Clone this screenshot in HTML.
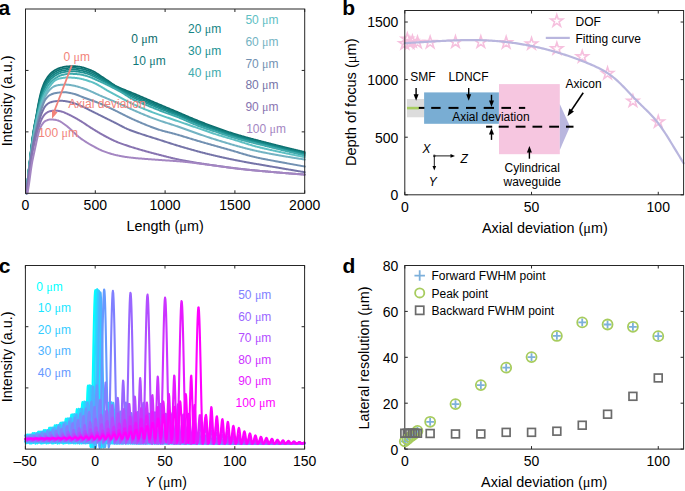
<!DOCTYPE html>
<html><head><meta charset="utf-8"><style>
html,body{margin:0;padding:0;background:#fff;}
svg{display:block;}
text{font-family:"Liberation Sans",sans-serif;}
</style></head><body>
<svg width="685" height="491" viewBox="0 0 685 491">
<rect width="685" height="491" fill="#fff"/>
<path d="M26.50,193.30 L27.20,184.81 L27.89,177.09 L28.59,170.30 L29.29,164.13 L29.99,158.12 L30.68,151.97 L31.38,145.94 L32.08,140.42 L32.78,135.39 L33.47,130.74 L34.17,126.52 L34.87,122.81 L35.56,119.31 L36.26,115.60 L36.96,111.53 L37.66,107.44 L38.35,103.73 L39.05,100.24 L39.75,96.92 L40.44,93.91 L41.14,91.36 L41.84,89.13 L42.54,87.07 L43.23,85.18 L43.93,83.46 L44.63,81.95 L45.33,80.63 L46.02,79.46 L46.72,78.37 L47.42,77.33 L48.11,76.37 L48.81,75.47 L49.51,74.63 L50.21,73.86 L50.90,73.16 L51.60,72.52 L52.30,71.95 L53.00,71.44 L53.69,70.95 L54.39,70.49 L55.09,70.06 L55.78,69.66 L56.48,69.29 L57.18,68.94 L57.88,68.63 L58.57,68.35 L59.27,68.11 L59.97,67.89 L60.66,67.68 L61.36,67.48 L62.06,67.29 L62.76,67.11 L63.45,66.95 L64.15,66.80 L64.85,66.67 L65.55,66.56 L66.24,66.47 L66.94,66.40 L67.64,66.35 L68.33,66.30 L69.03,66.25 L69.73,66.21 L70.43,66.18 L71.12,66.14 L71.82,66.12 L72.52,66.11 L73.22,66.10 L73.91,66.11 L74.61,66.14 L75.31,66.19 L76.00,66.25 L76.70,66.33 L77.40,66.42 L78.10,66.52 L78.79,66.61 L79.49,66.71 L80.19,66.82 L80.88,66.95 L81.58,67.10 L82.28,67.26 L82.98,67.44 L83.67,67.63 L84.37,67.83 L85.07,68.05 L85.77,68.28 L86.46,68.51 L87.16,68.76 L87.86,69.02 L88.55,69.28 L89.25,69.55 L89.95,69.83 L90.65,70.11 L91.34,70.39 L92.04,70.69 L92.74,71.01 L93.44,71.35 L94.13,71.72 L94.83,72.11 L95.53,72.52 L96.22,72.94 L96.92,73.38 L97.62,73.83 L98.32,74.28 L99.01,74.75 L99.71,75.22 L100.41,75.69 L101.11,76.16 L101.80,76.63 L102.50,77.09 L103.20,77.55 L103.89,78.00 L104.59,78.44 L105.29,78.90 L105.99,79.37 L106.68,79.85 L107.38,80.33 L108.08,80.82 L108.77,81.31 L109.47,81.80 L110.17,82.28 L110.87,82.76 L111.56,83.24 L112.26,83.70 L112.96,84.16 L113.66,84.60 L114.35,85.02 L115.05,85.43 L115.75,85.81 L116.44,86.18 L117.14,86.53 L117.84,86.87 L118.54,87.20 L119.23,87.52 L119.93,87.84 L120.63,88.14 L121.33,88.44 L122.02,88.74 L122.72,89.03 L123.42,89.31 L124.11,89.60 L124.81,89.88 L125.51,90.16 L126.21,90.44 L126.90,90.73 L127.60,91.01 L128.30,91.30 L128.99,91.59 L129.69,91.87 L130.39,92.15 L131.09,92.43 L131.78,92.70 L132.48,92.98 L133.18,93.26 L133.88,93.54 L134.57,93.82 L135.27,94.11 L135.97,94.40 L136.66,94.70 L137.36,95.00 L138.06,95.29 L138.76,95.60 L139.45,95.90 L140.15,96.20 L140.85,96.50 L141.55,96.81 L142.24,97.11 L142.94,97.41 L143.64,97.71 L144.33,98.01 L145.03,98.31 L145.73,98.61 L146.43,98.91 L147.12,99.21 L147.82,99.51 L148.52,99.80 L149.21,100.10 L149.91,100.40 L150.61,100.70 L151.31,100.99 L152.00,101.29 L152.70,101.59 L153.40,101.88 L154.10,102.18 L154.79,102.48 L155.49,102.77 L156.19,103.07 L156.88,103.36 L157.58,103.66 L158.28,103.96 L158.98,104.25 L159.67,104.55 L160.37,104.84 L161.07,105.14 L161.77,105.43 L162.46,105.73 L163.16,106.02 L163.86,106.32 L164.55,106.61 L165.25,106.91 L165.95,107.20 L166.65,107.49 L167.34,107.79 L168.04,108.08 L168.74,108.37 L169.43,108.67 L170.13,108.96 L170.83,109.25 L171.53,109.54 L172.22,109.84 L172.92,110.13 L173.62,110.42 L174.32,110.71 L175.01,111.01 L175.71,111.30 L176.41,111.59 L177.10,111.89 L177.80,112.18 L178.50,112.48 L179.20,112.78 L179.89,113.07 L180.59,113.37 L181.29,113.67 L181.99,113.97 L182.68,114.26 L183.38,114.56 L184.08,114.86 L184.77,115.16 L185.47,115.46 L186.17,115.75 L186.87,116.05 L187.56,116.35 L188.26,116.64 L188.96,116.94 L189.65,117.24 L190.35,117.53 L191.05,117.82 L191.75,118.12 L192.44,118.41 L193.14,118.70 L193.84,118.99 L194.54,119.28 L195.23,119.57 L195.93,119.86 L196.63,120.14 L197.32,120.42 L198.02,120.71 L198.72,120.99 L199.42,121.27 L200.11,121.55 L200.81,121.82 L201.51,122.10 L202.21,122.37 L202.90,122.64 L203.60,122.92 L204.30,123.19 L204.99,123.46 L205.69,123.73 L206.39,124.00 L207.09,124.26 L207.78,124.53 L208.48,124.79 L209.18,125.06 L209.87,125.32 L210.57,125.58 L211.27,125.84 L211.97,126.09 L212.66,126.35 L213.36,126.61 L214.06,126.86 L214.76,127.11 L215.45,127.36 L216.15,127.61 L216.85,127.86 L217.54,128.11 L218.24,128.36 L218.94,128.61 L219.64,128.86 L220.33,129.11 L221.03,129.35 L221.73,129.60 L222.43,129.84 L223.12,130.09 L223.82,130.33 L224.52,130.57 L225.21,130.81 L225.91,131.05 L226.61,131.29 L227.31,131.52 L228.00,131.76 L228.70,131.99 L229.40,132.22 L230.09,132.45 L230.79,132.68 L231.49,132.90 L232.19,133.12 L232.88,133.34 L233.58,133.56 L234.28,133.78 L234.98,133.99 L235.67,134.20 L236.37,134.42 L237.07,134.62 L237.76,134.83 L238.46,135.04 L239.16,135.24 L239.86,135.45 L240.55,135.65 L241.25,135.85 L241.95,136.05 L242.65,136.25 L243.34,136.45 L244.04,136.64 L244.74,136.84 L245.43,137.04 L246.13,137.23 L246.83,137.42 L247.53,137.61 L248.22,137.80 L248.92,137.99 L249.62,138.18 L250.32,138.37 L251.01,138.56 L251.71,138.75 L252.41,138.93 L253.10,139.12 L253.80,139.30 L254.50,139.49 L255.20,139.67 L255.89,139.85 L256.59,140.04 L257.29,140.22 L257.98,140.40 L258.68,140.58 L259.38,140.76 L260.08,140.95 L260.77,141.13 L261.47,141.31 L262.17,141.49 L262.87,141.67 L263.56,141.84 L264.26,142.02 L264.96,142.20 L265.65,142.38 L266.35,142.56 L267.05,142.74 L267.75,142.92 L268.44,143.10 L269.14,143.28 L269.84,143.46 L270.54,143.64 L271.23,143.82 L271.93,144.00 L272.63,144.17 L273.32,144.35 L274.02,144.53 L274.72,144.71 L275.42,144.88 L276.11,145.06 L276.81,145.24 L277.51,145.41 L278.20,145.59 L278.90,145.76 L279.60,145.94 L280.30,146.11 L280.99,146.29 L281.69,146.46 L282.39,146.64 L283.09,146.81 L283.78,146.98 L284.48,147.16 L285.18,147.33 L285.87,147.50 L286.57,147.67 L287.27,147.84 L287.97,148.01 L288.66,148.18 L289.36,148.35 L290.06,148.52 L290.76,148.69 L291.45,148.86 L292.15,149.03 L292.85,149.20 L293.54,149.37 L294.24,149.53 L294.94,149.70 L295.64,149.87 L296.33,150.03 L297.03,150.20 L297.73,150.36 L298.42,150.53 L299.12,150.69 L299.82,150.86 L300.52,151.02 L301.21,151.19 L301.91,151.35 L302.61,151.51 L303.31,151.68 L304.00,151.84 L304.70,152.00" fill="none" stroke="#0b6c6c" stroke-width="1.75" stroke-linejoin="round" stroke-linecap="round" />
<path d="M26.50,193.30 L27.20,184.91 L27.89,177.29 L28.59,170.59 L29.29,164.51 L29.99,158.56 L30.68,152.45 L31.38,146.46 L32.08,140.97 L32.78,135.98 L33.47,131.36 L34.17,127.19 L34.87,123.51 L35.56,120.06 L36.26,116.48 L36.96,112.61 L37.66,108.75 L38.35,105.22 L39.05,101.90 L39.75,98.75 L40.44,95.87 L41.14,93.38 L41.84,91.18 L42.54,89.16 L43.23,87.30 L43.93,85.61 L44.63,84.09 L45.33,82.75 L46.02,81.55 L46.72,80.43 L47.42,79.37 L48.11,78.38 L48.81,77.45 L49.51,76.60 L50.21,75.82 L50.90,75.11 L51.60,74.45 L52.30,73.86 L53.00,73.32 L53.69,72.82 L54.39,72.35 L55.09,71.90 L55.78,71.49 L56.48,71.10 L57.18,70.74 L57.88,70.41 L58.57,70.11 L59.27,69.84 L59.97,69.60 L60.66,69.38 L61.36,69.17 L62.06,68.98 L62.76,68.81 L63.45,68.65 L64.15,68.50 L64.85,68.37 L65.55,68.25 L66.24,68.16 L66.94,68.08 L67.64,68.02 L68.33,67.97 L69.03,67.92 L69.73,67.88 L70.43,67.85 L71.12,67.83 L71.82,67.82 L72.52,67.81 L73.22,67.81 L73.91,67.83 L74.61,67.86 L75.31,67.91 L76.00,67.97 L76.70,68.04 L77.40,68.12 L78.10,68.21 L78.79,68.30 L79.49,68.40 L80.19,68.51 L80.88,68.63 L81.58,68.77 L82.28,68.93 L82.98,69.10 L83.67,69.29 L84.37,69.48 L85.07,69.69 L85.77,69.91 L86.46,70.14 L87.16,70.38 L87.86,70.63 L88.55,70.89 L89.25,71.15 L89.95,71.42 L90.65,71.70 L91.34,71.99 L92.04,72.28 L92.74,72.60 L93.44,72.93 L94.13,73.29 L94.83,73.66 L95.53,74.05 L96.22,74.45 L96.92,74.86 L97.62,75.28 L98.32,75.71 L99.01,76.14 L99.71,76.57 L100.41,77.01 L101.11,77.44 L101.80,77.88 L102.50,78.31 L103.20,78.74 L103.89,79.16 L104.59,79.58 L105.29,80.01 L105.99,80.45 L106.68,80.90 L107.38,81.35 L108.08,81.80 L108.77,82.26 L109.47,82.72 L110.17,83.17 L110.87,83.62 L111.56,84.07 L112.26,84.51 L112.96,84.95 L113.66,85.37 L114.35,85.78 L115.05,86.18 L115.75,86.56 L116.44,86.93 L117.14,87.28 L117.84,87.63 L118.54,87.97 L119.23,88.31 L119.93,88.64 L120.63,88.96 L121.33,89.28 L122.02,89.60 L122.72,89.92 L123.42,90.24 L124.11,90.56 L124.81,90.87 L125.51,91.19 L126.21,91.51 L126.90,91.83 L127.60,92.15 L128.30,92.48 L128.99,92.80 L129.69,93.12 L130.39,93.43 L131.09,93.74 L131.78,94.04 L132.48,94.35 L133.18,94.65 L133.88,94.95 L134.57,95.25 L135.27,95.55 L135.97,95.84 L136.66,96.14 L137.36,96.44 L138.06,96.73 L138.76,97.03 L139.45,97.32 L140.15,97.62 L140.85,97.91 L141.55,98.21 L142.24,98.50 L142.94,98.80 L143.64,99.09 L144.33,99.38 L145.03,99.68 L145.73,99.97 L146.43,100.27 L147.12,100.56 L147.82,100.85 L148.52,101.15 L149.21,101.44 L149.91,101.74 L150.61,102.03 L151.31,102.33 L152.00,102.62 L152.70,102.92 L153.40,103.21 L154.10,103.50 L154.79,103.80 L155.49,104.09 L156.19,104.39 L156.88,104.68 L157.58,104.97 L158.28,105.26 L158.98,105.56 L159.67,105.85 L160.37,106.14 L161.07,106.43 L161.77,106.72 L162.46,107.01 L163.16,107.30 L163.86,107.58 L164.55,107.87 L165.25,108.16 L165.95,108.44 L166.65,108.73 L167.34,109.01 L168.04,109.29 L168.74,109.57 L169.43,109.85 L170.13,110.13 L170.83,110.41 L171.53,110.69 L172.22,110.97 L172.92,111.25 L173.62,111.54 L174.32,111.82 L175.01,112.11 L175.71,112.39 L176.41,112.68 L177.10,112.97 L177.80,113.26 L178.50,113.56 L179.20,113.85 L179.89,114.15 L180.59,114.44 L181.29,114.74 L181.99,115.04 L182.68,115.34 L183.38,115.64 L184.08,115.94 L184.77,116.24 L185.47,116.54 L186.17,116.84 L186.87,117.14 L187.56,117.44 L188.26,117.74 L188.96,118.04 L189.65,118.33 L190.35,118.63 L191.05,118.93 L191.75,119.22 L192.44,119.52 L193.14,119.81 L193.84,120.10 L194.54,120.39 L195.23,120.68 L195.93,120.97 L196.63,121.25 L197.32,121.54 L198.02,121.82 L198.72,122.09 L199.42,122.37 L200.11,122.64 L200.81,122.92 L201.51,123.19 L202.21,123.45 L202.90,123.72 L203.60,123.99 L204.30,124.25 L204.99,124.51 L205.69,124.77 L206.39,125.03 L207.09,125.29 L207.78,125.55 L208.48,125.80 L209.18,126.06 L209.87,126.31 L210.57,126.56 L211.27,126.82 L211.97,127.07 L212.66,127.32 L213.36,127.57 L214.06,127.81 L214.76,128.06 L215.45,128.31 L216.15,128.55 L216.85,128.80 L217.54,129.04 L218.24,129.29 L218.94,129.54 L219.64,129.78 L220.33,130.03 L221.03,130.27 L221.73,130.51 L222.43,130.75 L223.12,131.00 L223.82,131.24 L224.52,131.48 L225.21,131.71 L225.91,131.95 L226.61,132.19 L227.31,132.42 L228.00,132.65 L228.70,132.88 L229.40,133.11 L230.09,133.34 L230.79,133.57 L231.49,133.79 L232.19,134.01 L232.88,134.23 L233.58,134.45 L234.28,134.66 L234.98,134.87 L235.67,135.08 L236.37,135.29 L237.07,135.50 L237.76,135.70 L238.46,135.91 L239.16,136.11 L239.86,136.31 L240.55,136.51 L241.25,136.71 L241.95,136.91 L242.65,137.10 L243.34,137.30 L244.04,137.49 L244.74,137.69 L245.43,137.88 L246.13,138.07 L246.83,138.26 L247.53,138.45 L248.22,138.64 L248.92,138.82 L249.62,139.01 L250.32,139.20 L251.01,139.38 L251.71,139.57 L252.41,139.75 L253.10,139.93 L253.80,140.12 L254.50,140.30 L255.20,140.48 L255.89,140.66 L256.59,140.84 L257.29,141.02 L257.98,141.20 L258.68,141.38 L259.38,141.56 L260.08,141.74 L260.77,141.92 L261.47,142.09 L262.17,142.27 L262.87,142.45 L263.56,142.63 L264.26,142.81 L264.96,142.98 L265.65,143.16 L266.35,143.34 L267.05,143.52 L267.75,143.69 L268.44,143.87 L269.14,144.05 L269.84,144.23 L270.54,144.41 L271.23,144.59 L271.93,144.76 L272.63,144.94 L273.32,145.12 L274.02,145.29 L274.72,145.47 L275.42,145.65 L276.11,145.82 L276.81,146.00 L277.51,146.17 L278.20,146.35 L278.90,146.52 L279.60,146.70 L280.30,146.87 L280.99,147.05 L281.69,147.22 L282.39,147.39 L283.09,147.57 L283.78,147.74 L284.48,147.91 L285.18,148.08 L285.87,148.26 L286.57,148.43 L287.27,148.60 L287.97,148.77 L288.66,148.94 L289.36,149.11 L290.06,149.28 L290.76,149.45 L291.45,149.62 L292.15,149.79 L292.85,149.96 L293.54,150.12 L294.24,150.29 L294.94,150.46 L295.64,150.63 L296.33,150.79 L297.03,150.96 L297.73,151.13 L298.42,151.29 L299.12,151.46 L299.82,151.62 L300.52,151.79 L301.21,151.95 L301.91,152.12 L302.61,152.28 L303.31,152.44 L304.00,152.61 L304.70,152.77" fill="none" stroke="#0f7878" stroke-width="1.75" stroke-linejoin="round" stroke-linecap="round" />
<path d="M26.50,193.30 L27.20,185.03 L27.89,177.51 L28.59,170.90 L29.29,164.90 L29.99,159.02 L30.68,152.96 L31.38,147.01 L32.08,141.55 L32.78,136.59 L33.47,132.02 L34.17,127.89 L34.87,124.24 L35.56,120.84 L36.26,117.39 L36.96,113.75 L37.66,110.13 L38.35,106.78 L39.05,103.65 L39.75,100.67 L40.44,97.91 L41.14,95.48 L41.84,93.32 L42.54,91.35 L43.23,89.52 L43.93,87.85 L44.63,86.32 L45.33,84.96 L46.02,83.74 L46.72,82.58 L47.42,81.49 L48.11,80.48 L48.81,79.53 L49.51,78.66 L50.21,77.87 L50.90,77.14 L51.60,76.47 L52.30,75.86 L53.00,75.30 L53.69,74.77 L54.39,74.28 L55.09,73.83 L55.78,73.41 L56.48,73.01 L57.18,72.63 L57.88,72.27 L58.57,71.95 L59.27,71.66 L59.97,71.39 L60.66,71.15 L61.36,70.94 L62.06,70.75 L62.76,70.58 L63.45,70.42 L64.15,70.27 L64.85,70.14 L65.55,70.02 L66.24,69.92 L66.94,69.83 L67.64,69.77 L68.33,69.71 L69.03,69.66 L69.73,69.63 L70.43,69.61 L71.12,69.59 L71.82,69.59 L72.52,69.59 L73.22,69.60 L73.91,69.62 L74.61,69.66 L75.31,69.70 L76.00,69.76 L76.70,69.83 L77.40,69.90 L78.10,69.98 L78.79,70.06 L79.49,70.16 L80.19,70.26 L80.88,70.39 L81.58,70.53 L82.28,70.68 L82.98,70.85 L83.67,71.03 L84.37,71.21 L85.07,71.41 L85.77,71.61 L86.46,71.83 L87.16,72.07 L87.86,72.31 L88.55,72.56 L89.25,72.82 L89.95,73.09 L90.65,73.37 L91.34,73.66 L92.04,73.95 L92.74,74.26 L93.44,74.58 L94.13,74.92 L94.83,75.28 L95.53,75.65 L96.22,76.02 L96.92,76.41 L97.62,76.80 L98.32,77.19 L99.01,77.59 L99.71,77.99 L100.41,78.39 L101.11,78.79 L101.80,79.19 L102.50,79.58 L103.20,79.98 L103.89,80.37 L104.59,80.76 L105.29,81.16 L105.99,81.57 L106.68,81.99 L107.38,82.41 L108.08,82.83 L108.77,83.25 L109.47,83.68 L110.17,84.10 L110.87,84.52 L111.56,84.94 L112.26,85.36 L112.96,85.77 L113.66,86.18 L114.35,86.57 L115.05,86.96 L115.75,87.34 L116.44,87.71 L117.14,88.07 L117.84,88.43 L118.54,88.78 L119.23,89.12 L119.93,89.47 L120.63,89.81 L121.33,90.16 L122.02,90.50 L122.72,90.85 L123.42,91.21 L124.11,91.56 L124.81,91.91 L125.51,92.27 L126.21,92.63 L126.90,92.99 L127.60,93.35 L128.30,93.71 L128.99,94.07 L129.69,94.42 L130.39,94.77 L131.09,95.11 L131.78,95.44 L132.48,95.78 L133.18,96.10 L133.88,96.42 L134.57,96.74 L135.27,97.04 L135.97,97.35 L136.66,97.65 L137.36,97.94 L138.06,98.24 L138.76,98.53 L139.45,98.82 L140.15,99.10 L140.85,99.39 L141.55,99.67 L142.24,99.96 L142.94,100.24 L143.64,100.53 L144.33,100.81 L145.03,101.10 L145.73,101.39 L146.43,101.68 L147.12,101.97 L147.82,102.27 L148.52,102.56 L149.21,102.85 L149.91,103.14 L150.61,103.43 L151.31,103.72 L152.00,104.02 L152.70,104.31 L153.40,104.60 L154.10,104.89 L154.79,105.18 L155.49,105.47 L156.19,105.76 L156.88,106.05 L157.58,106.34 L158.28,106.63 L158.98,106.92 L159.67,107.21 L160.37,107.49 L161.07,107.78 L161.77,108.06 L162.46,108.34 L163.16,108.63 L163.86,108.91 L164.55,109.19 L165.25,109.47 L165.95,109.74 L166.65,110.01 L167.34,110.28 L168.04,110.55 L168.74,110.82 L169.43,111.09 L170.13,111.36 L170.83,111.62 L171.53,111.89 L172.22,112.16 L172.92,112.43 L173.62,112.70 L174.32,112.98 L175.01,113.26 L175.71,113.54 L176.41,113.82 L177.10,114.11 L177.80,114.39 L178.50,114.68 L179.20,114.98 L179.89,115.27 L180.59,115.57 L181.29,115.87 L181.99,116.16 L182.68,116.46 L183.38,116.76 L184.08,117.07 L184.77,117.37 L185.47,117.67 L186.17,117.97 L186.87,118.28 L187.56,118.58 L188.26,118.88 L188.96,119.18 L189.65,119.48 L190.35,119.78 L191.05,120.08 L191.75,120.38 L192.44,120.68 L193.14,120.97 L193.84,121.27 L194.54,121.56 L195.23,121.85 L195.93,122.13 L196.63,122.42 L197.32,122.70 L198.02,122.98 L198.72,123.25 L199.42,123.52 L200.11,123.79 L200.81,124.06 L201.51,124.32 L202.21,124.59 L202.90,124.85 L203.60,125.10 L204.30,125.36 L204.99,125.61 L205.69,125.87 L206.39,126.12 L207.09,126.37 L207.78,126.61 L208.48,126.86 L209.18,127.11 L209.87,127.35 L210.57,127.60 L211.27,127.84 L211.97,128.08 L212.66,128.33 L213.36,128.57 L214.06,128.81 L214.76,129.05 L215.45,129.29 L216.15,129.53 L216.85,129.78 L217.54,130.02 L218.24,130.26 L218.94,130.50 L219.64,130.74 L220.33,130.99 L221.03,131.23 L221.73,131.47 L222.43,131.71 L223.12,131.95 L223.82,132.19 L224.52,132.42 L225.21,132.66 L225.91,132.89 L226.61,133.13 L227.31,133.36 L228.00,133.59 L228.70,133.82 L229.40,134.05 L230.09,134.27 L230.79,134.50 L231.49,134.72 L232.19,134.94 L232.88,135.16 L233.58,135.37 L234.28,135.58 L234.98,135.79 L235.67,136.00 L236.37,136.21 L237.07,136.41 L237.76,136.61 L238.46,136.81 L239.16,137.01 L239.86,137.21 L240.55,137.41 L241.25,137.61 L241.95,137.80 L242.65,138.00 L243.34,138.19 L244.04,138.38 L244.74,138.57 L245.43,138.76 L246.13,138.95 L246.83,139.14 L247.53,139.32 L248.22,139.51 L248.92,139.69 L249.62,139.88 L250.32,140.06 L251.01,140.24 L251.71,140.42 L252.41,140.60 L253.10,140.79 L253.80,140.97 L254.50,141.14 L255.20,141.32 L255.89,141.50 L256.59,141.68 L257.29,141.86 L257.98,142.04 L258.68,142.21 L259.38,142.39 L260.08,142.57 L260.77,142.74 L261.47,142.92 L262.17,143.09 L262.87,143.27 L263.56,143.45 L264.26,143.62 L264.96,143.80 L265.65,143.97 L266.35,144.15 L267.05,144.33 L267.75,144.50 L268.44,144.68 L269.14,144.86 L269.84,145.03 L270.54,145.21 L271.23,145.39 L271.93,145.57 L272.63,145.74 L273.32,145.92 L274.02,146.09 L274.72,146.27 L275.42,146.45 L276.11,146.62 L276.81,146.80 L277.51,146.97 L278.20,147.15 L278.90,147.32 L279.60,147.49 L280.30,147.67 L280.99,147.84 L281.69,148.01 L282.39,148.19 L283.09,148.36 L283.78,148.53 L284.48,148.70 L285.18,148.88 L285.87,149.05 L286.57,149.22 L287.27,149.39 L287.97,149.56 L288.66,149.73 L289.36,149.90 L290.06,150.07 L290.76,150.24 L291.45,150.41 L292.15,150.58 L292.85,150.75 L293.54,150.92 L294.24,151.09 L294.94,151.25 L295.64,151.42 L296.33,151.59 L297.03,151.76 L297.73,151.92 L298.42,152.09 L299.12,152.26 L299.82,152.42 L300.52,152.59 L301.21,152.75 L301.91,152.92 L302.61,153.08 L303.31,153.25 L304.00,153.41 L304.70,153.57" fill="none" stroke="#158484" stroke-width="1.75" stroke-linejoin="round" stroke-linecap="round" />
<path d="M26.50,193.30 L27.20,185.14 L27.89,177.72 L28.59,171.21 L29.29,165.29 L29.99,159.48 L30.68,153.47 L31.38,147.55 L32.08,142.13 L32.78,137.21 L33.47,132.67 L34.17,128.59 L34.87,124.98 L35.56,121.62 L36.26,118.30 L36.96,114.88 L37.66,111.50 L38.35,108.34 L39.05,105.39 L39.75,102.59 L40.44,99.96 L41.14,97.59 L41.84,95.46 L42.54,93.54 L43.23,91.74 L43.93,90.08 L44.63,88.56 L45.33,87.18 L46.02,85.92 L46.72,84.74 L47.42,83.62 L48.11,82.57 L48.81,81.61 L49.51,80.72 L50.21,79.92 L50.90,79.18 L51.60,78.49 L52.30,77.86 L53.00,77.27 L53.69,76.72 L54.39,76.22 L55.09,75.76 L55.78,75.33 L56.48,74.91 L57.18,74.51 L57.88,74.13 L58.57,73.79 L59.27,73.47 L59.97,73.19 L60.66,72.93 L61.36,72.71 L62.06,72.52 L62.76,72.36 L63.45,72.20 L64.15,72.05 L64.85,71.91 L65.55,71.79 L66.24,71.68 L66.94,71.59 L67.64,71.51 L68.33,71.45 L69.03,71.40 L69.73,71.37 L70.43,71.36 L71.12,71.36 L71.82,71.36 L72.52,71.37 L73.22,71.39 L73.91,71.42 L74.61,71.45 L75.31,71.50 L76.00,71.55 L76.70,71.61 L77.40,71.68 L78.10,71.75 L78.79,71.82 L79.49,71.92 L80.19,72.02 L80.88,72.15 L81.58,72.28 L82.28,72.43 L82.98,72.59 L83.67,72.76 L84.37,72.94 L85.07,73.13 L85.77,73.32 L86.46,73.53 L87.16,73.75 L87.86,73.99 L88.55,74.24 L89.25,74.50 L89.95,74.76 L90.65,75.04 L91.34,75.32 L92.04,75.61 L92.74,75.92 L93.44,76.23 L94.13,76.56 L94.83,76.90 L95.53,77.25 L96.22,77.60 L96.92,77.95 L97.62,78.31 L98.32,78.68 L99.01,79.04 L99.71,79.40 L100.41,79.76 L101.11,80.13 L101.80,80.49 L102.50,80.86 L103.20,81.22 L103.89,81.58 L104.59,81.95 L105.29,82.32 L105.99,82.70 L106.68,83.08 L107.38,83.46 L108.08,83.85 L108.77,84.24 L109.47,84.64 L110.17,85.03 L110.87,85.42 L111.56,85.82 L112.26,86.21 L112.96,86.60 L113.66,86.98 L114.35,87.37 L115.05,87.75 L115.75,88.12 L116.44,88.49 L117.14,88.86 L117.84,89.22 L118.54,89.58 L119.23,89.94 L119.93,90.30 L120.63,90.66 L121.33,91.03 L122.02,91.41 L122.72,91.79 L123.42,92.17 L124.11,92.56 L124.81,92.96 L125.51,93.35 L126.21,93.75 L126.90,94.14 L127.60,94.54 L128.30,94.94 L128.99,95.33 L129.69,95.72 L130.39,96.10 L131.09,96.48 L131.78,96.84 L132.48,97.20 L133.18,97.55 L133.88,97.89 L134.57,98.22 L135.27,98.54 L135.97,98.85 L136.66,99.15 L137.36,99.45 L138.06,99.74 L138.76,100.03 L139.45,100.31 L140.15,100.59 L140.85,100.86 L141.55,101.14 L142.24,101.41 L142.94,101.69 L143.64,101.97 L144.33,102.25 L145.03,102.53 L145.73,102.81 L146.43,103.10 L147.12,103.39 L147.82,103.68 L148.52,103.96 L149.21,104.25 L149.91,104.54 L150.61,104.83 L151.31,105.12 L152.00,105.41 L152.70,105.70 L153.40,105.99 L154.10,106.28 L154.79,106.56 L155.49,106.85 L156.19,107.14 L156.88,107.43 L157.58,107.71 L158.28,108.00 L158.98,108.28 L159.67,108.56 L160.37,108.85 L161.07,109.13 L161.77,109.40 L162.46,109.68 L163.16,109.96 L163.86,110.23 L164.55,110.50 L165.25,110.77 L165.95,111.04 L166.65,111.30 L167.34,111.56 L168.04,111.82 L168.74,112.07 L169.43,112.33 L170.13,112.58 L170.83,112.84 L171.53,113.09 L172.22,113.35 L172.92,113.61 L173.62,113.87 L174.32,114.13 L175.01,114.40 L175.71,114.68 L176.41,114.96 L177.10,115.24 L177.80,115.52 L178.50,115.81 L179.20,116.10 L179.89,116.40 L180.59,116.69 L181.29,116.99 L181.99,117.29 L182.68,117.59 L183.38,117.89 L184.08,118.19 L184.77,118.50 L185.47,118.80 L186.17,119.11 L186.87,119.41 L187.56,119.72 L188.26,120.02 L188.96,120.33 L189.65,120.63 L190.35,120.94 L191.05,121.24 L191.75,121.54 L192.44,121.84 L193.14,122.13 L193.84,122.43 L194.54,122.72 L195.23,123.01 L195.93,123.30 L196.63,123.58 L197.32,123.86 L198.02,124.14 L198.72,124.41 L199.42,124.68 L200.11,124.94 L200.81,125.20 L201.51,125.46 L202.21,125.72 L202.90,125.97 L203.60,126.22 L204.30,126.47 L204.99,126.71 L205.69,126.96 L206.39,127.20 L207.09,127.44 L207.78,127.68 L208.48,127.92 L209.18,128.16 L209.87,128.39 L210.57,128.63 L211.27,128.86 L211.97,129.10 L212.66,129.33 L213.36,129.57 L214.06,129.81 L214.76,130.04 L215.45,130.28 L216.15,130.51 L216.85,130.75 L217.54,130.99 L218.24,131.23 L218.94,131.47 L219.64,131.71 L220.33,131.95 L221.03,132.18 L221.73,132.42 L222.43,132.66 L223.12,132.90 L223.82,133.13 L224.52,133.37 L225.21,133.60 L225.91,133.84 L226.61,134.07 L227.31,134.30 L228.00,134.53 L228.70,134.76 L229.40,134.98 L230.09,135.21 L230.79,135.43 L231.49,135.65 L232.19,135.87 L232.88,136.08 L233.58,136.30 L234.28,136.51 L234.98,136.71 L235.67,136.92 L236.37,137.12 L237.07,137.32 L237.76,137.52 L238.46,137.72 L239.16,137.92 L239.86,138.12 L240.55,138.31 L241.25,138.50 L241.95,138.70 L242.65,138.89 L243.34,139.08 L244.04,139.27 L244.74,139.45 L245.43,139.64 L246.13,139.83 L246.83,140.01 L247.53,140.19 L248.22,140.38 L248.92,140.56 L249.62,140.74 L250.32,140.92 L251.01,141.10 L251.71,141.28 L252.41,141.46 L253.10,141.64 L253.80,141.82 L254.50,141.99 L255.20,142.17 L255.89,142.34 L256.59,142.52 L257.29,142.70 L257.98,142.87 L258.68,143.05 L259.38,143.22 L260.08,143.39 L260.77,143.57 L261.47,143.74 L262.17,143.92 L262.87,144.09 L263.56,144.26 L264.26,144.44 L264.96,144.61 L265.65,144.79 L266.35,144.96 L267.05,145.14 L267.75,145.31 L268.44,145.49 L269.14,145.66 L269.84,145.84 L270.54,146.02 L271.23,146.19 L271.93,146.37 L272.63,146.54 L273.32,146.72 L274.02,146.89 L274.72,147.07 L275.42,147.24 L276.11,147.42 L276.81,147.59 L277.51,147.77 L278.20,147.94 L278.90,148.11 L279.60,148.29 L280.30,148.46 L280.99,148.63 L281.69,148.81 L282.39,148.98 L283.09,149.15 L283.78,149.32 L284.48,149.50 L285.18,149.67 L285.87,149.84 L286.57,150.01 L287.27,150.18 L287.97,150.35 L288.66,150.52 L289.36,150.69 L290.06,150.86 L290.76,151.03 L291.45,151.20 L292.15,151.37 L292.85,151.54 L293.54,151.71 L294.24,151.88 L294.94,152.05 L295.64,152.22 L296.33,152.38 L297.03,152.55 L297.73,152.72 L298.42,152.89 L299.12,153.05 L299.82,153.22 L300.52,153.39 L301.21,153.55 L301.91,153.72 L302.61,153.88 L303.31,154.05 L304.00,154.21 L304.70,154.38" fill="none" stroke="#219293" stroke-width="1.75" stroke-linejoin="round" stroke-linecap="round" />
<path d="M26.50,193.30 L27.20,185.30 L27.89,178.02 L28.59,171.63 L29.29,165.83 L29.99,160.12 L30.68,154.17 L31.38,148.30 L32.08,142.94 L32.78,138.06 L33.47,133.58 L34.17,129.57 L34.87,126.00 L35.56,122.71 L36.26,119.57 L36.96,116.46 L37.66,113.42 L38.35,110.51 L39.05,107.81 L39.75,105.25 L40.44,102.81 L41.14,100.52 L41.84,98.44 L42.54,96.58 L43.23,94.83 L43.93,93.20 L44.63,91.68 L45.33,90.26 L46.02,88.96 L46.72,87.74 L47.42,86.58 L48.11,85.50 L48.81,84.49 L49.51,83.58 L50.21,82.77 L50.90,82.01 L51.60,81.30 L52.30,80.63 L53.00,80.01 L53.69,79.44 L54.39,78.92 L55.09,78.44 L55.78,77.99 L56.48,77.55 L57.18,77.13 L57.88,76.72 L58.57,76.34 L59.27,75.99 L59.97,75.68 L60.66,75.40 L61.36,75.17 L62.06,74.99 L62.76,74.82 L63.45,74.67 L64.15,74.52 L64.85,74.38 L65.55,74.25 L66.24,74.13 L66.94,74.02 L67.64,73.94 L68.33,73.87 L69.03,73.82 L69.73,73.80 L70.43,73.80 L71.12,73.81 L71.82,73.83 L72.52,73.85 L73.22,73.88 L73.91,73.92 L74.61,73.96 L75.31,74.00 L76.00,74.05 L76.70,74.10 L77.40,74.15 L78.10,74.21 L78.79,74.28 L79.49,74.36 L80.19,74.47 L80.88,74.59 L81.58,74.72 L82.28,74.87 L82.98,75.02 L83.67,75.18 L84.37,75.35 L85.07,75.52 L85.77,75.70 L86.46,75.89 L87.16,76.10 L87.86,76.33 L88.55,76.57 L89.25,76.82 L89.95,77.08 L90.65,77.36 L91.34,77.64 L92.04,77.93 L92.74,78.23 L93.44,78.53 L94.13,78.84 L94.83,79.15 L95.53,79.47 L96.22,79.79 L96.92,80.11 L97.62,80.43 L98.32,80.74 L99.01,81.06 L99.71,81.37 L100.41,81.68 L101.11,81.99 L101.80,82.31 L102.50,82.63 L103.20,82.95 L103.89,83.27 L104.59,83.60 L105.29,83.93 L105.99,84.26 L106.68,84.60 L107.38,84.94 L108.08,85.28 L108.77,85.62 L109.47,85.97 L110.17,86.32 L110.87,86.67 L111.56,87.03 L112.26,87.39 L112.96,87.74 L113.66,88.11 L114.35,88.47 L115.05,88.84 L115.75,89.21 L116.44,89.58 L117.14,89.95 L117.84,90.33 L118.54,90.70 L119.23,91.08 L119.93,91.46 L120.63,91.85 L121.33,92.25 L122.02,92.66 L122.72,93.09 L123.42,93.52 L124.11,93.96 L124.81,94.40 L125.51,94.85 L126.21,95.30 L126.90,95.75 L127.60,96.20 L128.30,96.65 L128.99,97.09 L129.69,97.53 L130.39,97.96 L131.09,98.38 L131.78,98.79 L132.48,99.19 L133.18,99.57 L133.88,99.94 L134.57,100.29 L135.27,100.63 L135.97,100.95 L136.66,101.25 L137.36,101.55 L138.06,101.83 L138.76,102.11 L139.45,102.38 L140.15,102.65 L140.85,102.91 L141.55,103.18 L142.24,103.44 L142.94,103.70 L143.64,103.97 L144.33,104.24 L145.03,104.51 L145.73,104.79 L146.43,105.07 L147.12,105.36 L147.82,105.64 L148.52,105.92 L149.21,106.21 L149.91,106.49 L150.61,106.78 L151.31,107.06 L152.00,107.35 L152.70,107.63 L153.40,107.92 L154.10,108.20 L154.79,108.49 L155.49,108.77 L156.19,109.06 L156.88,109.34 L157.58,109.62 L158.28,109.90 L158.98,110.18 L159.67,110.45 L160.37,110.73 L161.07,111.00 L161.77,111.27 L162.46,111.54 L163.16,111.81 L163.86,112.07 L164.55,112.33 L165.25,112.59 L165.95,112.85 L166.65,113.09 L167.34,113.34 L168.04,113.58 L168.74,113.81 L169.43,114.05 L170.13,114.29 L170.83,114.52 L171.53,114.76 L172.22,115.00 L172.92,115.24 L173.62,115.49 L174.32,115.75 L175.01,116.00 L175.71,116.27 L176.41,116.54 L177.10,116.82 L177.80,117.10 L178.50,117.38 L179.20,117.67 L179.89,117.96 L180.59,118.25 L181.29,118.55 L181.99,118.85 L182.68,119.15 L183.38,119.46 L184.08,119.76 L184.77,120.07 L185.47,120.38 L186.17,120.69 L186.87,121.00 L187.56,121.31 L188.26,121.61 L188.96,121.92 L189.65,122.23 L190.35,122.54 L191.05,122.84 L191.75,123.15 L192.44,123.45 L193.14,123.75 L193.84,124.04 L194.54,124.34 L195.23,124.63 L195.93,124.91 L196.63,125.20 L197.32,125.48 L198.02,125.75 L198.72,126.02 L199.42,126.28 L200.11,126.54 L200.81,126.80 L201.51,127.05 L202.21,127.29 L202.90,127.54 L203.60,127.77 L204.30,128.01 L204.99,128.25 L205.69,128.48 L206.39,128.71 L207.09,128.94 L207.78,129.16 L208.48,129.39 L209.18,129.62 L209.87,129.84 L210.57,130.06 L211.27,130.29 L211.97,130.51 L212.66,130.74 L213.36,130.96 L214.06,131.19 L214.76,131.42 L215.45,131.65 L216.15,131.88 L216.85,132.11 L217.54,132.35 L218.24,132.58 L218.94,132.81 L219.64,133.05 L220.33,133.28 L221.03,133.52 L221.73,133.75 L222.43,133.99 L223.12,134.22 L223.82,134.45 L224.52,134.69 L225.21,134.92 L225.91,135.15 L226.61,135.38 L227.31,135.61 L228.00,135.84 L228.70,136.06 L229.40,136.29 L230.09,136.51 L230.79,136.73 L231.49,136.94 L232.19,137.16 L232.88,137.37 L233.58,137.58 L234.28,137.79 L234.98,137.99 L235.67,138.19 L236.37,138.39 L237.07,138.59 L237.76,138.79 L238.46,138.99 L239.16,139.18 L239.86,139.37 L240.55,139.56 L241.25,139.75 L241.95,139.94 L242.65,140.13 L243.34,140.31 L244.04,140.50 L244.74,140.68 L245.43,140.87 L246.13,141.05 L246.83,141.23 L247.53,141.41 L248.22,141.59 L248.92,141.77 L249.62,141.94 L250.32,142.12 L251.01,142.30 L251.71,142.47 L252.41,142.65 L253.10,142.82 L253.80,143.00 L254.50,143.17 L255.20,143.34 L255.89,143.52 L256.59,143.69 L257.29,143.86 L257.98,144.03 L258.68,144.20 L259.38,144.38 L260.08,144.55 L260.77,144.72 L261.47,144.89 L262.17,145.06 L262.87,145.23 L263.56,145.40 L264.26,145.58 L264.96,145.75 L265.65,145.92 L266.35,146.09 L267.05,146.26 L267.75,146.44 L268.44,146.61 L269.14,146.78 L269.84,146.96 L270.54,147.13 L271.23,147.31 L271.93,147.48 L272.63,147.66 L273.32,147.83 L274.02,148.01 L274.72,148.18 L275.42,148.35 L276.11,148.53 L276.81,148.70 L277.51,148.87 L278.20,149.05 L278.90,149.22 L279.60,149.39 L280.30,149.57 L280.99,149.74 L281.69,149.91 L282.39,150.08 L283.09,150.25 L283.78,150.43 L284.48,150.60 L285.18,150.77 L285.87,150.94 L286.57,151.11 L287.27,151.28 L287.97,151.45 L288.66,151.62 L289.36,151.79 L290.06,151.96 L290.76,152.13 L291.45,152.30 L292.15,152.47 L292.85,152.64 L293.54,152.81 L294.24,152.98 L294.94,153.15 L295.64,153.32 L296.33,153.49 L297.03,153.66 L297.73,153.83 L298.42,153.99 L299.12,154.16 L299.82,154.33 L300.52,154.50 L301.21,154.67 L301.91,154.83 L302.61,155.00 L303.31,155.17 L304.00,155.33 L304.70,155.50" fill="none" stroke="#3eaaac" stroke-width="2.0" stroke-linejoin="round" stroke-linecap="round" />
<path d="M26.50,193.30 L27.20,185.55 L27.89,178.49 L28.59,172.28 L29.29,166.62 L29.99,161.11 L30.68,155.50 L31.38,150.02 L32.08,144.96 L32.78,140.31 L33.47,136.00 L34.17,132.08 L34.87,128.51 L35.56,125.19 L36.26,122.05 L36.96,119.03 L37.66,116.15 L38.35,113.42 L39.05,110.82 L39.75,108.29 L40.44,105.84 L41.14,103.53 L41.84,101.44 L42.54,99.58 L43.23,97.83 L43.93,96.20 L44.63,94.68 L45.33,93.26 L46.02,91.96 L46.72,90.75 L47.42,89.62 L48.11,88.57 L48.81,87.58 L49.51,86.64 L50.21,85.74 L50.90,84.83 L51.60,83.93 L52.30,83.06 L53.00,82.24 L53.69,81.52 L54.39,80.91 L55.09,80.45 L55.78,80.06 L56.48,79.71 L57.18,79.38 L57.88,79.09 L58.57,78.83 L59.27,78.60 L59.97,78.41 L60.66,78.26 L61.36,78.14 L62.06,78.03 L62.76,77.93 L63.45,77.84 L64.15,77.75 L64.85,77.67 L65.55,77.61 L66.24,77.56 L66.94,77.52 L67.64,77.50 L68.33,77.50 L69.03,77.51 L69.73,77.53 L70.43,77.56 L71.12,77.60 L71.82,77.64 L72.52,77.69 L73.22,77.75 L73.91,77.81 L74.61,77.87 L75.31,77.93 L76.00,78.00 L76.70,78.07 L77.40,78.16 L78.10,78.26 L78.79,78.37 L79.49,78.50 L80.19,78.64 L80.88,78.79 L81.58,78.94 L82.28,79.11 L82.98,79.29 L83.67,79.48 L84.37,79.67 L85.07,79.87 L85.77,80.08 L86.46,80.29 L87.16,80.51 L87.86,80.74 L88.55,80.97 L89.25,81.20 L89.95,81.43 L90.65,81.67 L91.34,81.91 L92.04,82.16 L92.74,82.42 L93.44,82.70 L94.13,83.01 L94.83,83.32 L95.53,83.66 L96.22,84.01 L96.92,84.37 L97.62,84.75 L98.32,85.13 L99.01,85.52 L99.71,85.93 L100.41,86.34 L101.11,86.75 L101.80,87.17 L102.50,87.59 L103.20,88.02 L103.89,88.44 L104.59,88.87 L105.29,89.29 L105.99,89.71 L106.68,90.13 L107.38,90.53 L108.08,90.94 L108.77,91.33 L109.47,91.72 L110.17,92.09 L110.87,92.46 L111.56,92.84 L112.26,93.21 L112.96,93.59 L113.66,93.96 L114.35,94.34 L115.05,94.72 L115.75,95.09 L116.44,95.47 L117.14,95.85 L117.84,96.23 L118.54,96.61 L119.23,96.98 L119.93,97.36 L120.63,97.73 L121.33,98.11 L122.02,98.48 L122.72,98.85 L123.42,99.22 L124.11,99.59 L124.81,99.96 L125.51,100.32 L126.21,100.69 L126.90,101.05 L127.60,101.40 L128.30,101.76 L128.99,102.11 L129.69,102.46 L130.39,102.81 L131.09,103.15 L131.78,103.49 L132.48,103.82 L133.18,104.15 L133.88,104.48 L134.57,104.80 L135.27,105.12 L135.97,105.44 L136.66,105.75 L137.36,106.06 L138.06,106.37 L138.76,106.67 L139.45,106.98 L140.15,107.28 L140.85,107.57 L141.55,107.87 L142.24,108.16 L142.94,108.45 L143.64,108.74 L144.33,109.03 L145.03,109.31 L145.73,109.59 L146.43,109.87 L147.12,110.15 L147.82,110.43 L148.52,110.70 L149.21,110.98 L149.91,111.25 L150.61,111.52 L151.31,111.79 L152.00,112.06 L152.70,112.33 L153.40,112.59 L154.10,112.86 L154.79,113.12 L155.49,113.38 L156.19,113.64 L156.88,113.90 L157.58,114.16 L158.28,114.41 L158.98,114.66 L159.67,114.91 L160.37,115.16 L161.07,115.41 L161.77,115.65 L162.46,115.90 L163.16,116.14 L163.86,116.38 L164.55,116.62 L165.25,116.86 L165.95,117.10 L166.65,117.34 L167.34,117.58 L168.04,117.82 L168.74,118.05 L169.43,118.29 L170.13,118.53 L170.83,118.77 L171.53,119.00 L172.22,119.24 L172.92,119.48 L173.62,119.72 L174.32,119.96 L175.01,120.20 L175.71,120.45 L176.41,120.69 L177.10,120.93 L177.80,121.17 L178.50,121.41 L179.20,121.65 L179.89,121.89 L180.59,122.13 L181.29,122.37 L181.99,122.61 L182.68,122.85 L183.38,123.09 L184.08,123.33 L184.77,123.57 L185.47,123.81 L186.17,124.05 L186.87,124.29 L187.56,124.53 L188.26,124.77 L188.96,125.00 L189.65,125.24 L190.35,125.48 L191.05,125.72 L191.75,125.96 L192.44,126.20 L193.14,126.44 L193.84,126.68 L194.54,126.92 L195.23,127.16 L195.93,127.40 L196.63,127.64 L197.32,127.88 L198.02,128.12 L198.72,128.36 L199.42,128.60 L200.11,128.84 L200.81,129.08 L201.51,129.32 L202.21,129.57 L202.90,129.81 L203.60,130.06 L204.30,130.31 L204.99,130.56 L205.69,130.80 L206.39,131.05 L207.09,131.30 L207.78,131.54 L208.48,131.79 L209.18,132.03 L209.87,132.28 L210.57,132.52 L211.27,132.76 L211.97,132.99 L212.66,133.23 L213.36,133.46 L214.06,133.69 L214.76,133.92 L215.45,134.15 L216.15,134.37 L216.85,134.59 L217.54,134.81 L218.24,135.02 L218.94,135.24 L219.64,135.45 L220.33,135.66 L221.03,135.87 L221.73,136.08 L222.43,136.29 L223.12,136.49 L223.82,136.70 L224.52,136.90 L225.21,137.11 L225.91,137.31 L226.61,137.52 L227.31,137.72 L228.00,137.92 L228.70,138.13 L229.40,138.33 L230.09,138.54 L230.79,138.74 L231.49,138.95 L232.19,139.15 L232.88,139.36 L233.58,139.57 L234.28,139.78 L234.98,139.99 L235.67,140.21 L236.37,140.42 L237.07,140.64 L237.76,140.86 L238.46,141.08 L239.16,141.31 L239.86,141.53 L240.55,141.76 L241.25,141.98 L241.95,142.21 L242.65,142.43 L243.34,142.66 L244.04,142.89 L244.74,143.11 L245.43,143.33 L246.13,143.56 L246.83,143.78 L247.53,144.00 L248.22,144.22 L248.92,144.44 L249.62,144.65 L250.32,144.86 L251.01,145.07 L251.71,145.28 L252.41,145.48 L253.10,145.68 L253.80,145.87 L254.50,146.07 L255.20,146.25 L255.89,146.44 L256.59,146.62 L257.29,146.80 L257.98,146.98 L258.68,147.15 L259.38,147.33 L260.08,147.50 L260.77,147.67 L261.47,147.84 L262.17,148.01 L262.87,148.18 L263.56,148.34 L264.26,148.51 L264.96,148.67 L265.65,148.83 L266.35,148.99 L267.05,149.15 L267.75,149.31 L268.44,149.46 L269.14,149.62 L269.84,149.78 L270.54,149.93 L271.23,150.09 L271.93,150.24 L272.63,150.39 L273.32,150.55 L274.02,150.70 L274.72,150.85 L275.42,151.00 L276.11,151.15 L276.81,151.31 L277.51,151.46 L278.20,151.61 L278.90,151.76 L279.60,151.91 L280.30,152.06 L280.99,152.22 L281.69,152.37 L282.39,152.52 L283.09,152.67 L283.78,152.82 L284.48,152.97 L285.18,153.12 L285.87,153.27 L286.57,153.42 L287.27,153.56 L287.97,153.71 L288.66,153.86 L289.36,154.00 L290.06,154.15 L290.76,154.30 L291.45,154.44 L292.15,154.58 L292.85,154.73 L293.54,154.87 L294.24,155.02 L294.94,155.16 L295.64,155.30 L296.33,155.44 L297.03,155.58 L297.73,155.72 L298.42,155.86 L299.12,156.00 L299.82,156.14 L300.52,156.28 L301.21,156.42 L301.91,156.56 L302.61,156.69 L303.31,156.83 L304.00,156.96 L304.70,157.10" fill="none" stroke="#5ec0c4" stroke-width="2.0" stroke-linejoin="round" stroke-linecap="round" />
<path d="M26.50,193.30 L27.20,185.79 L27.89,178.96 L28.59,172.94 L29.29,167.45 L29.99,162.11 L30.68,156.67 L31.38,151.37 L32.08,146.48 L32.78,141.99 L33.47,137.84 L34.17,134.15 L34.87,130.88 L35.56,127.89 L36.26,124.99 L36.96,122.08 L37.66,119.21 L38.35,116.44 L39.05,113.82 L39.75,111.30 L40.44,108.86 L41.14,106.56 L41.84,104.45 L42.54,102.54 L43.23,100.73 L43.93,99.04 L44.63,97.50 L45.33,96.13 L46.02,94.91 L46.72,93.76 L47.42,92.68 L48.11,91.68 L48.81,90.78 L49.51,89.99 L50.21,89.31 L50.90,88.67 L51.60,88.07 L52.30,87.52 L53.00,87.02 L53.69,86.59 L54.39,86.24 L55.09,85.97 L55.78,85.75 L56.48,85.55 L57.18,85.37 L57.88,85.21 L58.57,85.08 L59.27,84.98 L59.97,84.90 L60.66,84.85 L61.36,84.79 L62.06,84.74 L62.76,84.70 L63.45,84.66 L64.15,84.64 L64.85,84.61 L65.55,84.60 L66.24,84.60 L66.94,84.63 L67.64,84.68 L68.33,84.75 L69.03,84.84 L69.73,84.95 L70.43,85.06 L71.12,85.18 L71.82,85.30 L72.52,85.42 L73.22,85.55 L73.91,85.68 L74.61,85.83 L75.31,86.00 L76.00,86.17 L76.70,86.35 L77.40,86.54 L78.10,86.74 L78.79,86.95 L79.49,87.17 L80.19,87.39 L80.88,87.61 L81.58,87.84 L82.28,88.07 L82.98,88.31 L83.67,88.55 L84.37,88.78 L85.07,89.02 L85.77,89.27 L86.46,89.53 L87.16,89.79 L87.86,90.07 L88.55,90.35 L89.25,90.65 L89.95,90.95 L90.65,91.25 L91.34,91.56 L92.04,91.88 L92.74,92.20 L93.44,92.52 L94.13,92.84 L94.83,93.16 L95.53,93.49 L96.22,93.81 L96.92,94.13 L97.62,94.45 L98.32,94.76 L99.01,95.07 L99.71,95.38 L100.41,95.67 L101.11,95.97 L101.80,96.27 L102.50,96.57 L103.20,96.86 L103.89,97.16 L104.59,97.45 L105.29,97.75 L105.99,98.04 L106.68,98.33 L107.38,98.62 L108.08,98.92 L108.77,99.21 L109.47,99.50 L110.17,99.80 L110.87,100.09 L111.56,100.38 L112.26,100.68 L112.96,100.97 L113.66,101.27 L114.35,101.56 L115.05,101.86 L115.75,102.16 L116.44,102.46 L117.14,102.76 L117.84,103.06 L118.54,103.36 L119.23,103.66 L119.93,103.97 L120.63,104.28 L121.33,104.59 L122.02,104.90 L122.72,105.22 L123.42,105.53 L124.11,105.85 L124.81,106.17 L125.51,106.49 L126.21,106.82 L126.90,107.14 L127.60,107.46 L128.30,107.78 L128.99,108.10 L129.69,108.42 L130.39,108.74 L131.09,109.06 L131.78,109.38 L132.48,109.69 L133.18,110.00 L133.88,110.31 L134.57,110.61 L135.27,110.92 L135.97,111.22 L136.66,111.52 L137.36,111.82 L138.06,112.12 L138.76,112.42 L139.45,112.72 L140.15,113.02 L140.85,113.31 L141.55,113.61 L142.24,113.91 L142.94,114.20 L143.64,114.50 L144.33,114.79 L145.03,115.08 L145.73,115.37 L146.43,115.65 L147.12,115.94 L147.82,116.22 L148.52,116.50 L149.21,116.78 L149.91,117.06 L150.61,117.33 L151.31,117.61 L152.00,117.88 L152.70,118.14 L153.40,118.41 L154.10,118.67 L154.79,118.92 L155.49,119.18 L156.19,119.43 L156.88,119.68 L157.58,119.92 L158.28,120.16 L158.98,120.40 L159.67,120.63 L160.37,120.87 L161.07,121.10 L161.77,121.33 L162.46,121.56 L163.16,121.78 L163.86,122.01 L164.55,122.23 L165.25,122.45 L165.95,122.68 L166.65,122.90 L167.34,123.12 L168.04,123.34 L168.74,123.56 L169.43,123.78 L170.13,124.01 L170.83,124.23 L171.53,124.46 L172.22,124.68 L172.92,124.91 L173.62,125.14 L174.32,125.37 L175.01,125.60 L175.71,125.84 L176.41,126.08 L177.10,126.31 L177.80,126.55 L178.50,126.79 L179.20,127.03 L179.89,127.28 L180.59,127.52 L181.29,127.76 L181.99,128.01 L182.68,128.25 L183.38,128.50 L184.08,128.74 L184.77,128.99 L185.47,129.24 L186.17,129.48 L186.87,129.73 L187.56,129.98 L188.26,130.23 L188.96,130.48 L189.65,130.73 L190.35,130.98 L191.05,131.23 L191.75,131.48 L192.44,131.72 L193.14,131.97 L193.84,132.22 L194.54,132.47 L195.23,132.72 L195.93,132.97 L196.63,133.22 L197.32,133.46 L198.02,133.71 L198.72,133.96 L199.42,134.20 L200.11,134.45 L200.81,134.69 L201.51,134.93 L202.21,135.17 L202.90,135.42 L203.60,135.66 L204.30,135.90 L204.99,136.13 L205.69,136.37 L206.39,136.61 L207.09,136.84 L207.78,137.08 L208.48,137.31 L209.18,137.54 L209.87,137.77 L210.57,137.99 L211.27,138.22 L211.97,138.44 L212.66,138.67 L213.36,138.89 L214.06,139.11 L214.76,139.32 L215.45,139.54 L216.15,139.76 L216.85,139.97 L217.54,140.19 L218.24,140.40 L218.94,140.61 L219.64,140.83 L220.33,141.04 L221.03,141.26 L221.73,141.47 L222.43,141.68 L223.12,141.89 L223.82,142.11 L224.52,142.32 L225.21,142.53 L225.91,142.74 L226.61,142.95 L227.31,143.16 L228.00,143.36 L228.70,143.57 L229.40,143.78 L230.09,143.98 L230.79,144.19 L231.49,144.39 L232.19,144.60 L232.88,144.80 L233.58,145.00 L234.28,145.20 L234.98,145.40 L235.67,145.60 L236.37,145.80 L237.07,145.99 L237.76,146.19 L238.46,146.38 L239.16,146.58 L239.86,146.77 L240.55,146.96 L241.25,147.15 L241.95,147.34 L242.65,147.53 L243.34,147.71 L244.04,147.90 L244.74,148.08 L245.43,148.26 L246.13,148.44 L246.83,148.62 L247.53,148.80 L248.22,148.98 L248.92,149.15 L249.62,149.32 L250.32,149.49 L251.01,149.66 L251.71,149.83 L252.41,150.00 L253.10,150.16 L253.80,150.32 L254.50,150.49 L255.20,150.64 L255.89,150.80 L256.59,150.96 L257.29,151.11 L257.98,151.26 L258.68,151.41 L259.38,151.56 L260.08,151.71 L260.77,151.86 L261.47,152.00 L262.17,152.15 L262.87,152.29 L263.56,152.43 L264.26,152.57 L264.96,152.71 L265.65,152.85 L266.35,152.98 L267.05,153.12 L267.75,153.25 L268.44,153.39 L269.14,153.52 L269.84,153.65 L270.54,153.78 L271.23,153.91 L271.93,154.04 L272.63,154.17 L273.32,154.30 L274.02,154.43 L274.72,154.55 L275.42,154.68 L276.11,154.81 L276.81,154.93 L277.51,155.06 L278.20,155.18 L278.90,155.30 L279.60,155.43 L280.30,155.55 L280.99,155.68 L281.69,155.80 L282.39,155.92 L283.09,156.04 L283.78,156.16 L284.48,156.28 L285.18,156.40 L285.87,156.52 L286.57,156.64 L287.27,156.76 L287.97,156.88 L288.66,156.99 L289.36,157.11 L290.06,157.22 L290.76,157.34 L291.45,157.45 L292.15,157.57 L292.85,157.68 L293.54,157.79 L294.24,157.90 L294.94,158.02 L295.64,158.13 L296.33,158.24 L297.03,158.34 L297.73,158.45 L298.42,158.56 L299.12,158.67 L299.82,158.77 L300.52,158.88 L301.21,158.99 L301.91,159.09 L302.61,159.19 L303.31,159.30 L304.00,159.40 L304.70,159.50" fill="none" stroke="#73b3c3" stroke-width="2.0" stroke-linejoin="round" stroke-linecap="round" />
<path d="M26.50,193.30 L27.20,186.34 L27.89,179.91 L28.59,174.12 L29.29,168.76 L29.99,163.60 L30.68,158.48 L31.38,153.54 L32.08,149.02 L32.78,144.94 L33.47,141.17 L34.17,137.68 L34.87,134.48 L35.56,131.47 L36.26,128.52 L36.96,125.50 L37.66,122.45 L38.35,119.50 L39.05,116.82 L39.75,114.37 L40.44,112.08 L41.14,109.94 L41.84,107.94 L42.54,106.04 L43.23,104.15 L43.93,102.38 L44.63,100.83 L45.33,99.61 L46.02,98.66 L46.72,97.80 L47.42,97.03 L48.11,96.35 L48.81,95.77 L49.51,95.28 L50.21,94.89 L50.90,94.55 L51.60,94.24 L52.30,93.96 L53.00,93.71 L53.69,93.50 L54.39,93.32 L55.09,93.18 L55.78,93.06 L56.48,92.94 L57.18,92.83 L57.88,92.72 L58.57,92.62 L59.27,92.52 L59.97,92.44 L60.66,92.37 L61.36,92.30 L62.06,92.26 L62.76,92.22 L63.45,92.20 L64.15,92.20 L64.85,92.23 L65.55,92.27 L66.24,92.34 L66.94,92.43 L67.64,92.54 L68.33,92.66 L69.03,92.79 L69.73,92.93 L70.43,93.08 L71.12,93.23 L71.82,93.38 L72.52,93.52 L73.22,93.69 L73.91,93.87 L74.61,94.06 L75.31,94.28 L76.00,94.51 L76.70,94.75 L77.40,95.01 L78.10,95.27 L78.79,95.55 L79.49,95.82 L80.19,96.10 L80.88,96.39 L81.58,96.67 L82.28,96.95 L82.98,97.23 L83.67,97.50 L84.37,97.77 L85.07,98.02 L85.77,98.28 L86.46,98.53 L87.16,98.77 L87.86,99.02 L88.55,99.27 L89.25,99.51 L89.95,99.76 L90.65,100.01 L91.34,100.25 L92.04,100.50 L92.74,100.75 L93.44,101.00 L94.13,101.25 L94.83,101.51 L95.53,101.77 L96.22,102.03 L96.92,102.29 L97.62,102.56 L98.32,102.83 L99.01,103.10 L99.71,103.38 L100.41,103.67 L101.11,103.96 L101.80,104.25 L102.50,104.56 L103.20,104.86 L103.89,105.18 L104.59,105.49 L105.29,105.81 L105.99,106.13 L106.68,106.45 L107.38,106.78 L108.08,107.10 L108.77,107.43 L109.47,107.75 L110.17,108.08 L110.87,108.41 L111.56,108.74 L112.26,109.07 L112.96,109.41 L113.66,109.75 L114.35,110.09 L115.05,110.44 L115.75,110.78 L116.44,111.13 L117.14,111.48 L117.84,111.83 L118.54,112.18 L119.23,112.54 L119.93,112.89 L120.63,113.25 L121.33,113.60 L122.02,113.95 L122.72,114.31 L123.42,114.66 L124.11,115.01 L124.81,115.36 L125.51,115.71 L126.21,116.06 L126.90,116.41 L127.60,116.75 L128.30,117.09 L128.99,117.43 L129.69,117.77 L130.39,118.10 L131.09,118.43 L131.78,118.75 L132.48,119.07 L133.18,119.39 L133.88,119.70 L134.57,120.01 L135.27,120.32 L135.97,120.62 L136.66,120.92 L137.36,121.22 L138.06,121.53 L138.76,121.83 L139.45,122.13 L140.15,122.42 L140.85,122.72 L141.55,123.02 L142.24,123.31 L142.94,123.61 L143.64,123.90 L144.33,124.19 L145.03,124.48 L145.73,124.76 L146.43,125.05 L147.12,125.33 L147.82,125.61 L148.52,125.89 L149.21,126.16 L149.91,126.43 L150.61,126.70 L151.31,126.97 L152.00,127.23 L152.70,127.49 L153.40,127.75 L154.10,128.01 L154.79,128.26 L155.49,128.50 L156.19,128.74 L156.88,128.98 L157.58,129.22 L158.28,129.45 L158.98,129.68 L159.67,129.90 L160.37,130.11 L161.07,130.33 L161.77,130.53 L162.46,130.73 L163.16,130.93 L163.86,131.12 L164.55,131.30 L165.25,131.48 L165.95,131.67 L166.65,131.84 L167.34,132.02 L168.04,132.19 L168.74,132.37 L169.43,132.54 L170.13,132.72 L170.83,132.90 L171.53,133.07 L172.22,133.25 L172.92,133.43 L173.62,133.62 L174.32,133.81 L175.01,134.00 L175.71,134.20 L176.41,134.40 L177.10,134.60 L177.80,134.80 L178.50,135.00 L179.20,135.21 L179.89,135.41 L180.59,135.62 L181.29,135.83 L181.99,136.04 L182.68,136.25 L183.38,136.46 L184.08,136.67 L184.77,136.88 L185.47,137.10 L186.17,137.31 L186.87,137.52 L187.56,137.74 L188.26,137.95 L188.96,138.16 L189.65,138.38 L190.35,138.59 L191.05,138.81 L191.75,139.02 L192.44,139.23 L193.14,139.45 L193.84,139.66 L194.54,139.87 L195.23,140.08 L195.93,140.29 L196.63,140.50 L197.32,140.71 L198.02,140.92 L198.72,141.12 L199.42,141.33 L200.11,141.53 L200.81,141.74 L201.51,141.94 L202.21,142.14 L202.90,142.34 L203.60,142.54 L204.30,142.74 L204.99,142.94 L205.69,143.14 L206.39,143.34 L207.09,143.54 L207.78,143.74 L208.48,143.94 L209.18,144.14 L209.87,144.33 L210.57,144.53 L211.27,144.73 L211.97,144.93 L212.66,145.12 L213.36,145.32 L214.06,145.52 L214.76,145.71 L215.45,145.91 L216.15,146.10 L216.85,146.30 L217.54,146.49 L218.24,146.69 L218.94,146.89 L219.64,147.08 L220.33,147.28 L221.03,147.47 L221.73,147.67 L222.43,147.86 L223.12,148.06 L223.82,148.26 L224.52,148.45 L225.21,148.65 L225.91,148.84 L226.61,149.04 L227.31,149.24 L228.00,149.43 L228.70,149.63 L229.40,149.83 L230.09,150.03 L230.79,150.23 L231.49,150.43 L232.19,150.63 L232.88,150.83 L233.58,151.04 L234.28,151.25 L234.98,151.45 L235.67,151.66 L236.37,151.87 L237.07,152.08 L237.76,152.29 L238.46,152.50 L239.16,152.71 L239.86,152.92 L240.55,153.13 L241.25,153.34 L241.95,153.55 L242.65,153.75 L243.34,153.96 L244.04,154.17 L244.74,154.37 L245.43,154.57 L246.13,154.77 L246.83,154.97 L247.53,155.17 L248.22,155.36 L248.92,155.55 L249.62,155.74 L250.32,155.93 L251.01,156.11 L251.71,156.29 L252.41,156.47 L253.10,156.65 L253.80,156.82 L254.50,156.98 L255.20,157.15 L255.89,157.31 L256.59,157.46 L257.29,157.62 L257.98,157.77 L258.68,157.92 L259.38,158.07 L260.08,158.22 L260.77,158.36 L261.47,158.50 L262.17,158.65 L262.87,158.79 L263.56,158.93 L264.26,159.06 L264.96,159.20 L265.65,159.33 L266.35,159.47 L267.05,159.60 L267.75,159.73 L268.44,159.86 L269.14,159.99 L269.84,160.12 L270.54,160.25 L271.23,160.38 L271.93,160.51 L272.63,160.64 L273.32,160.76 L274.02,160.89 L274.72,161.02 L275.42,161.15 L276.11,161.28 L276.81,161.40 L277.51,161.53 L278.20,161.66 L278.90,161.79 L279.60,161.92 L280.30,162.06 L280.99,162.19 L281.69,162.32 L282.39,162.45 L283.09,162.58 L283.78,162.71 L284.48,162.84 L285.18,162.97 L285.87,163.10 L286.57,163.23 L287.27,163.36 L287.97,163.49 L288.66,163.62 L289.36,163.74 L290.06,163.87 L290.76,164.00 L291.45,164.13 L292.15,164.26 L292.85,164.38 L293.54,164.51 L294.24,164.64 L294.94,164.76 L295.64,164.89 L296.33,165.01 L297.03,165.14 L297.73,165.26 L298.42,165.39 L299.12,165.51 L299.82,165.64 L300.52,165.76 L301.21,165.89 L301.91,166.01 L302.61,166.13 L303.31,166.25 L304.00,166.38 L304.70,166.50" fill="none" stroke="#7291b2" stroke-width="2.0" stroke-linejoin="round" stroke-linecap="round" />
<path d="M26.50,193.30 L27.20,186.88 L27.89,180.87 L28.59,175.30 L29.29,170.07 L29.99,165.10 L30.68,160.34 L31.38,155.80 L32.08,151.54 L32.78,147.45 L33.47,143.61 L34.17,140.22 L34.87,137.27 L35.56,134.56 L36.26,131.92 L36.96,129.20 L37.66,126.45 L38.35,123.79 L39.05,121.33 L39.75,119.01 L40.44,116.79 L41.14,114.72 L41.84,112.88 L42.54,111.25 L43.23,109.70 L43.93,108.27 L44.63,107.05 L45.33,106.08 L46.02,105.33 L46.72,104.65 L47.42,104.05 L48.11,103.52 L48.81,103.07 L49.51,102.70 L50.21,102.43 L50.90,102.19 L51.60,101.98 L52.30,101.80 L53.00,101.64 L53.69,101.50 L54.39,101.38 L55.09,101.29 L55.78,101.20 L56.48,101.12 L57.18,101.04 L57.88,100.97 L58.57,100.91 L59.27,100.86 L59.97,100.82 L60.66,100.80 L61.36,100.80 L62.06,100.83 L62.76,100.87 L63.45,100.94 L64.15,101.01 L64.85,101.11 L65.55,101.21 L66.24,101.31 L66.94,101.43 L67.64,101.54 L68.33,101.66 L69.03,101.79 L69.73,101.94 L70.43,102.11 L71.12,102.29 L71.82,102.49 L72.52,102.70 L73.22,102.93 L73.91,103.16 L74.61,103.40 L75.31,103.65 L76.00,103.91 L76.70,104.17 L77.40,104.43 L78.10,104.70 L78.79,104.97 L79.49,105.23 L80.19,105.51 L80.88,105.80 L81.58,106.10 L82.28,106.42 L82.98,106.74 L83.67,107.08 L84.37,107.42 L85.07,107.77 L85.77,108.12 L86.46,108.48 L87.16,108.84 L87.86,109.20 L88.55,109.56 L89.25,109.92 L89.95,110.27 L90.65,110.63 L91.34,110.97 L92.04,111.32 L92.74,111.66 L93.44,112.00 L94.13,112.35 L94.83,112.69 L95.53,113.03 L96.22,113.38 L96.92,113.73 L97.62,114.07 L98.32,114.42 L99.01,114.77 L99.71,115.11 L100.41,115.46 L101.11,115.81 L101.80,116.15 L102.50,116.50 L103.20,116.85 L103.89,117.20 L104.59,117.54 L105.29,117.89 L105.99,118.24 L106.68,118.59 L107.38,118.94 L108.08,119.29 L108.77,119.63 L109.47,119.98 L110.17,120.33 L110.87,120.68 L111.56,121.03 L112.26,121.38 L112.96,121.73 L113.66,122.08 L114.35,122.43 L115.05,122.77 L115.75,123.12 L116.44,123.47 L117.14,123.83 L117.84,124.19 L118.54,124.55 L119.23,124.91 L119.93,125.28 L120.63,125.65 L121.33,126.01 L122.02,126.38 L122.72,126.74 L123.42,127.10 L124.11,127.45 L124.81,127.80 L125.51,128.13 L126.21,128.47 L126.90,128.79 L127.60,129.10 L128.30,129.40 L128.99,129.69 L129.69,129.97 L130.39,130.24 L131.09,130.50 L131.78,130.76 L132.48,131.01 L133.18,131.26 L133.88,131.50 L134.57,131.75 L135.27,131.99 L135.97,132.24 L136.66,132.48 L137.36,132.72 L138.06,132.96 L138.76,133.19 L139.45,133.43 L140.15,133.66 L140.85,133.89 L141.55,134.13 L142.24,134.35 L142.94,134.58 L143.64,134.81 L144.33,135.04 L145.03,135.26 L145.73,135.48 L146.43,135.71 L147.12,135.93 L147.82,136.15 L148.52,136.37 L149.21,136.60 L149.91,136.82 L150.61,137.04 L151.31,137.26 L152.00,137.47 L152.70,137.69 L153.40,137.91 L154.10,138.13 L154.79,138.35 L155.49,138.57 L156.19,138.79 L156.88,139.01 L157.58,139.23 L158.28,139.45 L158.98,139.67 L159.67,139.90 L160.37,140.12 L161.07,140.34 L161.77,140.57 L162.46,140.79 L163.16,141.01 L163.86,141.24 L164.55,141.46 L165.25,141.69 L165.95,141.91 L166.65,142.14 L167.34,142.36 L168.04,142.59 L168.74,142.81 L169.43,143.03 L170.13,143.26 L170.83,143.48 L171.53,143.70 L172.22,143.92 L172.92,144.14 L173.62,144.36 L174.32,144.58 L175.01,144.79 L175.71,145.01 L176.41,145.22 L177.10,145.43 L177.80,145.64 L178.50,145.85 L179.20,146.06 L179.89,146.27 L180.59,146.47 L181.29,146.68 L181.99,146.88 L182.68,147.09 L183.38,147.29 L184.08,147.49 L184.77,147.70 L185.47,147.90 L186.17,148.10 L186.87,148.30 L187.56,148.50 L188.26,148.70 L188.96,148.90 L189.65,149.10 L190.35,149.30 L191.05,149.49 L191.75,149.69 L192.44,149.89 L193.14,150.08 L193.84,150.27 L194.54,150.47 L195.23,150.66 L195.93,150.85 L196.63,151.04 L197.32,151.23 L198.02,151.42 L198.72,151.61 L199.42,151.80 L200.11,151.98 L200.81,152.17 L201.51,152.35 L202.21,152.54 L202.90,152.72 L203.60,152.90 L204.30,153.08 L204.99,153.26 L205.69,153.43 L206.39,153.61 L207.09,153.78 L207.78,153.96 L208.48,154.13 L209.18,154.30 L209.87,154.47 L210.57,154.64 L211.27,154.81 L211.97,154.97 L212.66,155.14 L213.36,155.30 L214.06,155.47 L214.76,155.63 L215.45,155.79 L216.15,155.95 L216.85,156.11 L217.54,156.27 L218.24,156.43 L218.94,156.59 L219.64,156.75 L220.33,156.90 L221.03,157.06 L221.73,157.21 L222.43,157.37 L223.12,157.52 L223.82,157.67 L224.52,157.82 L225.21,157.97 L225.91,158.12 L226.61,158.27 L227.31,158.42 L228.00,158.57 L228.70,158.71 L229.40,158.86 L230.09,159.01 L230.79,159.15 L231.49,159.30 L232.19,159.44 L232.88,159.58 L233.58,159.72 L234.28,159.87 L234.98,160.01 L235.67,160.15 L236.37,160.29 L237.07,160.42 L237.76,160.56 L238.46,160.70 L239.16,160.84 L239.86,160.97 L240.55,161.11 L241.25,161.24 L241.95,161.38 L242.65,161.51 L243.34,161.64 L244.04,161.77 L244.74,161.90 L245.43,162.03 L246.13,162.16 L246.83,162.28 L247.53,162.41 L248.22,162.54 L248.92,162.66 L249.62,162.79 L250.32,162.91 L251.01,163.03 L251.71,163.16 L252.41,163.28 L253.10,163.40 L253.80,163.52 L254.50,163.64 L255.20,163.76 L255.89,163.88 L256.59,164.00 L257.29,164.12 L257.98,164.24 L258.68,164.36 L259.38,164.48 L260.08,164.60 L260.77,164.72 L261.47,164.84 L262.17,164.96 L262.87,165.08 L263.56,165.20 L264.26,165.31 L264.96,165.43 L265.65,165.55 L266.35,165.67 L267.05,165.79 L267.75,165.91 L268.44,166.03 L269.14,166.15 L269.84,166.27 L270.54,166.39 L271.23,166.51 L271.93,166.63 L272.63,166.75 L273.32,166.88 L274.02,167.00 L274.72,167.12 L275.42,167.24 L276.11,167.36 L276.81,167.48 L277.51,167.60 L278.20,167.72 L278.90,167.84 L279.60,167.96 L280.30,168.08 L280.99,168.19 L281.69,168.31 L282.39,168.43 L283.09,168.55 L283.78,168.67 L284.48,168.79 L285.18,168.91 L285.87,169.03 L286.57,169.15 L287.27,169.27 L287.97,169.38 L288.66,169.50 L289.36,169.62 L290.06,169.74 L290.76,169.86 L291.45,169.98 L292.15,170.09 L292.85,170.21 L293.54,170.33 L294.24,170.45 L294.94,170.56 L295.64,170.68 L296.33,170.80 L297.03,170.92 L297.73,171.03 L298.42,171.15 L299.12,171.27 L299.82,171.38 L300.52,171.50 L301.21,171.62 L301.91,171.73 L302.61,171.85 L303.31,171.97 L304.00,172.08 L304.70,172.20" fill="none" stroke="#7574a8" stroke-width="2.0" stroke-linejoin="round" stroke-linecap="round" />
<path d="M26.50,193.30 L27.20,187.71 L27.89,182.30 L28.59,177.03 L29.29,171.90 L29.99,167.09 L30.68,162.65 L31.38,158.48 L32.08,154.58 L32.78,150.89 L33.47,147.44 L34.17,144.25 L34.87,141.30 L35.56,138.52 L36.26,135.88 L36.96,133.33 L37.66,130.86 L38.35,128.52 L39.05,126.35 L39.75,124.25 L40.44,122.22 L41.14,120.36 L41.84,118.81 L42.54,117.55 L43.23,116.41 L43.93,115.40 L44.63,114.55 L45.33,113.86 L46.02,113.30 L46.72,112.78 L47.42,112.32 L48.11,111.91 L48.81,111.57 L49.51,111.32 L50.21,111.16 L50.90,111.03 L51.60,110.91 L52.30,110.80 L53.00,110.72 L53.69,110.65 L54.39,110.61 L55.09,110.60 L55.78,110.62 L56.48,110.67 L57.18,110.74 L57.88,110.83 L58.57,110.94 L59.27,111.07 L59.97,111.20 L60.66,111.33 L61.36,111.48 L62.06,111.66 L62.76,111.89 L63.45,112.15 L64.15,112.43 L64.85,112.74 L65.55,113.05 L66.24,113.37 L66.94,113.68 L67.64,113.99 L68.33,114.31 L69.03,114.64 L69.73,114.98 L70.43,115.33 L71.12,115.68 L71.82,116.04 L72.52,116.41 L73.22,116.78 L73.91,117.17 L74.61,117.55 L75.31,117.94 L76.00,118.34 L76.70,118.73 L77.40,119.14 L78.10,119.54 L78.79,119.95 L79.49,120.35 L80.19,120.77 L80.88,121.19 L81.58,121.63 L82.28,122.07 L82.98,122.52 L83.67,122.98 L84.37,123.44 L85.07,123.91 L85.77,124.38 L86.46,124.84 L87.16,125.31 L87.86,125.78 L88.55,126.24 L89.25,126.70 L89.95,127.15 L90.65,127.60 L91.34,128.04 L92.04,128.47 L92.74,128.90 L93.44,129.34 L94.13,129.77 L94.83,130.19 L95.53,130.62 L96.22,131.05 L96.92,131.47 L97.62,131.89 L98.32,132.31 L99.01,132.72 L99.71,133.13 L100.41,133.54 L101.11,133.94 L101.80,134.34 L102.50,134.73 L103.20,135.12 L103.89,135.50 L104.59,135.87 L105.29,136.25 L105.99,136.63 L106.68,137.00 L107.38,137.37 L108.08,137.74 L108.77,138.11 L109.47,138.47 L110.17,138.82 L110.87,139.18 L111.56,139.52 L112.26,139.86 L112.96,140.19 L113.66,140.52 L114.35,140.84 L115.05,141.15 L115.75,141.45 L116.44,141.74 L117.14,142.03 L117.84,142.31 L118.54,142.58 L119.23,142.85 L119.93,143.11 L120.63,143.37 L121.33,143.62 L122.02,143.87 L122.72,144.12 L123.42,144.36 L124.11,144.60 L124.81,144.83 L125.51,145.07 L126.21,145.30 L126.90,145.54 L127.60,145.77 L128.30,146.00 L128.99,146.23 L129.69,146.46 L130.39,146.68 L131.09,146.91 L131.78,147.13 L132.48,147.35 L133.18,147.56 L133.88,147.78 L134.57,147.99 L135.27,148.20 L135.97,148.41 L136.66,148.62 L137.36,148.83 L138.06,149.03 L138.76,149.24 L139.45,149.44 L140.15,149.64 L140.85,149.84 L141.55,150.04 L142.24,150.24 L142.94,150.44 L143.64,150.64 L144.33,150.83 L145.03,151.03 L145.73,151.22 L146.43,151.41 L147.12,151.61 L147.82,151.80 L148.52,151.99 L149.21,152.18 L149.91,152.36 L150.61,152.55 L151.31,152.74 L152.00,152.92 L152.70,153.11 L153.40,153.29 L154.10,153.48 L154.79,153.66 L155.49,153.84 L156.19,154.02 L156.88,154.20 L157.58,154.38 L158.28,154.56 L158.98,154.74 L159.67,154.92 L160.37,155.09 L161.07,155.27 L161.77,155.45 L162.46,155.63 L163.16,155.81 L163.86,155.99 L164.55,156.16 L165.25,156.34 L165.95,156.52 L166.65,156.70 L167.34,156.87 L168.04,157.05 L168.74,157.22 L169.43,157.40 L170.13,157.57 L170.83,157.74 L171.53,157.91 L172.22,158.08 L172.92,158.24 L173.62,158.41 L174.32,158.57 L175.01,158.73 L175.71,158.89 L176.41,159.04 L177.10,159.20 L177.80,159.35 L178.50,159.49 L179.20,159.64 L179.89,159.78 L180.59,159.92 L181.29,160.05 L181.99,160.19 L182.68,160.32 L183.38,160.46 L184.08,160.59 L184.77,160.72 L185.47,160.85 L186.17,160.97 L186.87,161.10 L187.56,161.22 L188.26,161.35 L188.96,161.47 L189.65,161.59 L190.35,161.71 L191.05,161.83 L191.75,161.95 L192.44,162.07 L193.14,162.18 L193.84,162.30 L194.54,162.42 L195.23,162.53 L195.93,162.64 L196.63,162.75 L197.32,162.87 L198.02,162.98 L198.72,163.09 L199.42,163.20 L200.11,163.31 L200.81,163.41 L201.51,163.52 L202.21,163.63 L202.90,163.74 L203.60,163.84 L204.30,163.95 L204.99,164.05 L205.69,164.16 L206.39,164.26 L207.09,164.37 L207.78,164.47 L208.48,164.57 L209.18,164.68 L209.87,164.78 L210.57,164.88 L211.27,164.99 L211.97,165.09 L212.66,165.19 L213.36,165.29 L214.06,165.40 L214.76,165.50 L215.45,165.60 L216.15,165.70 L216.85,165.80 L217.54,165.90 L218.24,165.99 L218.94,166.09 L219.64,166.19 L220.33,166.29 L221.03,166.38 L221.73,166.48 L222.43,166.58 L223.12,166.67 L223.82,166.77 L224.52,166.86 L225.21,166.96 L225.91,167.05 L226.61,167.14 L227.31,167.23 L228.00,167.33 L228.70,167.42 L229.40,167.51 L230.09,167.60 L230.79,167.69 L231.49,167.77 L232.19,167.86 L232.88,167.95 L233.58,168.04 L234.28,168.12 L234.98,168.21 L235.67,168.29 L236.37,168.38 L237.07,168.46 L237.76,168.54 L238.46,168.62 L239.16,168.70 L239.86,168.78 L240.55,168.86 L241.25,168.94 L241.95,169.02 L242.65,169.10 L243.34,169.18 L244.04,169.25 L244.74,169.33 L245.43,169.41 L246.13,169.48 L246.83,169.56 L247.53,169.63 L248.22,169.70 L248.92,169.78 L249.62,169.85 L250.32,169.92 L251.01,170.00 L251.71,170.07 L252.41,170.14 L253.10,170.21 L253.80,170.28 L254.50,170.35 L255.20,170.42 L255.89,170.49 L256.59,170.56 L257.29,170.62 L257.98,170.69 L258.68,170.76 L259.38,170.83 L260.08,170.89 L260.77,170.96 L261.47,171.03 L262.17,171.09 L262.87,171.16 L263.56,171.22 L264.26,171.28 L264.96,171.35 L265.65,171.41 L266.35,171.48 L267.05,171.54 L267.75,171.60 L268.44,171.66 L269.14,171.72 L269.84,171.79 L270.54,171.85 L271.23,171.91 L271.93,171.97 L272.63,172.03 L273.32,172.09 L274.02,172.15 L274.72,172.21 L275.42,172.27 L276.11,172.33 L276.81,172.39 L277.51,172.45 L278.20,172.50 L278.90,172.56 L279.60,172.62 L280.30,172.68 L280.99,172.73 L281.69,172.79 L282.39,172.85 L283.09,172.91 L283.78,172.96 L284.48,173.02 L285.18,173.07 L285.87,173.13 L286.57,173.18 L287.27,173.24 L287.97,173.29 L288.66,173.35 L289.36,173.40 L290.06,173.45 L290.76,173.51 L291.45,173.56 L292.15,173.61 L292.85,173.67 L293.54,173.72 L294.24,173.77 L294.94,173.82 L295.64,173.87 L296.33,173.92 L297.03,173.97 L297.73,174.02 L298.42,174.07 L299.12,174.12 L299.82,174.17 L300.52,174.22 L301.21,174.27 L301.91,174.31 L302.61,174.36 L303.31,174.41 L304.00,174.45 L304.70,174.50" fill="none" stroke="#8874b1" stroke-width="2.0" stroke-linejoin="round" stroke-linecap="round" />
<path d="M27.50,193.30 L28.19,189.20 L28.89,184.74 L29.58,179.79 L30.28,174.57 L30.97,169.70 L31.67,165.06 L32.36,161.10 L33.06,157.77 L33.75,154.65 L34.45,151.38 L35.14,148.08 L35.84,144.83 L36.53,141.56 L37.23,138.39 L37.92,135.49 L38.62,132.72 L39.31,130.34 L40.01,128.50 L40.70,126.93 L41.39,125.60 L42.09,124.53 L42.78,123.55 L43.48,122.67 L44.17,121.91 L44.87,121.32 L45.56,120.92 L46.26,120.61 L46.95,120.32 L47.65,120.05 L48.34,119.83 L49.04,119.64 L49.73,119.50 L50.43,119.42 L51.12,119.40 L51.82,119.42 L52.51,119.48 L53.21,119.55 L53.90,119.64 L54.59,119.74 L55.29,119.85 L55.98,119.98 L56.68,120.14 L57.37,120.34 L58.07,120.56 L58.76,120.81 L59.46,121.11 L60.15,121.46 L60.85,121.84 L61.54,122.27 L62.24,122.72 L62.93,123.20 L63.63,123.70 L64.32,124.22 L65.02,124.74 L65.71,125.27 L66.41,125.80 L67.10,126.33 L67.79,126.86 L68.49,127.42 L69.18,128.01 L69.88,128.63 L70.57,129.27 L71.27,129.92 L71.96,130.59 L72.66,131.26 L73.35,131.94 L74.05,132.62 L74.74,133.29 L75.44,133.96 L76.13,134.61 L76.83,135.25 L77.52,135.87 L78.22,136.46 L78.91,137.02 L79.61,137.55 L80.30,138.07 L80.99,138.58 L81.69,139.07 L82.38,139.56 L83.08,140.04 L83.77,140.51 L84.47,140.97 L85.16,141.43 L85.86,141.87 L86.55,142.31 L87.25,142.74 L87.94,143.17 L88.64,143.58 L89.33,144.00 L90.03,144.40 L90.72,144.80 L91.42,145.20 L92.11,145.59 L92.81,145.98 L93.50,146.36 L94.19,146.74 L94.89,147.12 L95.58,147.50 L96.28,147.87 L96.97,148.24 L97.67,148.59 L98.36,148.94 L99.06,149.29 L99.75,149.62 L100.45,149.95 L101.14,150.26 L101.84,150.57 L102.53,150.86 L103.23,151.14 L103.92,151.41 L104.62,151.67 L105.31,151.92 L106.01,152.17 L106.70,152.41 L107.39,152.64 L108.09,152.88 L108.78,153.10 L109.48,153.32 L110.17,153.53 L110.87,153.74 L111.56,153.94 L112.26,154.13 L112.95,154.32 L113.65,154.51 L114.34,154.68 L115.04,154.85 L115.73,155.02 L116.43,155.17 L117.12,155.33 L117.82,155.48 L118.51,155.62 L119.21,155.77 L119.90,155.91 L120.59,156.04 L121.29,156.18 L121.98,156.31 L122.68,156.43 L123.37,156.55 L124.07,156.67 L124.76,156.78 L125.46,156.89 L126.15,157.00 L126.85,157.10 L127.54,157.20 L128.24,157.29 L128.93,157.38 L129.63,157.47 L130.32,157.55 L131.02,157.63 L131.71,157.71 L132.41,157.78 L133.10,157.86 L133.79,157.93 L134.49,158.00 L135.18,158.06 L135.88,158.13 L136.57,158.19 L137.27,158.26 L137.96,158.32 L138.66,158.38 L139.35,158.44 L140.05,158.50 L140.74,158.56 L141.44,158.62 L142.13,158.68 L142.83,158.74 L143.52,158.80 L144.22,158.85 L144.91,158.91 L145.61,158.96 L146.30,159.01 L146.99,159.07 L147.69,159.12 L148.38,159.17 L149.08,159.22 L149.77,159.27 L150.47,159.32 L151.16,159.37 L151.86,159.42 L152.55,159.47 L153.25,159.52 L153.94,159.57 L154.64,159.62 L155.33,159.67 L156.03,159.72 L156.72,159.77 L157.42,159.81 L158.11,159.86 L158.81,159.91 L159.50,159.96 L160.19,160.01 L160.89,160.06 L161.58,160.11 L162.28,160.16 L162.97,160.21 L163.67,160.25 L164.36,160.30 L165.06,160.34 L165.75,160.39 L166.45,160.43 L167.14,160.48 L167.84,160.52 L168.53,160.57 L169.23,160.61 L169.92,160.66 L170.62,160.70 L171.31,160.75 L172.01,160.80 L172.70,160.84 L173.39,160.89 L174.09,160.94 L174.78,160.99 L175.48,161.04 L176.17,161.09 L176.87,161.14 L177.56,161.20 L178.26,161.25 L178.95,161.31 L179.65,161.37 L180.34,161.43 L181.04,161.49 L181.73,161.56 L182.43,161.62 L183.12,161.69 L183.82,161.76 L184.51,161.83 L185.21,161.90 L185.90,161.98 L186.59,162.05 L187.29,162.13 L187.98,162.21 L188.68,162.29 L189.37,162.37 L190.07,162.45 L190.76,162.53 L191.46,162.61 L192.15,162.70 L192.85,162.78 L193.54,162.87 L194.24,162.96 L194.93,163.04 L195.63,163.13 L196.32,163.22 L197.02,163.31 L197.71,163.40 L198.41,163.49 L199.10,163.58 L199.79,163.67 L200.49,163.76 L201.18,163.85 L201.88,163.95 L202.57,164.04 L203.27,164.13 L203.96,164.22 L204.66,164.31 L205.35,164.40 L206.05,164.49 L206.74,164.58 L207.44,164.67 L208.13,164.76 L208.83,164.85 L209.52,164.94 L210.22,165.03 L210.91,165.12 L211.61,165.21 L212.30,165.30 L212.99,165.39 L213.69,165.48 L214.38,165.58 L215.08,165.67 L215.77,165.76 L216.47,165.86 L217.16,165.96 L217.86,166.05 L218.55,166.15 L219.25,166.25 L219.94,166.35 L220.64,166.44 L221.33,166.54 L222.03,166.64 L222.72,166.74 L223.42,166.84 L224.11,166.94 L224.81,167.03 L225.50,167.13 L226.19,167.23 L226.89,167.33 L227.58,167.42 L228.28,167.52 L228.97,167.62 L229.67,167.71 L230.36,167.80 L231.06,167.90 L231.75,167.99 L232.45,168.08 L233.14,168.17 L233.84,168.26 L234.53,168.35 L235.23,168.44 L235.92,168.52 L236.62,168.61 L237.31,168.69 L238.01,168.77 L238.70,168.85 L239.39,168.93 L240.09,169.01 L240.78,169.09 L241.48,169.16 L242.17,169.23 L242.87,169.31 L243.56,169.38 L244.26,169.45 L244.95,169.52 L245.65,169.59 L246.34,169.66 L247.04,169.73 L247.73,169.80 L248.43,169.87 L249.12,169.93 L249.82,170.00 L250.51,170.07 L251.21,170.13 L251.90,170.20 L252.59,170.26 L253.29,170.32 L253.98,170.39 L254.68,170.45 L255.37,170.51 L256.07,170.58 L256.76,170.64 L257.46,170.70 L258.15,170.76 L258.85,170.82 L259.54,170.89 L260.24,170.95 L260.93,171.01 L261.63,171.07 L262.32,171.13 L263.02,171.19 L263.71,171.25 L264.41,171.31 L265.10,171.37 L265.79,171.43 L266.49,171.49 L267.18,171.55 L267.88,171.61 L268.57,171.67 L269.27,171.74 L269.96,171.80 L270.66,171.86 L271.35,171.92 L272.05,171.98 L272.74,172.04 L273.44,172.10 L274.13,172.16 L274.83,172.22 L275.52,172.28 L276.22,172.34 L276.91,172.40 L277.61,172.46 L278.30,172.52 L278.99,172.58 L279.69,172.64 L280.38,172.70 L281.08,172.76 L281.77,172.82 L282.47,172.88 L283.16,172.94 L283.86,173.00 L284.55,173.06 L285.25,173.12 L285.94,173.18 L286.64,173.23 L287.33,173.29 L288.03,173.35 L288.72,173.41 L289.42,173.47 L290.11,173.52 L290.81,173.58 L291.50,173.64 L292.19,173.70 L292.89,173.75 L293.58,173.81 L294.28,173.87 L294.97,173.92 L295.67,173.98 L296.36,174.04 L297.06,174.09 L297.75,174.15 L298.45,174.20 L299.14,174.26 L299.84,174.32 L300.53,174.37 L301.23,174.43 L301.92,174.48 L302.62,174.54 L303.31,174.59 L304.01,174.65 L304.70,174.70" fill="none" stroke="#a486c2" stroke-width="2.0" stroke-linejoin="round" stroke-linecap="round" />
<text x="63.50" y="60.90" font-size="12" fill="#f2837a" text-anchor="start" >0 <tspan font-family="Liberation Serif, serif">&#956;</tspan>m</text>
<text x="68.30" y="107.60" font-size="12" fill="#f2837a" text-anchor="start" >Axial deviation</text>
<text x="38.20" y="136.70" font-size="12" fill="#f2837a" text-anchor="start" >100 <tspan font-family="Liberation Serif, serif">&#956;</tspan>m</text>
<line x1="71.8" y1="65.4" x2="54.0" y2="112.0" stroke="#f2837a" stroke-width="1.8"/>
<polygon points="52.00,118.80 51.97,110.26 57.59,112.34" fill="#f2837a"/>
<text x="131.30" y="43.20" font-size="12" fill="#0b6c6c" text-anchor="start" >0 <tspan font-family="Liberation Serif, serif">&#956;</tspan>m</text>
<text x="132.50" y="64.80" font-size="12" fill="#0f7878" text-anchor="start" >10 <tspan font-family="Liberation Serif, serif">&#956;</tspan>m</text>
<text x="188.00" y="33.40" font-size="12" fill="#158484" text-anchor="start" >20 <tspan font-family="Liberation Serif, serif">&#956;</tspan>m</text>
<text x="188.00" y="55.00" font-size="12" fill="#219293" text-anchor="start" >30 <tspan font-family="Liberation Serif, serif">&#956;</tspan>m</text>
<text x="188.00" y="76.50" font-size="12" fill="#3eaaac" text-anchor="start" >40 <tspan font-family="Liberation Serif, serif">&#956;</tspan>m</text>
<text x="245.40" y="24.40" font-size="12" fill="#5ec0c4" text-anchor="start" >50 <tspan font-family="Liberation Serif, serif">&#956;</tspan>m</text>
<text x="245.40" y="46.00" font-size="12" fill="#73b3c3" text-anchor="start" >60 <tspan font-family="Liberation Serif, serif">&#956;</tspan>m</text>
<text x="245.40" y="67.50" font-size="12" fill="#7291b2" text-anchor="start" >70 <tspan font-family="Liberation Serif, serif">&#956;</tspan>m</text>
<text x="245.40" y="89.20" font-size="12" fill="#7574a8" text-anchor="start" >80 <tspan font-family="Liberation Serif, serif">&#956;</tspan>m</text>
<text x="245.40" y="110.80" font-size="12" fill="#8874b1" text-anchor="start" >90 <tspan font-family="Liberation Serif, serif">&#956;</tspan>m</text>
<text x="246.20" y="132.50" font-size="12" fill="#a486c2" text-anchor="start" >100 <tspan font-family="Liberation Serif, serif">&#956;</tspan>m</text>
<rect x="25.50" y="9.00" width="279.20" height="184.30" fill="none" stroke="#262626" stroke-width="1"/>
<line x1="25.50" y1="193.30" x2="25.50" y2="190.30" stroke="#262626" stroke-width="1" />
<line x1="25.50" y1="9.00" x2="25.50" y2="12.00" stroke="#262626" stroke-width="1" />
<text x="25.50" y="210.40" font-size="14" fill="#000" text-anchor="middle" >0</text>
<line x1="95.30" y1="193.30" x2="95.30" y2="190.30" stroke="#262626" stroke-width="1" />
<line x1="95.30" y1="9.00" x2="95.30" y2="12.00" stroke="#262626" stroke-width="1" />
<text x="95.30" y="210.40" font-size="14" fill="#000" text-anchor="middle" >500</text>
<line x1="165.10" y1="193.30" x2="165.10" y2="190.30" stroke="#262626" stroke-width="1" />
<line x1="165.10" y1="9.00" x2="165.10" y2="12.00" stroke="#262626" stroke-width="1" />
<text x="165.10" y="210.40" font-size="14" fill="#000" text-anchor="middle" >1000</text>
<line x1="234.90" y1="193.30" x2="234.90" y2="190.30" stroke="#262626" stroke-width="1" />
<line x1="234.90" y1="9.00" x2="234.90" y2="12.00" stroke="#262626" stroke-width="1" />
<text x="234.90" y="210.40" font-size="14" fill="#000" text-anchor="middle" >1500</text>
<line x1="304.70" y1="193.30" x2="304.70" y2="190.30" stroke="#262626" stroke-width="1" />
<line x1="304.70" y1="9.00" x2="304.70" y2="12.00" stroke="#262626" stroke-width="1" />
<text x="304.70" y="210.40" font-size="14" fill="#000" text-anchor="middle" >2000</text>
<line x1="25.50" y1="131.87" x2="28.50" y2="131.87" stroke="#262626" stroke-width="1" />
<line x1="304.70" y1="131.87" x2="301.70" y2="131.87" stroke="#262626" stroke-width="1" />
<line x1="25.50" y1="70.43" x2="28.50" y2="70.43" stroke="#262626" stroke-width="1" />
<line x1="304.70" y1="70.43" x2="301.70" y2="70.43" stroke="#262626" stroke-width="1" />
<text x="165.10" y="231.00" font-size="14" fill="#000" text-anchor="middle" textLength="77.3" lengthAdjust="spacingAndGlyphs">Length (<tspan font-family="Liberation Serif, serif">&#956;</tspan>m)</text>
<text x="0.00" y="0.00" font-size="14" fill="#000" text-anchor="middle" transform="translate(11.6,100.9) rotate(-90)" textLength="90.6" lengthAdjust="spacingAndGlyphs">Intensity (a.u.)</text>
<text x="-1.50" y="14.70" font-size="21" fill="#000" text-anchor="start" font-weight="bold">a</text>
<rect x="407" y="99" width="17.5" height="18.3" fill="#dcdcdc"/>
<rect x="424.1" y="92.4" width="74.8" height="31.4" fill="#79add3"/>
<rect x="499" y="84.1" width="60.8" height="70.1" fill="#f6c6e0"/>
<polygon points="559.8,104 570,126.5 559.8,150" fill="#b9b6de"/>
<line x1="407" y1="108.1" x2="419" y2="108.1" stroke="#a6cc60" stroke-width="2.6"/>
<line x1="418.8" y1="107.9" x2="424.4" y2="107.9" stroke="#000" stroke-width="2"/>
<line x1="431.2" y1="107.9" x2="440.6" y2="107.9" stroke="#000" stroke-width="2"/>
<line x1="448.5" y1="107.9" x2="458.5" y2="107.9" stroke="#000" stroke-width="2"/>
<line x1="466.0" y1="107.9" x2="475.8" y2="107.9" stroke="#000" stroke-width="2"/>
<line x1="483.7" y1="107.9" x2="494.0" y2="107.9" stroke="#000" stroke-width="2"/>
<line x1="501.4" y1="107.9" x2="511.0" y2="107.9" stroke="#000" stroke-width="2"/>
<line x1="518.9" y1="107.9" x2="525.2" y2="107.9" stroke="#000" stroke-width="2"/>
<line x1="486.1" y1="126.7" x2="492.2" y2="126.7" stroke="#000" stroke-width="2"/>
<line x1="498.7" y1="126.7" x2="508.7" y2="126.7" stroke="#000" stroke-width="2"/>
<line x1="515.7" y1="126.7" x2="525.5" y2="126.7" stroke="#000" stroke-width="2"/>
<line x1="532.5" y1="126.7" x2="542.2" y2="126.7" stroke="#000" stroke-width="2"/>
<line x1="549.2" y1="126.7" x2="559.0" y2="126.7" stroke="#000" stroke-width="2"/>
<line x1="566.0" y1="126.7" x2="573.5" y2="126.7" stroke="#000" stroke-width="2"/>
<line x1="416.1" y1="88" x2="416.1" y2="95.6" stroke="#000" stroke-width="1.4"/>
<polygon points="416.1,100.8 413.6,94.3 418.6,94.3" fill="#000"/>
<line x1="468.7" y1="88" x2="468.7" y2="95.6" stroke="#000" stroke-width="1.4"/>
<polygon points="468.7,100.8 466.2,94.3 471.2,94.3" fill="#000"/>
<line x1="491.5" y1="94.8" x2="491.5" y2="101.8" stroke="#000" stroke-width="1.4"/>
<polygon points="491.5,107.0 489.0,100.5 494.0,100.5" fill="#000"/>
<line x1="491.5" y1="139.9" x2="491.5" y2="133.1" stroke="#000" stroke-width="1.4"/>
<polygon points="491.5,127.9 489.0,134.4 494.0,134.4" fill="#000"/>
<line x1="529.4" y1="158.7" x2="529.4" y2="151.29999999999998" stroke="#000" stroke-width="1.4"/>
<polygon points="529.4,146.1 526.9,152.6 531.9,152.6" fill="#000"/>
<line x1="583.2" y1="92.7" x2="570.0" y2="112.4" stroke="#000" stroke-width="1.6"/>
<polygon points="567.50,116.20 569.38,108.44 573.95,111.49" fill="#000"/>
<text x="410.30" y="81.40" font-size="12" fill="#000" text-anchor="start" >SMF</text>
<text x="448.60" y="81.40" font-size="12" fill="#000" text-anchor="start" >LDNCF</text>
<text x="452.20" y="120.90" font-size="12" fill="#000" text-anchor="start" >Axial deviation</text>
<text x="565.60" y="87.60" font-size="12" fill="#000" text-anchor="start" >Axicon</text>
<text x="532.20" y="171.80" font-size="12" fill="#000" text-anchor="middle" >Cylindrical</text>
<text x="532.20" y="185.60" font-size="12" fill="#000" text-anchor="middle" >waveguide</text>
<circle cx="434.3" cy="155.9" r="1.3" fill="#555"/>
<line x1="434.3" y1="155.9" x2="451.5" y2="155.9" stroke="#000" stroke-width="0.9"/>
<polygon points="455,155.9 450.5,154.1 450.5,157.7" fill="#000"/>
<line x1="434.3" y1="155.9" x2="434.3" y2="167" stroke="#000" stroke-width="0.9"/>
<polygon points="434.3,170.5 432.5,166 436.1,166" fill="#000"/>
<text x="422.60" y="153.00" font-size="12" fill="#000" text-anchor="start" font-style="italic">X</text>
<text x="460.50" y="163.40" font-size="12" fill="#000" text-anchor="start" font-style="italic">Z</text>
<text x="428.70" y="186.00" font-size="12" fill="#000" text-anchor="start" font-style="italic">Y</text>
<polygon points="404.80,37.37 406.21,41.73 410.79,41.73 407.09,44.42 408.50,48.77 404.80,46.08 401.10,48.77 402.51,44.42 398.81,41.73 403.39,41.73" fill="none" stroke="#f6c0de" stroke-width="1.6" stroke-linejoin="miter"/>
<polygon points="407.33,33.00 408.75,37.35 413.33,37.35 409.62,40.04 411.04,44.39 407.33,41.70 403.63,44.39 405.05,40.04 401.34,37.35 405.92,37.35" fill="none" stroke="#f6c0de" stroke-width="1.6" stroke-linejoin="miter"/>
<polygon points="409.87,36.68 411.28,41.04 415.86,41.04 412.16,43.73 413.57,48.08 409.87,45.39 406.17,48.08 407.58,43.73 403.88,41.04 408.45,41.04" fill="none" stroke="#f6c0de" stroke-width="1.6" stroke-linejoin="miter"/>
<polygon points="412.40,35.30 413.82,39.65 418.40,39.65 414.69,42.34 416.11,46.70 412.40,44.01 408.70,46.70 410.11,42.34 406.41,39.65 410.99,39.65" fill="none" stroke="#f6c0de" stroke-width="1.6" stroke-linejoin="miter"/>
<polygon points="417.47,36.22 418.89,40.58 423.46,40.58 419.76,43.27 421.18,47.62 417.47,44.93 413.77,47.62 415.18,43.27 411.48,40.58 416.06,40.58" fill="none" stroke="#f6c0de" stroke-width="1.6" stroke-linejoin="miter"/>
<polygon points="430.15,36.22 431.56,40.58 436.14,40.58 432.43,43.27 433.85,47.62 430.15,44.93 426.44,47.62 427.86,43.27 424.15,40.58 428.73,40.58" fill="none" stroke="#f6c0de" stroke-width="1.6" stroke-linejoin="miter"/>
<polygon points="455.49,35.88 456.91,40.23 461.48,40.23 457.78,42.92 459.19,47.27 455.49,44.58 451.79,47.27 453.20,42.92 449.50,40.23 454.08,40.23" fill="none" stroke="#f6c0de" stroke-width="1.6" stroke-linejoin="miter"/>
<polygon points="480.84,35.88 482.25,40.23 486.83,40.23 483.13,42.92 484.54,47.27 480.84,44.58 477.13,47.27 478.55,42.92 474.84,40.23 479.42,40.23" fill="none" stroke="#f6c0de" stroke-width="1.6" stroke-linejoin="miter"/>
<polygon points="506.18,36.45 507.60,40.81 512.17,40.81 508.47,43.50 509.88,47.85 506.18,45.16 502.48,47.85 503.89,43.50 500.19,40.81 504.77,40.81" fill="none" stroke="#f6c0de" stroke-width="1.6" stroke-linejoin="miter"/>
<polygon points="531.53,37.60 532.94,41.96 537.52,41.96 533.82,44.65 535.23,49.00 531.53,46.31 527.82,49.00 529.24,44.65 525.54,41.96 530.11,41.96" fill="none" stroke="#f6c0de" stroke-width="1.6" stroke-linejoin="miter"/>
<polygon points="556.87,42.44 558.29,46.80 562.86,46.80 559.16,49.49 560.58,53.84 556.87,51.15 553.17,53.84 554.58,49.49 550.88,46.80 555.46,46.80" fill="none" stroke="#f6c0de" stroke-width="1.6" stroke-linejoin="miter"/>
<polygon points="582.22,50.51 583.63,54.86 588.21,54.86 584.51,57.55 585.92,61.90 582.22,59.21 578.52,61.90 579.93,57.55 576.23,54.86 580.80,54.86" fill="none" stroke="#f6c0de" stroke-width="1.6" stroke-linejoin="miter"/>
<polygon points="607.56,67.21 608.98,71.56 613.56,71.56 609.85,74.25 611.27,78.60 607.56,75.91 603.86,78.60 605.27,74.25 601.57,71.56 606.15,71.56" fill="none" stroke="#f6c0de" stroke-width="1.6" stroke-linejoin="miter"/>
<polygon points="632.91,94.85 634.32,99.21 638.90,99.21 635.20,101.90 636.61,106.25 632.91,103.56 629.21,106.25 630.62,101.90 626.92,99.21 631.49,99.21" fill="none" stroke="#f6c0de" stroke-width="1.6" stroke-linejoin="miter"/>
<polygon points="658.25,115.59 659.67,119.94 664.25,119.94 660.54,122.63 661.96,126.98 658.25,124.29 654.55,126.98 655.97,122.63 652.26,119.94 656.84,119.94" fill="none" stroke="#f6c0de" stroke-width="1.6" stroke-linejoin="miter"/>
<path d="M404.80,43.21 L406.20,43.12 L407.60,43.03 L409.00,42.94 L410.40,42.84 L411.81,42.75 L413.21,42.66 L414.61,42.57 L416.01,42.48 L417.41,42.39 L418.81,42.30 L420.21,42.21 L421.61,42.12 L423.01,42.03 L424.41,41.95 L425.82,41.86 L427.22,41.78 L428.62,41.69 L430.02,41.61 L431.42,41.53 L432.82,41.45 L434.22,41.37 L435.62,41.29 L437.02,41.21 L438.42,41.14 L439.83,41.06 L441.23,40.99 L442.63,40.92 L444.03,40.85 L445.43,40.78 L446.83,40.72 L448.23,40.65 L449.63,40.59 L451.03,40.54 L452.43,40.48 L453.84,40.43 L455.24,40.38 L456.64,40.33 L458.04,40.29 L459.44,40.25 L460.84,40.22 L462.24,40.18 L463.64,40.16 L465.04,40.13 L466.44,40.11 L467.85,40.10 L469.25,40.09 L470.65,40.09 L472.05,40.09 L473.45,40.09 L474.85,40.10 L476.25,40.12 L477.65,40.14 L479.05,40.17 L480.45,40.21 L481.86,40.25 L483.26,40.30 L484.66,40.35 L486.06,40.41 L487.46,40.48 L488.86,40.55 L490.26,40.63 L491.66,40.72 L493.06,40.81 L494.46,40.91 L495.87,41.02 L497.27,41.13 L498.67,41.25 L500.07,41.38 L501.47,41.51 L502.87,41.65 L504.27,41.79 L505.67,41.95 L507.07,42.11 L508.47,42.27 L509.88,42.44 L511.28,42.62 L512.68,42.81 L514.08,43.00 L515.48,43.20 L516.88,43.41 L518.28,43.62 L519.68,43.84 L521.08,44.07 L522.48,44.31 L523.89,44.55 L525.29,44.79 L526.69,45.05 L528.09,45.31 L529.49,45.58 L530.89,45.86 L532.29,46.14 L533.69,46.43 L535.09,46.73 L536.49,47.03 L537.90,47.34 L539.30,47.66 L540.70,47.99 L542.10,48.32 L543.50,48.66 L544.90,49.01 L546.30,49.36 L547.70,49.72 L549.10,50.09 L550.50,50.47 L551.91,50.85 L553.31,51.24 L554.71,51.64 L556.11,52.05 L557.51,52.46 L558.91,52.88 L560.31,53.31 L561.71,53.74 L563.11,54.18 L564.51,54.63 L565.92,55.09 L567.32,55.56 L568.72,56.03 L570.12,56.51 L571.52,57.00 L572.92,57.49 L574.32,57.99 L575.72,58.50 L577.12,59.02 L578.52,59.55 L579.93,60.08 L581.33,60.62 L582.73,61.17 L584.13,61.72 L585.53,62.29 L586.93,62.86 L588.33,63.44 L589.73,64.02 L591.13,64.62 L592.53,65.23 L593.94,65.84 L595.34,66.48 L596.74,67.13 L598.14,67.81 L599.54,68.51 L600.94,69.24 L602.34,70.00 L603.74,70.79 L605.14,71.62 L606.54,72.49 L607.95,73.39 L609.35,74.35 L610.75,75.35 L612.15,76.40 L613.55,77.51 L614.95,78.67 L616.35,79.88 L617.75,81.15 L619.15,82.46 L620.55,83.81 L621.96,85.19 L623.36,86.61 L624.76,88.04 L626.16,89.50 L627.56,90.98 L628.96,92.46 L630.36,93.95 L631.76,95.44 L633.16,96.92 L634.56,98.39 L635.97,99.85 L637.37,101.29 L638.77,102.70 L640.17,104.09 L641.57,105.46 L642.97,106.82 L644.37,108.17 L645.77,109.54 L647.17,110.91 L648.57,112.31 L649.98,113.74 L651.38,115.21 L652.78,116.73 L654.18,118.30 L655.58,119.94 L656.98,121.65 L658.38,123.43 L659.78,125.31 L661.18,127.26 L662.58,129.29 L663.99,131.37 L665.39,133.52 L666.79,135.70 L668.19,137.93 L669.59,140.19 L670.99,142.47 L672.39,144.76 L673.79,147.06 L675.19,149.37 L676.59,151.67 L678.00,153.98 L679.40,156.30 L680.80,158.61 L682.20,160.92 L683.60,163.24" fill="none" stroke="#b9b6de" stroke-width="2.2" stroke-linejoin="round" stroke-linecap="round" />
<polygon points="556.80,14.70 558.21,19.05 562.79,19.05 559.09,21.74 560.50,26.10 556.80,23.41 553.10,26.10 554.51,21.74 550.81,19.05 555.39,19.05" fill="none" stroke="#f6c0de" stroke-width="1.6" stroke-linejoin="miter"/>
<text x="575.50" y="25.70" font-size="12" fill="#000" text-anchor="start" >DOF</text>
<line x1="545.8" y1="37.9" x2="569.8" y2="37.9" stroke="#b9b6de" stroke-width="2.2"/>
<text x="575.50" y="42.50" font-size="12" fill="#000" text-anchor="start" >Fitting curve</text>
<rect x="404.80" y="10.50" width="278.80" height="184.30" fill="none" stroke="#262626" stroke-width="1"/>
<line x1="404.80" y1="194.80" x2="404.80" y2="191.80" stroke="#262626" stroke-width="1" />
<line x1="404.80" y1="10.50" x2="404.80" y2="13.50" stroke="#262626" stroke-width="1" />
<text x="404.80" y="211.90" font-size="14" fill="#000" text-anchor="middle" >0</text>
<line x1="531.53" y1="194.80" x2="531.53" y2="191.80" stroke="#262626" stroke-width="1" />
<line x1="531.53" y1="10.50" x2="531.53" y2="13.50" stroke="#262626" stroke-width="1" />
<text x="531.53" y="211.90" font-size="14" fill="#000" text-anchor="middle" >50</text>
<line x1="658.25" y1="194.80" x2="658.25" y2="191.80" stroke="#262626" stroke-width="1" />
<line x1="658.25" y1="10.50" x2="658.25" y2="13.50" stroke="#262626" stroke-width="1" />
<text x="658.25" y="211.90" font-size="14" fill="#000" text-anchor="middle" >100</text>
<line x1="404.80" y1="194.80" x2="407.80" y2="194.80" stroke="#262626" stroke-width="1" />
<line x1="683.60" y1="194.80" x2="680.60" y2="194.80" stroke="#262626" stroke-width="1" />
<text x="398.40" y="200.20" font-size="14" fill="#000" text-anchor="end" >0</text>
<line x1="404.80" y1="137.21" x2="407.80" y2="137.21" stroke="#262626" stroke-width="1" />
<line x1="683.60" y1="137.21" x2="680.60" y2="137.21" stroke="#262626" stroke-width="1" />
<text x="398.40" y="142.61" font-size="14" fill="#000" text-anchor="end" >500</text>
<line x1="404.80" y1="79.61" x2="407.80" y2="79.61" stroke="#262626" stroke-width="1" />
<line x1="683.60" y1="79.61" x2="680.60" y2="79.61" stroke="#262626" stroke-width="1" />
<text x="398.40" y="85.01" font-size="14" fill="#000" text-anchor="end" >1000</text>
<line x1="404.80" y1="22.02" x2="407.80" y2="22.02" stroke="#262626" stroke-width="1" />
<line x1="683.60" y1="22.02" x2="680.60" y2="22.02" stroke="#262626" stroke-width="1" />
<text x="398.40" y="27.42" font-size="14" fill="#000" text-anchor="end" >1500</text>
<text x="544.80" y="232.50" font-size="14" fill="#000" text-anchor="middle" textLength="125.8" lengthAdjust="spacingAndGlyphs">Axial deviation (<tspan font-family="Liberation Serif, serif">&#956;</tspan>m)</text>
<text x="0.00" y="0.00" font-size="14" fill="#000" text-anchor="middle" transform="translate(355.6,102.2) rotate(-90)" textLength="127.6" lengthAdjust="spacingAndGlyphs">Depth of focus (<tspan font-family="Liberation Serif, serif">&#956;</tspan>m)</text>
<text x="342.30" y="14.70" font-size="21" fill="#000" text-anchor="start" font-weight="bold">b</text>
<rect x="404.80" y="265.50" width="278.80" height="183.60" fill="none" stroke="#262626" stroke-width="1"/>
<line x1="404.80" y1="449.10" x2="404.80" y2="446.10" stroke="#262626" stroke-width="1" />
<line x1="404.80" y1="265.50" x2="404.80" y2="268.50" stroke="#262626" stroke-width="1" />
<text x="404.80" y="466.20" font-size="14" fill="#000" text-anchor="middle" >0</text>
<line x1="531.53" y1="449.10" x2="531.53" y2="446.10" stroke="#262626" stroke-width="1" />
<line x1="531.53" y1="265.50" x2="531.53" y2="268.50" stroke="#262626" stroke-width="1" />
<text x="531.53" y="466.20" font-size="14" fill="#000" text-anchor="middle" >50</text>
<line x1="658.25" y1="449.10" x2="658.25" y2="446.10" stroke="#262626" stroke-width="1" />
<line x1="658.25" y1="265.50" x2="658.25" y2="268.50" stroke="#262626" stroke-width="1" />
<text x="658.25" y="466.20" font-size="14" fill="#000" text-anchor="middle" >100</text>
<line x1="404.80" y1="449.10" x2="407.80" y2="449.10" stroke="#262626" stroke-width="1" />
<line x1="683.60" y1="449.10" x2="680.60" y2="449.10" stroke="#262626" stroke-width="1" />
<text x="398.40" y="454.50" font-size="14" fill="#000" text-anchor="end" >0</text>
<line x1="404.80" y1="403.20" x2="407.80" y2="403.20" stroke="#262626" stroke-width="1" />
<line x1="683.60" y1="403.20" x2="680.60" y2="403.20" stroke="#262626" stroke-width="1" />
<text x="398.40" y="408.60" font-size="14" fill="#000" text-anchor="end" >20</text>
<line x1="404.80" y1="357.30" x2="407.80" y2="357.30" stroke="#262626" stroke-width="1" />
<line x1="683.60" y1="357.30" x2="680.60" y2="357.30" stroke="#262626" stroke-width="1" />
<text x="398.40" y="362.70" font-size="14" fill="#000" text-anchor="end" >40</text>
<line x1="404.80" y1="311.40" x2="407.80" y2="311.40" stroke="#262626" stroke-width="1" />
<line x1="683.60" y1="311.40" x2="680.60" y2="311.40" stroke="#262626" stroke-width="1" />
<text x="398.40" y="316.80" font-size="14" fill="#000" text-anchor="end" >60</text>
<line x1="404.80" y1="265.50" x2="407.80" y2="265.50" stroke="#262626" stroke-width="1" />
<line x1="683.60" y1="265.50" x2="680.60" y2="265.50" stroke="#262626" stroke-width="1" />
<text x="398.40" y="270.90" font-size="14" fill="#000" text-anchor="end" >80</text>
<path d="M400.90,441.30 H408.70 M404.80,437.40 V445.20" stroke="#7db0db" stroke-width="1.8" fill="none"/>
<path d="M403.43,439.23 H411.23 M407.33,435.33 V443.13" stroke="#7db0db" stroke-width="1.8" fill="none"/>
<path d="M405.97,437.17 H413.77 M409.87,433.27 V441.07" stroke="#7db0db" stroke-width="1.8" fill="none"/>
<path d="M408.50,435.33 H416.30 M412.40,431.43 V439.23" stroke="#7db0db" stroke-width="1.8" fill="none"/>
<path d="M411.04,433.26 H418.84 M414.94,429.36 V437.16" stroke="#7db0db" stroke-width="1.8" fill="none"/>
<path d="M413.57,430.97 H421.37 M417.47,427.07 V434.87" stroke="#7db0db" stroke-width="1.8" fill="none"/>
<path d="M426.25,421.79 H434.05 M430.15,417.89 V425.69" stroke="#7db0db" stroke-width="1.8" fill="none"/>
<path d="M451.59,404.12 H459.39 M455.49,400.22 V408.02" stroke="#7db0db" stroke-width="1.8" fill="none"/>
<path d="M476.94,385.07 H484.74 M480.84,381.17 V388.97" stroke="#7db0db" stroke-width="1.8" fill="none"/>
<path d="M502.28,367.63 H510.08 M506.18,363.73 V371.53" stroke="#7db0db" stroke-width="1.8" fill="none"/>
<path d="M527.63,357.07 H535.43 M531.53,353.17 V360.97" stroke="#7db0db" stroke-width="1.8" fill="none"/>
<path d="M552.97,335.96 H560.77 M556.87,332.06 V339.86" stroke="#7db0db" stroke-width="1.8" fill="none"/>
<path d="M578.32,322.42 H586.12 M582.22,318.52 V326.32" stroke="#7db0db" stroke-width="1.8" fill="none"/>
<path d="M603.66,324.48 H611.46 M607.56,320.58 V328.38" stroke="#7db0db" stroke-width="1.8" fill="none"/>
<path d="M629.01,326.78 H636.81 M632.91,322.88 V330.68" stroke="#7db0db" stroke-width="1.8" fill="none"/>
<path d="M654.35,336.19 H662.15 M658.25,332.29 V340.09" stroke="#7db0db" stroke-width="1.8" fill="none"/>
<circle cx="404.80" cy="441.30" r="5.0" fill="none" stroke="#a7cc5e" stroke-width="1.8"/>
<circle cx="407.33" cy="439.23" r="5.0" fill="none" stroke="#a7cc5e" stroke-width="1.8"/>
<circle cx="409.87" cy="437.17" r="5.0" fill="none" stroke="#a7cc5e" stroke-width="1.8"/>
<circle cx="412.40" cy="435.33" r="5.0" fill="none" stroke="#a7cc5e" stroke-width="1.8"/>
<circle cx="414.94" cy="433.26" r="5.0" fill="none" stroke="#a7cc5e" stroke-width="1.8"/>
<circle cx="417.47" cy="430.97" r="5.0" fill="none" stroke="#a7cc5e" stroke-width="1.8"/>
<circle cx="430.15" cy="421.79" r="5.0" fill="none" stroke="#a7cc5e" stroke-width="1.8"/>
<circle cx="455.49" cy="404.12" r="5.0" fill="none" stroke="#a7cc5e" stroke-width="1.8"/>
<circle cx="480.84" cy="385.07" r="5.0" fill="none" stroke="#a7cc5e" stroke-width="1.8"/>
<circle cx="506.18" cy="367.63" r="5.0" fill="none" stroke="#a7cc5e" stroke-width="1.8"/>
<circle cx="531.53" cy="357.07" r="5.0" fill="none" stroke="#a7cc5e" stroke-width="1.8"/>
<circle cx="556.87" cy="335.96" r="5.0" fill="none" stroke="#a7cc5e" stroke-width="1.8"/>
<circle cx="582.22" cy="322.42" r="5.0" fill="none" stroke="#a7cc5e" stroke-width="1.8"/>
<circle cx="607.56" cy="324.48" r="5.0" fill="none" stroke="#a7cc5e" stroke-width="1.8"/>
<circle cx="632.91" cy="326.78" r="5.0" fill="none" stroke="#a7cc5e" stroke-width="1.8"/>
<circle cx="658.25" cy="336.19" r="5.0" fill="none" stroke="#a7cc5e" stroke-width="1.8"/>
<rect x="400.90" y="429.36" width="7.8" height="7.8" fill="none" stroke="#6b6b6b" stroke-width="1.7"/>
<rect x="403.43" y="429.36" width="7.8" height="7.8" fill="none" stroke="#6b6b6b" stroke-width="1.7"/>
<rect x="405.97" y="429.36" width="7.8" height="7.8" fill="none" stroke="#6b6b6b" stroke-width="1.7"/>
<rect x="408.50" y="429.36" width="7.8" height="7.8" fill="none" stroke="#6b6b6b" stroke-width="1.7"/>
<rect x="411.04" y="429.36" width="7.8" height="7.8" fill="none" stroke="#6b6b6b" stroke-width="1.7"/>
<rect x="413.57" y="429.36" width="7.8" height="7.8" fill="none" stroke="#6b6b6b" stroke-width="1.7"/>
<rect x="426.25" y="429.59" width="7.8" height="7.8" fill="none" stroke="#6b6b6b" stroke-width="1.7"/>
<rect x="451.59" y="430.05" width="7.8" height="7.8" fill="none" stroke="#6b6b6b" stroke-width="1.7"/>
<rect x="476.94" y="430.05" width="7.8" height="7.8" fill="none" stroke="#6b6b6b" stroke-width="1.7"/>
<rect x="502.28" y="428.45" width="7.8" height="7.8" fill="none" stroke="#6b6b6b" stroke-width="1.7"/>
<rect x="527.63" y="428.45" width="7.8" height="7.8" fill="none" stroke="#6b6b6b" stroke-width="1.7"/>
<rect x="552.97" y="427.30" width="7.8" height="7.8" fill="none" stroke="#6b6b6b" stroke-width="1.7"/>
<rect x="578.32" y="421.33" width="7.8" height="7.8" fill="none" stroke="#6b6b6b" stroke-width="1.7"/>
<rect x="603.66" y="410.32" width="7.8" height="7.8" fill="none" stroke="#6b6b6b" stroke-width="1.7"/>
<rect x="629.01" y="392.42" width="7.8" height="7.8" fill="none" stroke="#6b6b6b" stroke-width="1.7"/>
<rect x="654.35" y="374.06" width="7.8" height="7.8" fill="none" stroke="#6b6b6b" stroke-width="1.7"/>
<path d="M414.45,275.60 H424.95 M419.70,270.35 V280.85" stroke="#7db0db" stroke-width="1.8" fill="none"/>
<circle cx="419.70" cy="292.90" r="4.6" fill="none" stroke="#a7cc5e" stroke-width="1.8"/>
<rect x="415.60" y="306.20" width="8.2" height="8.2" fill="none" stroke="#6b6b6b" stroke-width="1.7"/>
<text x="431.50" y="280.20" font-size="12" fill="#000" text-anchor="start" >Forward FWHM point</text>
<text x="431.50" y="297.60" font-size="12" fill="#000" text-anchor="start" >Peak point</text>
<text x="431.50" y="315.00" font-size="12" fill="#000" text-anchor="start" >Backward FWHM point</text>
<text x="544.20" y="487.20" font-size="14" fill="#000" text-anchor="middle" textLength="126.2" lengthAdjust="spacingAndGlyphs">Axial deviation (<tspan font-family="Liberation Serif, serif">&#956;</tspan>m)</text>
<text x="0.00" y="0.00" font-size="14" fill="#000" text-anchor="middle" transform="translate(369.3,358) rotate(-90)" textLength="143" lengthAdjust="spacingAndGlyphs">Lateral resolution (<tspan font-family="Liberation Serif, serif">&#956;</tspan>m)</text>
<text x="342.50" y="272.60" font-size="21" fill="#000" text-anchor="start" font-weight="bold">d</text>
<path d="M25.40,441.71 L25.75,440.06 L26.10,438.25 L26.45,436.55 L26.80,435.23 L27.15,434.49 L27.50,434.44 L27.85,435.08 L28.20,436.35 L28.55,438.05 L28.90,439.90 L29.25,441.61 L29.60,442.90 L29.95,443.55 L30.30,443.43 L30.65,442.55 L31.00,441.01 L31.35,439.06 L31.70,436.97 L32.05,435.08 L32.40,433.68 L32.75,432.99 L33.10,433.13 L33.45,434.09 L33.80,435.71 L34.15,437.75 L34.50,439.88 L34.85,441.75 L35.20,443.07 L35.55,443.60 L35.90,443.23 L36.25,442.02 L36.60,440.12 L36.95,437.82 L37.30,435.48 L37.65,433.45 L38.00,432.05 L38.35,431.51 L38.70,431.93 L39.05,433.23 L39.40,435.23 L39.75,437.60 L40.10,439.97 L40.45,441.96 L40.80,443.24 L41.15,443.59 L41.50,442.93 L41.85,441.34 L42.20,439.07 L42.55,436.44 L42.90,433.87 L43.25,431.75 L43.60,430.42 L43.95,430.08 L44.30,430.76 L44.65,432.41 L45.00,434.78 L45.35,437.48 L45.70,440.10 L46.05,442.19 L46.40,443.40 L46.75,443.50 L47.10,442.45 L47.45,440.38 L47.80,437.58 L48.15,434.47 L48.50,431.52 L48.85,429.21 L49.20,427.88 L49.55,427.78 L49.90,428.91 L50.25,431.11 L50.60,434.05 L50.95,437.25 L51.30,440.20 L51.65,442.42 L52.00,443.52 L52.35,443.30 L52.70,441.76 L53.05,439.11 L53.40,435.73 L53.75,432.14 L54.10,428.90 L54.45,426.50 L54.80,425.34 L55.15,425.60 L55.50,427.26 L55.85,430.07 L56.20,433.58 L56.55,437.24 L56.90,440.46 L57.25,442.70 L57.60,443.59 L57.95,442.96 L58.30,440.85 L58.65,437.58 L59.00,433.63 L59.35,429.61 L59.70,426.14 L60.05,423.76 L60.40,422.85 L60.75,423.48 L61.10,425.65 L61.45,429.05 L61.80,433.13 L62.15,437.26 L62.50,440.74 L62.85,442.98 L63.20,443.58 L63.55,442.37 L63.90,439.49 L64.25,435.34 L64.60,430.53 L64.95,425.78 L65.30,421.84 L65.65,419.32 L66.00,418.65 L66.35,419.94 L66.70,423.01 L67.05,427.39 L67.40,432.39 L67.75,437.20 L68.10,441.03 L68.45,443.24 L68.80,443.41 L69.15,441.46 L69.50,437.63 L69.85,432.48 L70.20,426.78 L70.55,421.39 L70.90,417.17 L71.25,414.78 L71.60,414.58 L71.95,416.62 L72.30,420.65 L72.65,426.03 L73.00,431.92 L73.35,437.36 L73.70,441.44 L74.05,443.46 L74.40,443.03 L74.75,440.13 L75.10,435.14 L75.45,428.79 L75.80,422.04 L76.15,415.91 L76.50,411.38 L76.85,409.17 L77.20,409.57 L77.55,412.60 L77.90,417.85 L78.25,424.48 L78.60,431.44 L78.95,437.59 L79.30,441.89 L79.65,443.59 L80.00,442.31 L80.35,438.15 L80.70,431.68 L81.05,423.84 L81.40,415.81 L81.75,408.83 L82.10,404.00 L82.45,402.08 L82.80,402.84 L83.15,406.83 L83.50,413.47 L83.85,421.72 L84.20,430.23 L84.55,437.52 L84.90,442.29 L85.25,443.54 L85.60,440.83 L85.95,434.36 L86.30,424.91 L86.65,413.81 L87.00,402.70 L87.35,393.30 L87.70,387.09 L88.05,385.45 L88.40,389.10 L88.75,396.79 L89.10,407.41 L89.45,419.49 L89.80,431.32 L90.15,441.00 L90.50,446.69 L90.85,447.11 L91.20,442.28 L91.55,432.96 L91.90,420.17 L92.25,404.80 L92.60,387.63 L92.95,369.45 L93.30,351.18 L93.65,333.82 L94.00,318.33 L94.35,305.61 L94.70,296.36 L95.05,291.12 L95.40,290.18 L95.75,293.60 L96.10,301.18 L96.45,312.49 L96.80,326.90 L97.15,343.57 L97.50,361.57 L97.85,379.91 L98.20,397.62 L98.55,413.85 L98.90,427.85 L99.25,438.78 L99.60,445.65 L99.95,447.56 L100.30,445.36 L100.65,440.33 L101.00,433.69 L101.35,426.64 L101.70,420.16 L102.05,415.08 L102.40,412.03 L102.75,411.28 L103.10,412.67 L103.45,416.44 L103.80,422.02 L104.15,428.52 L104.50,434.89 L104.85,440.04 L105.20,443.07 L105.55,443.37 L105.90,440.75 L106.25,435.51 L106.60,428.34 L106.95,420.29 L107.30,412.59 L107.65,406.42 L108.00,402.78 L108.35,402.93 L108.70,406.78 L109.05,413.09 L109.40,420.85 L109.75,428.85 L110.10,435.89 L110.45,440.97 L110.80,443.42 L111.15,443.01 L111.50,439.95 L111.85,434.89 L112.20,428.73 L112.55,422.53 L112.90,417.31 L113.25,413.89 L113.60,412.79 L113.95,413.76 L114.30,416.88 L114.65,421.76 L115.00,427.64 L115.35,433.59 L115.70,438.71 L116.05,442.21 L116.40,443.59 L116.75,442.67 L117.10,439.65 L117.45,435.04 L117.80,429.59 L118.15,424.19 L118.50,419.69 L118.85,416.80 L119.20,415.96 L119.55,417.29 L119.90,420.57 L120.25,425.27 L120.60,430.65 L120.95,435.89 L121.30,440.17 L121.65,442.86 L122.00,443.58 L122.35,442.25 L122.70,439.14 L123.05,434.77 L123.40,429.86 L123.75,425.19 L124.10,421.51 L124.45,419.39 L124.80,419.18 L125.15,420.94 L125.50,424.31 L125.85,428.73 L126.20,433.53 L126.55,437.96 L126.90,441.38 L127.25,443.29 L127.60,443.45 L127.95,441.92 L128.30,439.00 L128.65,435.20 L129.00,431.16 L129.35,427.53 L129.70,424.90 L130.05,423.67 L130.40,423.93 L130.75,425.65 L131.10,428.59 L131.45,432.31 L131.80,436.22 L132.15,439.72 L132.50,442.27 L132.85,443.51 L133.20,443.28 L133.55,441.64 L133.90,438.88 L134.25,435.47 L134.60,431.96 L134.95,428.90 L135.30,426.79 L135.65,425.94 L136.00,426.55 L136.35,428.47 L136.70,431.34 L137.05,434.72 L137.40,438.09 L137.75,440.94 L138.10,442.86 L138.45,443.60 L138.80,443.09 L139.15,441.48 L139.50,439.07 L139.85,436.28 L140.20,433.57 L140.55,431.38 L140.90,430.05 L141.25,429.78 L141.60,430.51 L141.95,432.19 L142.30,434.56 L142.65,437.25 L143.00,439.84 L143.35,441.94 L143.70,443.25 L144.05,443.59 L144.40,442.94 L144.75,441.44 L145.10,439.35 L145.45,437.02 L145.80,434.84 L146.15,433.15 L146.50,432.21 L146.85,432.16 L147.20,433.00 L147.55,434.59 L147.90,436.67 L148.25,438.92 L148.60,440.99 L148.95,442.58 L149.30,443.46 L149.65,443.53 L150.00,442.81 L150.35,441.45 L150.70,439.68 L151.05,437.81 L151.40,436.15 L151.75,434.95 L152.10,434.39 L152.45,434.54 L152.80,435.37 L153.15,436.75 L153.50,438.47 L153.85,440.26 L154.20,441.86 L154.55,443.01 L154.90,443.56 L155.25,443.45 L155.60,442.71 L155.95,441.49 L156.30,439.99 L156.65,438.45 L157.00,437.14 L157.35,436.24 L157.70,435.91 L158.05,436.17 L158.40,436.99 L158.75,438.23 L159.10,439.70 L159.45,441.17 L159.80,442.43 L160.15,443.27 L160.50,443.60 L160.85,443.37 L161.20,442.63 L161.55,441.53 L161.90,440.24 L162.25,438.98 L162.60,437.95 L162.95,437.31 L163.30,437.15 L163.65,437.50 L164.00,438.29 L164.35,439.40 L164.70,440.65 L165.05,441.86 L165.40,442.83 L165.75,443.44 L166.10,443.59 L166.45,443.29 L166.80,442.58 L167.15,441.60 L167.50,440.52 L167.85,439.50 L168.20,438.72 L168.55,438.28 L168.90,438.26 L169.25,438.66 L169.60,439.41 L169.95,440.38 L170.30,441.43 L170.65,442.39 L171.00,443.13 L171.35,443.54 L171.70,443.57 L172.05,443.23 L172.40,442.59 L172.75,441.76 L173.10,440.89 L173.45,440.11 L173.80,439.56 L174.15,439.30 L174.50,439.37 L174.85,439.75 L175.20,440.40 L175.55,441.20 L175.90,442.04 L176.25,442.79 L176.60,443.33 L176.95,443.58 L177.30,443.53 L177.65,443.17 L178.00,442.59 L178.35,441.87 L178.70,441.14 L179.05,440.51 L179.40,440.07 L179.75,439.91 L180.10,440.04 L180.45,440.43 L180.80,441.03 L181.15,441.74 L181.50,442.45 L181.85,443.04 L182.20,443.45 L182.55,443.60 L182.90,443.49 L183.25,443.13 L183.60,442.60 L183.95,441.99 L184.30,441.39 L184.65,440.90 L185.00,440.60 L185.35,440.53 L185.70,440.70 L186.05,441.09 L186.40,441.62 L186.75,442.21 L187.10,442.79 L187.45,443.24 L187.80,443.53 L188.15,443.60 L188.50,443.45 L188.85,443.12 L189.20,442.67 L189.55,442.17 L189.90,441.71 L190.25,441.35 L190.60,441.16 L190.95,441.16 L191.30,441.35 L191.65,441.70 L192.00,442.15 L192.35,442.63 L192.70,443.06 L193.05,443.39 L193.40,443.57 L193.75,443.58 L194.10,443.43 L194.45,443.15 L194.80,442.79 L195.15,442.41 L195.50,442.08 L195.85,441.85 L196.20,441.75 L196.55,441.79 L196.90,441.95 L197.25,442.22 L197.60,442.56 L197.95,442.93 L198.30,443.25 L198.65,443.48 L199.00,443.59 L199.35,443.57 L199.70,443.41 L200.05,443.15 L200.40,442.83 L200.75,442.50 L201.10,442.21 L201.45,442.01 L201.80,441.93 L202.15,441.99 L202.50,442.16 L202.85,442.43 L203.20,442.75 L203.55,443.07 L203.90,443.35 L204.25,443.53 L204.60,443.60 L204.95,443.55 L205.30,443.38 L205.65,443.13 L206.00,442.83 L206.35,442.54 L206.70,442.30 L207.05,442.15 L207.40,442.11 L207.75,442.19 L208.10,442.37 L208.45,442.62 L208.80,442.92 L209.15,443.20 L209.50,443.42 L209.85,443.56 L210.20,443.60 L210.55,443.52 L210.90,443.35 L211.25,443.11 L211.60,442.85 L211.95,442.60 L212.30,442.41 L212.65,442.30 L213.00,442.29 L213.35,442.39 L213.70,442.57 L214.05,442.80 L214.40,443.06 L214.75,443.30 L215.10,443.48 L215.45,443.59 L215.80,443.59 L216.15,443.50 L216.50,443.34 L216.85,443.12 L217.20,442.89 L217.55,442.68 L217.90,442.53 L218.25,442.46 L218.60,442.48 L218.95,442.58 L219.30,442.76 L219.65,442.97 L220.00,443.19 L220.35,443.39 L220.70,443.53 L221.05,443.60 L221.40,443.58 L221.75,443.49 L222.10,443.33 L222.45,443.14 L222.80,442.95 L223.15,442.78 L223.50,442.67 L223.85,442.63 L224.20,442.67 L224.55,442.78 L224.90,442.93 L225.25,443.12 L225.60,443.30 L225.95,443.46 L226.30,443.56 L226.65,443.60 L227.00,443.57 L227.35,443.48 L227.70,443.34 L228.05,443.18 L228.40,443.03 L228.75,442.90 L229.10,442.83 L229.45,442.81 L229.80,442.86 L230.15,442.96 L230.50,443.10 L230.85,443.25 L231.20,443.39 L231.55,443.51 L231.90,443.58 L232.25,443.60 L232.60,443.56 L232.95,443.48 L233.30,443.36 L233.65,443.24 L234.00,443.12 L234.35,443.03 L234.70,442.99 L235.05,442.99 L235.40,443.03 L235.75,443.11 L236.10,443.22 L236.45,443.35 L236.80,443.46 L237.15,443.55 L237.50,443.59 L237.85,443.60 L238.20,443.55 L238.55,443.47 L238.90,443.36 L239.25,443.25 L239.60,443.14 L239.95,443.07 L240.30,443.03 L240.65,443.04 L241.00,443.09 L241.35,443.17 L241.70,443.28 L242.05,443.39 L242.40,443.49 L242.75,443.56 L243.10,443.60 L243.45,443.59 L243.80,443.54 L244.15,443.46 L244.50,443.35 L244.85,443.25 L245.20,443.16 L245.55,443.09 L245.90,443.07 L246.25,443.08 L246.60,443.14 L246.95,443.23 L247.30,443.33 L247.65,443.43 L248.00,443.52 L248.35,443.58 L248.70,443.60 L249.05,443.58 L249.40,443.53 L249.75,443.44 L250.10,443.35 L250.45,443.25 L250.80,443.17 L251.15,443.12 L251.50,443.11 L251.85,443.13 L252.20,443.19 L252.55,443.28 L252.90,443.37 L253.25,443.47 L253.60,443.54 L253.95,443.59 L254.30,443.60 L254.65,443.57 L255.00,443.51 L255.35,443.43 L255.70,443.34 L256.05,443.26 L256.40,443.19 L256.75,443.16 L257.10,443.15 L257.45,443.18 L257.80,443.25 L258.15,443.33 L258.50,443.42 L258.85,443.50 L259.20,443.56 L259.55,443.60 L259.90,443.60 L260.25,443.56 L260.60,443.51 L260.95,443.43 L261.30,443.35 L261.65,443.27 L262.00,443.22 L262.35,443.19 L262.70,443.20 L263.05,443.23 L263.40,443.30 L263.75,443.37 L264.10,443.45 L264.45,443.52 L264.80,443.58 L265.15,443.60 L265.50,443.59 L265.85,443.56 L266.20,443.50 L266.55,443.43 L266.90,443.35 L267.25,443.29 L267.60,443.25 L267.95,443.23 L268.30,443.24 L268.65,443.28 L269.00,443.34 L269.35,443.41 L269.70,443.49 L270.05,443.55 L270.40,443.59 L270.75,443.60 L271.10,443.59 L271.45,443.55 L271.80,443.49 L272.15,443.43 L272.50,443.36 L272.85,443.31 L273.20,443.28 L273.55,443.27 L273.90,443.29 L274.25,443.33 L274.60,443.39 L274.95,443.45 L275.30,443.51 L275.65,443.56 L276.00,443.59 L276.35,443.60 L276.70,443.58 L277.05,443.54 L277.40,443.49 L277.75,443.43 L278.10,443.38 L278.45,443.34 L278.80,443.32 L279.15,443.32 L279.50,443.34 L279.85,443.38 L280.20,443.43 L280.55,443.49 L280.90,443.54 L281.25,443.58 L281.60,443.60 L281.95,443.60 L282.30,443.58 L282.65,443.54 L283.00,443.49 L283.35,443.45 L283.70,443.40 L284.05,443.37 L284.40,443.35 L284.75,443.36 L285.10,443.38 L285.45,443.42 L285.80,443.47 L286.15,443.51 L286.50,443.56 L286.85,443.59 L287.20,443.60 L287.55,443.60 L287.90,443.57 L288.25,443.54 L288.60,443.50 L288.95,443.46 L289.30,443.43 L289.65,443.40 L290.00,443.39 L290.35,443.40 L290.70,443.43 L291.05,443.46 L291.40,443.50 L291.75,443.54 L292.10,443.57 L292.45,443.59 L292.80,443.60 L293.15,443.59 L293.50,443.57 L293.85,443.54 L294.20,443.51 L294.55,443.48 L294.90,443.45 L295.25,443.44 L295.60,443.44 L295.95,443.45 L296.30,443.47 L296.65,443.50 L297.00,443.53 L297.35,443.56 L297.70,443.58 L298.05,443.60 L298.40,443.60 L298.75,443.59 L299.10,443.57 L299.45,443.55 L299.80,443.53 L300.15,443.50 L300.50,443.49 L300.85,443.48 L301.20,443.48 L301.55,443.49 L301.90,443.51 L302.25,443.53 L302.60,443.55 L302.95,443.57 L303.30,443.59 L303.65,443.60 L304.00,443.60 L304.35,443.59" fill="none" stroke="#00ffff" stroke-width="2.1" stroke-linejoin="round" stroke-linecap="round" />
<path d="M25.40,441.49 L25.75,442.65 L26.10,443.28 L26.45,443.25 L26.80,442.56 L27.15,441.32 L27.50,439.69 L27.85,437.94 L28.20,436.33 L28.55,435.12 L28.90,434.50 L29.25,434.54 L29.60,435.25 L29.95,436.55 L30.30,438.23 L30.65,440.02 L31.00,441.64 L31.35,442.81 L31.70,443.33 L32.05,443.11 L32.40,442.15 L32.75,440.59 L33.10,438.65 L33.45,436.62 L33.80,434.83 L34.15,433.56 L34.50,433.00 L34.85,433.25 L35.20,434.28 L35.55,435.93 L35.90,437.95 L36.25,440.00 L36.60,441.77 L36.95,442.95 L37.30,443.35 L37.65,442.87 L38.00,441.57 L38.35,439.64 L38.70,437.36 L39.05,435.09 L39.40,433.17 L39.75,431.91 L40.10,431.51 L40.45,432.04 L40.80,433.42 L41.15,435.45 L41.50,437.80 L41.85,440.10 L42.20,441.97 L42.55,443.11 L42.90,443.31 L43.25,442.52 L43.60,440.84 L43.95,438.53 L44.30,435.92 L44.65,433.42 L45.00,431.42 L45.35,430.24 L45.70,430.04 L46.05,430.85 L46.40,432.60 L46.75,435.00 L47.10,437.69 L47.45,440.22 L47.80,442.18 L48.15,443.23 L48.50,443.17 L48.85,441.98 L49.20,439.80 L49.55,436.94 L49.90,433.85 L50.25,430.98 L50.60,428.80 L50.95,427.64 L51.30,427.71 L51.65,428.99 L52.00,431.31 L52.35,434.29 L52.70,437.47 L53.05,440.34 L53.40,442.40 L53.75,443.32 L54.10,442.91 L54.45,441.20 L54.80,438.42 L55.15,434.98 L55.50,431.40 L55.85,428.24 L56.20,425.99 L56.55,425.02 L56.90,425.48 L57.25,427.32 L57.60,430.26 L57.95,433.83 L58.30,437.47 L58.65,440.59 L59.00,442.67 L59.35,443.35 L59.70,442.49 L60.05,440.19 L60.40,436.77 L60.75,432.75 L61.10,428.74 L61.45,425.36 L61.80,423.16 L62.15,422.46 L62.50,423.32 L62.85,425.71 L63.20,429.28 L63.55,433.45 L63.90,437.55 L64.25,440.92 L64.60,442.96 L64.95,443.31 L65.30,441.85 L65.65,438.73 L66.00,434.42 L66.35,429.53 L66.70,424.82 L67.05,421.02 L67.40,418.73 L67.75,418.34 L68.10,419.92 L68.45,423.24 L68.80,427.79 L69.15,432.86 L69.50,437.61 L69.85,441.28 L70.20,443.23 L70.55,443.10 L70.90,440.85 L71.25,436.76 L71.60,431.44 L71.95,425.69 L72.30,420.38 L72.65,416.35 L73.00,414.25 L73.35,414.37 L73.70,416.75 L74.05,421.05 L74.40,426.61 L74.75,432.54 L75.10,437.88 L75.45,441.74 L75.80,443.45 L76.15,442.65 L76.50,439.39 L76.85,434.12 L77.20,427.61 L77.55,420.83 L77.90,414.83 L78.25,410.56 L78.60,408.71 L78.95,409.49 L79.30,412.91 L79.65,418.46 L80.00,425.26 L80.35,432.23 L80.70,438.23 L81.05,442.23 L81.40,443.53 L81.75,441.81 L82.10,437.25 L82.45,430.46 L82.80,422.46 L83.15,414.44 L83.50,407.66 L83.85,403.18 L84.20,401.62 L84.55,402.87 L84.90,407.32 L85.25,414.32 L85.60,422.77 L85.95,431.25 L86.30,438.32 L86.65,442.67 L87.00,443.38 L87.35,440.09 L87.70,433.07 L88.05,423.22 L88.40,411.93 L88.75,400.88 L89.10,391.78 L89.45,386.09 L89.80,385.24 L90.15,389.56 L90.50,397.81 L90.85,408.82 L91.20,421.06 L91.55,432.78 L91.90,442.07 L92.25,447.08 L92.60,446.72 L92.95,441.16 L93.30,431.21 L93.65,417.91 L94.00,402.12 L94.35,384.61 L94.70,366.22 L95.05,347.88 L95.40,330.59 L95.75,315.33 L96.10,302.97 L96.45,294.20 L96.80,289.52 L97.15,289.21 L97.50,293.27 L97.85,301.48 L98.20,313.37 L98.55,328.27 L98.90,345.32 L99.25,363.57 L99.60,382.02 L99.95,399.70 L100.30,415.78 L100.65,429.49 L101.00,439.98 L101.35,446.23 L101.70,447.45 L102.05,444.77 L102.40,439.41 L102.75,432.59 L103.10,425.51 L103.45,419.14 L103.80,414.28 L104.15,411.54 L104.50,411.07 L104.85,412.84 L105.20,416.94 L105.55,422.75 L105.90,429.35 L106.25,435.66 L106.60,440.60 L106.95,443.29 L107.30,443.17 L107.65,440.13 L108.00,434.51 L108.35,427.09 L108.70,418.95 L109.05,411.34 L109.40,405.43 L109.75,402.19 L110.10,402.98 L110.45,407.27 L110.80,413.91 L111.15,421.83 L111.50,429.83 L111.85,436.70 L112.20,441.48 L112.55,443.54 L112.90,442.71 L113.25,439.30 L113.60,433.98 L113.95,427.70 L114.30,421.53 L114.65,416.48 L115.00,413.35 L115.35,412.59 L115.70,413.84 L116.05,417.28 L116.40,422.40 L116.75,428.39 L117.10,434.32 L117.45,439.29 L117.80,442.54 L118.15,443.60 L118.50,442.35 L118.85,439.04 L119.20,434.22 L119.55,428.68 L119.90,423.32 L120.25,418.97 L120.60,416.33 L120.95,415.80 L121.30,417.44 L121.65,420.99 L122.00,425.88 L122.35,431.33 L122.70,436.52 L123.05,440.64 L123.40,443.08 L123.75,443.51 L124.10,441.90 L124.45,438.54 L124.80,434.01 L125.15,429.04 L125.50,424.44 L125.85,420.92 L126.20,419.05 L126.55,419.13 L126.90,421.16 L127.25,424.74 L127.60,429.30 L127.95,434.13 L128.30,438.49 L128.65,441.74 L129.00,443.42 L129.35,443.33 L129.70,441.57 L130.05,438.46 L130.40,434.55 L130.75,430.50 L131.10,426.95 L131.45,424.48 L131.80,423.46 L132.15,423.94 L132.50,425.86 L132.85,428.98 L133.20,432.79 L133.55,436.70 L133.90,440.12 L134.25,442.53 L134.60,443.57 L134.95,443.12 L135.30,441.29 L135.65,438.38 L136.00,434.89 L136.35,431.38 L136.70,428.41 L137.05,426.45 L137.40,425.79 L137.75,426.62 L138.10,428.71 L138.45,431.71 L138.80,435.15 L139.15,438.50 L139.50,441.26 L139.85,443.03 L140.20,443.60 L140.55,442.92 L140.90,441.16 L141.25,438.65 L141.60,435.82 L141.95,433.13 L142.30,431.03 L142.65,429.84 L143.00,429.71 L143.35,430.59 L143.70,432.41 L144.05,434.87 L144.40,437.59 L144.75,440.15 L145.10,442.17 L145.45,443.36 L145.80,443.55 L146.15,442.76 L146.50,441.15 L146.85,438.99 L147.20,436.64 L147.55,434.49 L147.90,432.88 L148.25,432.06 L148.60,432.14 L148.95,433.11 L149.30,434.80 L149.65,436.94 L150.00,439.20 L150.35,441.23 L150.70,442.74 L151.05,443.52 L151.40,443.47 L151.75,442.64 L152.10,441.19 L152.45,439.38 L152.80,437.51 L153.15,435.88 L153.50,434.75 L153.85,434.30 L154.20,434.55 L154.55,435.47 L154.90,436.93 L155.25,438.69 L155.60,440.49 L155.95,442.04 L156.30,443.12 L156.65,443.59 L157.00,443.38 L157.35,442.56 L157.70,441.27 L158.05,439.73 L158.40,438.20 L158.75,436.93 L159.10,436.10 L159.45,435.86 L159.80,436.20 L160.15,437.09 L160.50,438.39 L160.85,439.89 L161.20,441.35 L161.55,442.57 L161.90,443.35 L162.25,443.60 L162.60,443.29 L162.95,442.48 L163.30,441.33 L163.65,440.03 L164.00,438.78 L164.35,437.78 L164.70,437.20 L165.05,437.12 L165.40,437.54 L165.75,438.39 L166.10,439.54 L166.45,440.81 L166.80,442.00 L167.15,442.94 L167.50,443.49 L167.85,443.58 L168.20,443.20 L168.55,442.45 L168.90,441.43 L169.25,440.34 L169.60,439.34 L169.95,438.59 L170.30,438.21 L170.65,438.25 L171.00,438.71 L171.35,439.50 L171.70,440.50 L172.05,441.56 L172.40,442.51 L172.75,443.21 L173.10,443.56 L173.45,443.54 L173.80,443.15 L174.15,442.47 L174.50,441.62 L174.85,440.75 L175.20,439.99 L175.55,439.47 L175.90,439.26 L176.25,439.38 L176.60,439.80 L176.95,440.48 L177.30,441.31 L177.65,442.14 L178.00,442.87 L178.35,443.38 L178.70,443.59 L179.05,443.49 L179.40,443.10 L179.75,442.48 L180.10,441.75 L180.45,441.02 L180.80,440.40 L181.15,440.01 L181.50,439.88 L181.85,440.05 L182.20,440.48 L182.55,441.11 L182.90,441.83 L183.25,442.53 L183.60,443.11 L183.95,443.48 L184.30,443.60 L184.65,443.45 L185.00,443.06 L185.35,442.51 L185.70,441.89 L186.05,441.29 L186.40,440.82 L186.75,440.55 L187.10,440.52 L187.45,440.72 L187.80,441.13 L188.15,441.69 L188.50,442.29 L188.85,442.85 L189.20,443.29 L189.55,443.55 L189.90,443.59 L190.25,443.41 L190.60,443.06 L190.95,442.59 L191.30,442.09 L191.65,441.63 L192.00,441.30 L192.35,441.13 L192.70,441.16 L193.05,441.38 L193.40,441.75 L193.75,442.21 L194.10,442.69 L194.45,443.11 L194.80,443.43 L195.15,443.58 L195.50,443.57 L195.85,443.40 L196.20,443.10 L196.55,442.73 L196.90,442.35 L197.25,442.03 L197.60,441.82 L197.95,441.74 L198.30,441.79 L198.65,441.97 L199.00,442.26 L199.35,442.61 L199.70,442.97 L200.05,443.29 L200.40,443.51 L200.75,443.60 L201.10,443.55 L201.45,443.38 L201.80,443.10 L202.15,442.77 L202.50,442.44 L202.85,442.16 L203.20,441.98 L203.55,441.92 L203.90,441.99 L204.25,442.18 L204.60,442.46 L204.95,442.79 L205.30,443.11 L205.65,443.38 L206.00,443.55 L206.35,443.60 L206.70,443.53 L207.05,443.34 L207.40,443.08 L207.75,442.78 L208.10,442.49 L208.45,442.26 L208.80,442.12 L209.15,442.10 L209.50,442.20 L209.85,442.39 L210.20,442.66 L210.55,442.95 L210.90,443.23 L211.25,443.45 L211.60,443.58 L211.95,443.59 L212.30,443.50 L212.65,443.32 L213.00,443.07 L213.35,442.81 L213.70,442.56 L214.05,442.38 L214.40,442.28 L214.75,442.29 L215.10,442.40 L215.45,442.59 L215.80,442.84 L216.15,443.10 L216.50,443.33 L216.85,443.50 L217.20,443.59 L217.55,443.58 L217.90,443.48 L218.25,443.30 L218.60,443.08 L218.95,442.85 L219.30,442.65 L219.65,442.51 L220.00,442.45 L220.35,442.48 L220.70,442.60 L221.05,442.78 L221.40,443.00 L221.75,443.22 L222.10,443.41 L222.45,443.54 L222.80,443.60 L223.15,443.57 L223.50,443.47 L223.85,443.30 L224.20,443.11 L224.55,442.92 L224.90,442.76 L225.25,442.66 L225.60,442.63 L225.95,442.67 L226.30,442.79 L226.65,442.95 L227.00,443.14 L227.35,443.33 L227.70,443.48 L228.05,443.57 L228.40,443.60 L228.75,443.56 L229.10,443.46 L229.45,443.31 L229.80,443.15 L230.15,443.00 L230.50,442.88 L230.85,442.81 L231.20,442.81 L231.55,442.86 L231.90,442.97 L232.25,443.11 L232.60,443.27 L232.95,443.41 L233.30,443.52 L233.65,443.59 L234.00,443.60 L234.35,443.55 L234.70,443.46 L235.05,443.34 L235.40,443.22 L235.75,443.10 L236.10,443.02 L236.45,442.98 L236.80,442.99 L237.15,443.04 L237.50,443.13 L237.85,443.24 L238.20,443.36 L238.55,443.47 L238.90,443.55 L239.25,443.60 L239.60,443.59 L239.95,443.54 L240.30,443.45 L240.65,443.34 L241.00,443.23 L241.35,443.13 L241.70,443.06 L242.05,443.02 L242.40,443.04 L242.75,443.09 L243.10,443.18 L243.45,443.29 L243.80,443.41 L244.15,443.50 L244.50,443.57 L244.85,443.60 L245.20,443.58 L245.55,443.53 L245.90,443.44 L246.25,443.34 L246.60,443.23 L246.95,443.14 L247.30,443.08 L247.65,443.06 L248.00,443.09 L248.35,443.15 L248.70,443.24 L249.05,443.34 L249.40,443.44 L249.75,443.53 L250.10,443.58 L250.45,443.60 L250.80,443.58 L251.15,443.51 L251.50,443.43 L251.85,443.33 L252.20,443.24 L252.55,443.16 L252.90,443.11 L253.25,443.11 L253.60,443.14 L253.95,443.20 L254.30,443.29 L254.65,443.39 L255.00,443.48 L255.35,443.55 L255.70,443.59 L256.05,443.60 L256.40,443.57 L256.75,443.50 L257.10,443.42 L257.45,443.33 L257.80,443.25 L258.15,443.18 L258.50,443.15 L258.85,443.15 L259.20,443.19 L259.55,443.25 L259.90,443.34 L260.25,443.43 L260.60,443.51 L260.95,443.57 L261.30,443.60 L261.65,443.59 L262.00,443.56 L262.35,443.49 L262.70,443.42 L263.05,443.33 L263.40,443.26 L263.75,443.21 L264.10,443.19 L264.45,443.20 L264.80,443.24 L265.15,443.30 L265.50,443.38 L265.85,443.46 L266.20,443.53 L266.55,443.58 L266.90,443.60 L267.25,443.59 L267.60,443.55 L267.95,443.49 L268.30,443.41 L268.65,443.34 L269.00,443.28 L269.35,443.24 L269.70,443.23 L270.05,443.25 L270.40,443.29 L270.75,443.35 L271.10,443.42 L271.45,443.49 L271.80,443.55 L272.15,443.59 L272.50,443.60 L272.85,443.58 L273.20,443.54 L273.55,443.48 L273.90,443.42 L274.25,443.35 L274.60,443.30 L274.95,443.28 L275.30,443.27 L275.65,443.29 L276.00,443.34 L276.35,443.40 L276.70,443.46 L277.05,443.52 L277.40,443.57 L277.75,443.60 L278.10,443.60 L278.45,443.58 L278.80,443.54 L279.15,443.48 L279.50,443.43 L279.85,443.37 L280.20,443.33 L280.55,443.31 L280.90,443.32 L281.25,443.34 L281.60,443.38 L281.95,443.44 L282.30,443.49 L282.65,443.54 L283.00,443.58 L283.35,443.60 L283.70,443.60 L284.05,443.57 L284.40,443.53 L284.75,443.49 L285.10,443.44 L285.45,443.39 L285.80,443.36 L286.15,443.35 L286.50,443.36 L286.85,443.39 L287.20,443.42 L287.55,443.47 L287.90,443.52 L288.25,443.56 L288.60,443.59 L288.95,443.60 L289.30,443.59 L289.65,443.57 L290.00,443.54 L290.35,443.49 L290.70,443.45 L291.05,443.42 L291.40,443.40 L291.75,443.39 L292.10,443.40 L292.45,443.43 L292.80,443.46 L293.15,443.50 L293.50,443.54 L293.85,443.57 L294.20,443.59 L294.55,443.60 L294.90,443.59 L295.25,443.57 L295.60,443.54 L295.95,443.51 L296.30,443.47 L296.65,443.45 L297.00,443.44 L297.35,443.44 L297.70,443.45 L298.05,443.47 L298.40,443.50 L298.75,443.53 L299.10,443.56 L299.45,443.59 L299.80,443.60 L300.15,443.60 L300.50,443.59 L300.85,443.57 L301.20,443.55 L301.55,443.52 L301.90,443.50 L302.25,443.48 L302.60,443.48 L302.95,443.48 L303.30,443.49 L303.65,443.51 L304.00,443.53 L304.35,443.56" fill="none" stroke="#1ae6ff" stroke-width="2.1" stroke-linejoin="round" stroke-linecap="round" />
<path d="M25.40,435.39 L25.75,435.97 L26.10,437.05 L26.45,438.47 L26.80,440.00 L27.15,441.40 L27.50,442.44 L27.85,442.95 L28.20,442.83 L28.55,442.10 L28.90,440.85 L29.25,439.27 L29.60,437.61 L29.95,436.12 L30.30,435.04 L30.65,434.53 L31.00,434.66 L31.35,435.42 L31.70,436.72 L32.05,438.35 L32.40,440.05 L32.75,441.54 L33.10,442.58 L33.45,442.98 L33.80,442.66 L34.15,441.65 L34.50,440.09 L34.85,438.21 L35.20,436.28 L35.55,434.62 L35.90,433.48 L36.25,433.05 L36.60,433.40 L36.95,434.48 L37.30,436.13 L37.65,438.08 L38.00,440.04 L38.35,441.67 L38.70,442.71 L39.05,442.97 L39.40,442.39 L39.75,441.04 L40.10,439.11 L40.45,436.89 L40.80,434.73 L41.15,432.95 L41.50,431.84 L41.85,431.57 L42.20,432.21 L42.55,433.65 L42.90,435.67 L43.25,437.95 L43.60,440.13 L43.95,441.85 L44.30,442.83 L44.65,442.89 L45.00,441.99 L45.35,440.26 L45.70,437.95 L46.05,435.41 L46.40,433.03 L46.75,431.18 L47.10,430.16 L47.45,430.10 L47.80,431.02 L48.15,432.82 L48.50,435.22 L48.85,437.84 L49.20,440.25 L49.55,442.05 L49.90,442.93 L50.25,442.71 L50.60,441.39 L50.95,439.15 L51.30,436.30 L51.65,433.27 L52.00,430.54 L52.35,428.52 L52.70,427.55 L53.05,427.78 L53.40,429.19 L53.75,431.57 L54.10,434.55 L54.45,437.65 L54.80,440.37 L55.15,442.26 L55.50,442.98 L55.85,442.39 L56.20,440.53 L56.55,437.68 L56.90,434.24 L57.25,430.74 L57.60,427.73 L57.95,425.67 L58.30,424.90 L58.65,425.55 L59.00,427.53 L59.35,430.54 L59.70,434.11 L60.05,437.66 L60.40,440.62 L60.75,442.50 L61.10,442.96 L61.45,441.90 L61.80,439.44 L62.15,435.94 L62.50,431.92 L62.85,428.00 L63.20,424.79 L63.55,422.79 L63.90,422.31 L64.25,423.40 L64.60,425.98 L64.95,429.64 L65.30,433.82 L65.65,437.83 L66.00,441.02 L66.35,442.83 L66.70,442.92 L67.05,441.22 L67.40,437.93 L67.75,433.53 L68.10,428.67 L68.45,424.08 L68.80,420.50 L69.15,418.49 L69.50,418.38 L69.85,420.22 L70.20,423.73 L70.55,428.37 L70.90,433.41 L71.25,438.03 L71.60,441.46 L71.95,443.12 L72.30,442.69 L72.65,440.17 L73.00,435.90 L73.35,430.51 L73.70,424.82 L74.05,419.69 L74.40,415.94 L74.75,414.17 L75.10,414.61 L75.45,417.28 L75.80,421.77 L76.15,427.40 L76.50,433.27 L76.85,438.41 L77.20,441.98 L77.55,443.33 L77.90,442.18 L78.25,438.63 L78.60,433.18 L78.95,426.62 L79.30,419.94 L79.65,414.19 L80.00,410.27 L80.35,408.80 L80.70,409.97 L81.05,413.71 L81.40,419.45 L81.75,426.30 L82.10,433.15 L82.45,438.88 L82.80,442.51 L83.15,443.38 L83.50,441.25 L83.85,436.37 L84.20,429.40 L84.55,421.38 L84.90,413.53 L85.25,407.08 L85.60,403.03 L85.95,401.86 L86.30,403.58 L86.65,408.41 L87.00,415.64 L87.35,424.12 L87.70,432.43 L88.05,439.14 L88.40,442.99 L88.75,443.13 L89.10,439.31 L89.45,431.88 L89.80,421.82 L90.15,410.55 L90.50,399.77 L90.85,391.14 L91.20,386.07 L91.55,386.04 L91.90,390.93 L92.25,399.59 L92.60,410.79 L92.95,422.98 L93.30,434.39 L93.65,443.11 L94.00,447.37 L94.35,446.24 L94.70,440.03 L95.05,429.62 L95.40,416.01 L95.75,400.05 L96.10,382.50 L96.45,364.19 L96.80,346.08 L97.15,329.16 L97.50,314.38 L97.85,302.58 L98.20,294.43 L98.55,290.40 L98.90,290.72 L99.25,295.35 L99.60,304.06 L99.95,316.33 L100.30,331.47 L100.65,348.62 L101.00,366.82 L101.35,385.07 L101.70,402.44 L102.05,418.11 L102.40,431.32 L102.75,441.20 L103.10,446.73 L103.45,447.28 L103.80,444.17 L104.15,438.54 L104.50,431.67 L104.85,424.69 L105.20,418.54 L105.55,413.98 L105.90,411.60 L106.25,411.42 L106.60,413.52 L106.95,417.88 L107.30,423.83 L107.65,430.40 L108.00,436.53 L108.35,441.16 L108.70,443.45 L109.05,442.92 L109.40,439.50 L109.75,433.61 L110.10,426.08 L110.45,418.00 L110.80,410.62 L111.15,405.09 L111.50,402.30 L111.85,403.73 L112.20,408.37 L112.55,415.21 L112.90,423.16 L113.25,431.01 L113.60,437.58 L113.95,441.96 L114.30,443.59 L114.65,442.38 L115.00,438.68 L115.35,433.19 L115.70,426.91 L116.05,420.90 L116.40,416.12 L116.75,413.33 L117.10,412.90 L117.45,414.43 L117.80,418.12 L118.15,423.38 L118.50,429.37 L118.85,435.18 L119.20,439.90 L119.55,442.83 L119.90,443.56 L120.25,442.01 L120.60,438.47 L120.95,433.53 L121.30,428.01 L121.65,422.78 L122.00,418.67 L122.35,416.34 L122.70,416.12 L123.05,418.04 L123.40,421.79 L123.75,426.77 L124.10,432.20 L124.45,437.24 L124.80,441.12 L125.15,443.27 L125.50,443.40 L125.85,441.53 L126.20,437.99 L126.55,433.39 L126.90,428.46 L127.25,424.01 L127.60,420.72 L127.95,419.12 L128.30,419.50 L128.65,421.76 L129.00,425.49 L129.35,430.10 L129.70,434.86 L130.05,439.07 L130.40,442.09 L130.75,443.52 L131.10,443.18 L131.45,441.21 L131.80,437.98 L132.15,434.04 L132.50,430.05 L132.85,426.66 L133.20,424.39 L133.55,423.61 L133.90,424.28 L134.25,426.38 L134.60,429.60 L134.95,433.44 L135.30,437.29 L135.65,440.56 L136.00,442.77 L136.35,443.60 L136.70,442.94 L137.05,440.95 L137.40,437.95 L137.75,434.45 L138.10,431.01 L138.45,428.18 L138.80,426.40 L139.15,425.96 L139.50,426.98 L139.85,429.21 L140.20,432.28 L140.55,435.71 L140.90,438.98 L141.25,441.60 L141.60,443.19 L141.95,443.58 L142.30,442.74 L142.65,440.86 L143.00,438.29 L143.35,435.48 L143.70,432.87 L144.05,430.90 L144.40,429.86 L144.75,429.88 L145.10,430.90 L145.45,432.81 L145.80,435.32 L146.15,438.02 L146.50,440.51 L146.85,442.41 L147.20,443.45 L147.55,443.50 L147.90,442.59 L148.25,440.89 L148.60,438.69 L148.95,436.37 L149.30,434.29 L149.65,432.79 L150.00,432.10 L150.35,432.31 L150.70,433.39 L151.05,435.15 L151.40,437.31 L151.75,439.54 L152.10,441.50 L152.45,442.91 L152.80,443.56 L153.15,443.40 L153.50,442.48 L153.85,440.97 L154.20,439.15 L154.55,437.30 L154.90,435.75 L155.25,434.72 L155.60,434.37 L155.95,434.71 L156.30,435.71 L156.65,437.22 L157.00,438.99 L157.35,440.75 L157.70,442.24 L158.05,443.23 L158.40,443.60 L158.75,443.30 L159.10,442.41 L159.45,441.08 L159.80,439.54 L160.15,438.04 L160.50,436.83 L160.85,436.09 L161.20,435.93 L161.55,436.35 L161.90,437.31 L162.25,438.64 L162.60,440.13 L162.95,441.56 L163.30,442.72 L163.65,443.42 L164.00,443.59 L164.35,443.20 L164.70,442.35 L165.05,441.17 L165.40,439.87 L165.75,438.65 L166.10,437.72 L166.45,437.21 L166.80,437.20 L167.15,437.68 L167.50,438.58 L167.85,439.75 L168.20,441.01 L168.55,442.17 L168.90,443.05 L169.25,443.53 L169.60,443.55 L169.95,443.12 L170.30,442.32 L170.65,441.30 L171.00,440.21 L171.35,439.25 L171.70,438.55 L172.05,438.23 L172.40,438.34 L172.75,438.84 L173.10,439.67 L173.45,440.68 L173.80,441.72 L174.15,442.63 L174.50,443.28 L174.85,443.58 L175.20,443.50 L175.55,443.07 L175.90,442.36 L176.25,441.51 L176.60,440.65 L176.95,439.93 L177.30,439.45 L177.65,439.29 L178.00,439.45 L178.35,439.92 L178.70,440.62 L179.05,441.44 L179.40,442.27 L179.75,442.97 L180.10,443.43 L180.45,443.60 L180.80,443.45 L181.15,443.03 L181.50,442.39 L181.85,441.66 L182.20,440.94 L182.55,440.36 L182.90,440.00 L183.25,439.92 L183.60,440.13 L183.95,440.59 L184.30,441.23 L184.65,441.95 L185.00,442.63 L185.35,443.18 L185.70,443.52 L186.05,443.59 L186.40,443.41 L186.75,443.00 L187.10,442.43 L187.45,441.81 L187.80,441.24 L188.15,440.79 L188.50,440.56 L188.85,440.56 L189.20,440.79 L189.55,441.23 L189.90,441.79 L190.25,442.38 L190.60,442.93 L190.95,443.35 L191.30,443.57 L191.65,443.58 L192.00,443.37 L192.35,443.00 L192.70,442.53 L193.05,442.03 L193.40,441.59 L193.75,441.28 L194.10,441.14 L194.45,441.20 L194.80,441.44 L195.15,441.82 L195.50,442.29 L195.85,442.76 L196.20,443.17 L196.55,443.46 L196.90,443.59 L197.25,443.56 L197.60,443.36 L197.95,443.05 L198.30,442.68 L198.65,442.31 L199.00,442.01 L199.35,441.81 L199.70,441.75 L200.05,441.82 L200.40,442.01 L200.75,442.31 L201.10,442.67 L201.45,443.02 L201.80,443.33 L202.15,443.53 L202.50,443.60 L202.85,443.53 L203.20,443.34 L203.55,443.06 L203.90,442.73 L204.25,442.41 L204.60,442.14 L204.95,441.98 L205.30,441.93 L205.65,442.02 L206.00,442.23 L206.35,442.52 L206.70,442.84 L207.05,443.16 L207.40,443.41 L207.75,443.56 L208.10,443.60 L208.45,443.51 L208.80,443.31 L209.15,443.04 L209.50,442.74 L209.85,442.46 L210.20,442.25 L210.55,442.13 L210.90,442.12 L211.25,442.23 L211.60,442.43 L211.95,442.71 L212.30,443.00 L212.65,443.27 L213.00,443.47 L213.35,443.58 L213.70,443.59 L214.05,443.48 L214.40,443.29 L214.75,443.04 L215.10,442.78 L215.45,442.54 L215.80,442.37 L216.15,442.29 L216.50,442.31 L216.85,442.43 L217.20,442.63 L217.55,442.88 L217.90,443.13 L218.25,443.36 L218.60,443.52 L218.95,443.60 L219.30,443.57 L219.65,443.46 L220.00,443.28 L220.35,443.05 L220.70,442.83 L221.05,442.63 L221.40,442.50 L221.75,442.46 L222.10,442.50 L222.45,442.63 L222.80,442.81 L223.15,443.03 L223.50,443.25 L223.85,443.44 L224.20,443.56 L224.55,443.60 L224.90,443.56 L225.25,443.45 L225.60,443.28 L225.95,443.09 L226.30,442.90 L226.65,442.75 L227.00,442.65 L227.35,442.64 L227.70,442.69 L228.05,442.82 L228.40,442.98 L228.75,443.17 L229.10,443.35 L229.45,443.49 L229.80,443.58 L230.15,443.60 L230.50,443.55 L230.85,443.44 L231.20,443.29 L231.55,443.13 L231.90,442.99 L232.25,442.87 L232.60,442.82 L232.95,442.82 L233.30,442.88 L233.65,442.99 L234.00,443.14 L234.35,443.29 L234.70,443.43 L235.05,443.54 L235.40,443.59 L235.75,443.59 L236.10,443.54 L236.45,443.45 L236.80,443.33 L237.15,443.20 L237.50,443.09 L237.85,443.02 L238.20,442.98 L238.55,443.00 L238.90,443.05 L239.25,443.14 L239.60,443.26 L239.95,443.38 L240.30,443.49 L240.65,443.56 L241.00,443.60 L241.35,443.59 L241.70,443.53 L242.05,443.44 L242.40,443.33 L242.75,443.22 L243.10,443.12 L243.45,443.05 L243.80,443.03 L244.15,443.05 L244.50,443.11 L244.85,443.20 L245.20,443.31 L245.55,443.42 L245.90,443.52 L246.25,443.58 L246.60,443.60 L246.95,443.58 L247.30,443.52 L247.65,443.43 L248.00,443.32 L248.35,443.22 L248.70,443.13 L249.05,443.08 L249.40,443.07 L249.75,443.10 L250.10,443.16 L250.45,443.25 L250.80,443.36 L251.15,443.46 L251.50,443.54 L251.85,443.59 L252.20,443.60 L252.55,443.57 L252.90,443.50 L253.25,443.42 L253.60,443.32 L253.95,443.23 L254.30,443.15 L254.65,443.11 L255.00,443.11 L255.35,443.15 L255.70,443.22 L256.05,443.31 L256.40,443.40 L256.75,443.49 L257.10,443.56 L257.45,443.60 L257.80,443.60 L258.15,443.56 L258.50,443.49 L258.85,443.41 L259.20,443.32 L259.55,443.24 L259.90,443.18 L260.25,443.15 L260.60,443.16 L260.95,443.20 L261.30,443.27 L261.65,443.35 L262.00,443.44 L262.35,443.52 L262.70,443.57 L263.05,443.60 L263.40,443.59 L263.75,443.55 L264.10,443.48 L264.45,443.40 L264.80,443.32 L265.15,443.25 L265.50,443.21 L265.85,443.19 L266.20,443.21 L266.55,443.25 L266.90,443.32 L267.25,443.40 L267.60,443.47 L267.95,443.54 L268.30,443.58 L268.65,443.60 L269.00,443.58 L269.35,443.54 L269.70,443.48 L270.05,443.41 L270.40,443.33 L270.75,443.28 L271.10,443.24 L271.45,443.23 L271.80,443.25 L272.15,443.30 L272.50,443.36 L272.85,443.44 L273.20,443.50 L273.55,443.56 L273.90,443.59 L274.25,443.60 L274.60,443.58 L274.95,443.53 L275.30,443.48 L275.65,443.41 L276.00,443.35 L276.35,443.30 L276.70,443.28 L277.05,443.28 L277.40,443.30 L277.75,443.35 L278.10,443.41 L278.45,443.47 L278.80,443.53 L279.15,443.57 L279.50,443.60 L279.85,443.60 L280.20,443.57 L280.55,443.53 L280.90,443.48 L281.25,443.42 L281.60,443.37 L281.95,443.33 L282.30,443.31 L282.65,443.32 L283.00,443.35 L283.35,443.39 L283.70,443.45 L284.05,443.50 L284.40,443.55 L284.75,443.58 L285.10,443.60 L285.45,443.59 L285.80,443.57 L286.15,443.53 L286.50,443.48 L286.85,443.43 L287.20,443.39 L287.55,443.36 L287.90,443.35 L288.25,443.36 L288.60,443.39 L288.95,443.43 L289.30,443.48 L289.65,443.53 L290.00,443.57 L290.35,443.59 L290.70,443.60 L291.05,443.59 L291.40,443.57 L291.75,443.53 L292.10,443.49 L292.45,443.45 L292.80,443.42 L293.15,443.40 L293.50,443.40 L293.85,443.41 L294.20,443.44 L294.55,443.47 L294.90,443.51 L295.25,443.55 L295.60,443.58 L295.95,443.60 L296.30,443.60 L296.65,443.59 L297.00,443.57 L297.35,443.54 L297.70,443.50 L298.05,443.47 L298.40,443.45 L298.75,443.44 L299.10,443.44 L299.45,443.45 L299.80,443.48 L300.15,443.51 L300.50,443.54 L300.85,443.57 L301.20,443.59 L301.55,443.60 L301.90,443.60 L302.25,443.59 L302.60,443.57 L302.95,443.54 L303.30,443.52 L303.65,443.50 L304.00,443.48 L304.35,443.48" fill="none" stroke="#33ccff" stroke-width="2.1" stroke-linejoin="round" stroke-linecap="round" />
<path d="M25.40,439.57 L25.75,438.16 L26.10,436.86 L26.45,435.89 L26.80,435.40 L27.15,435.46 L27.50,436.07 L27.85,437.15 L28.20,438.51 L28.55,439.95 L28.90,441.23 L29.25,442.15 L29.60,442.55 L29.95,442.35 L30.30,441.58 L30.65,440.34 L31.00,438.83 L31.35,437.26 L31.70,435.89 L32.05,434.93 L32.40,434.54 L32.75,434.74 L33.10,435.54 L33.45,436.82 L33.80,438.39 L34.15,439.99 L34.50,441.36 L34.85,442.27 L35.20,442.55 L35.55,442.15 L35.90,441.11 L36.25,439.56 L36.60,437.74 L36.95,435.93 L37.30,434.40 L37.65,433.40 L38.00,433.09 L38.35,433.52 L38.70,434.64 L39.05,436.27 L39.40,438.15 L39.75,439.99 L40.10,441.48 L40.45,442.37 L40.80,442.51 L41.15,441.84 L41.50,440.46 L41.85,438.55 L42.20,436.41 L42.55,434.37 L42.90,432.73 L43.25,431.77 L43.60,431.64 L43.95,432.36 L44.30,433.83 L44.65,435.83 L45.00,438.03 L45.35,440.08 L45.70,441.65 L46.05,442.47 L46.40,442.40 L46.75,441.41 L47.10,439.64 L47.45,437.36 L47.80,434.90 L48.15,432.65 L48.50,430.96 L48.85,430.10 L49.20,430.17 L49.55,431.19 L49.90,433.03 L50.25,435.40 L50.60,437.93 L50.95,440.20 L51.30,441.83 L51.65,442.54 L52.00,442.17 L52.35,440.75 L52.70,438.46 L53.05,435.64 L53.40,432.71 L53.75,430.12 L54.10,428.29 L54.45,427.49 L54.80,427.88 L55.15,429.40 L55.50,431.83 L55.85,434.77 L56.20,437.77 L56.55,440.33 L56.90,442.02 L57.25,442.55 L57.60,441.79 L57.95,439.81 L58.30,436.91 L58.65,433.50 L59.00,430.11 L59.35,427.26 L59.70,425.40 L60.05,424.84 L60.40,425.66 L60.75,427.77 L61.10,430.83 L61.45,434.35 L61.80,437.79 L62.15,440.57 L62.50,442.23 L62.85,442.48 L63.20,441.23 L63.55,438.64 L63.90,435.09 L64.25,431.11 L64.60,427.30 L64.95,424.28 L65.30,422.51 L65.65,422.26 L66.00,423.56 L66.35,426.29 L66.70,430.02 L67.05,434.17 L67.40,438.06 L67.75,441.04 L68.10,442.61 L68.45,442.45 L68.80,440.53 L69.15,437.10 L69.50,432.65 L69.85,427.85 L70.20,423.43 L70.55,420.09 L70.90,418.37 L71.25,418.55 L71.60,420.63 L71.95,424.29 L72.30,428.98 L72.65,433.95 L73.00,438.39 L73.35,441.56 L73.70,442.92 L74.05,442.20 L74.40,439.44 L74.75,435.04 L75.10,429.63 L75.45,424.04 L75.80,419.13 L76.15,415.68 L76.50,414.25 L76.85,415.01 L77.20,417.94 L77.55,422.59 L77.90,428.24 L78.25,433.99 L78.60,438.90 L78.95,442.14 L79.30,443.13 L79.65,441.65 L80.00,437.85 L80.35,432.26 L80.70,425.71 L81.05,419.20 L81.40,413.73 L81.75,410.18 L82.10,409.10 L82.45,410.64 L82.80,414.66 L83.15,420.55 L83.50,427.38 L83.85,434.06 L84.20,439.48 L84.55,442.71 L84.90,443.15 L85.25,440.65 L85.60,435.48 L85.95,428.40 L86.30,420.44 L86.65,412.82 L87.00,406.74 L87.35,403.16 L87.70,402.37 L88.05,404.54 L88.40,409.71 L88.75,417.11 L89.10,425.54 L89.45,433.61 L89.80,439.90 L90.15,443.22 L90.50,442.81 L90.85,438.50 L91.20,430.73 L91.55,420.54 L91.90,409.38 L92.25,398.95 L92.60,390.87 L92.95,386.44 L93.30,387.22 L93.65,392.63 L94.00,401.62 L94.35,412.92 L94.70,424.96 L95.05,435.98 L95.40,444.07 L95.75,447.54 L96.10,445.67 L96.45,438.87 L96.80,428.07 L97.15,414.25 L97.50,398.22 L97.85,380.74 L98.20,362.64 L98.55,344.87 L98.90,328.42 L99.25,314.20 L99.60,303.04 L99.95,295.55 L100.30,292.18 L100.65,293.10 L101.00,298.28 L101.35,307.40 L101.70,319.96 L102.05,335.25 L102.40,352.38 L102.75,370.41 L103.10,388.36 L103.45,405.31 L103.80,420.49 L104.15,433.12 L104.50,442.34 L104.85,447.11 L105.20,447.03 L105.55,443.53 L105.90,437.71 L106.25,430.83 L106.60,424.00 L106.95,418.11 L107.30,413.89 L107.65,411.88 L108.00,411.98 L108.35,414.41 L108.70,418.98 L109.05,425.00 L109.40,431.49 L109.75,437.39 L110.10,441.67 L110.45,443.56 L110.80,442.61 L111.15,438.86 L111.50,432.76 L111.85,425.17 L112.20,417.23 L112.55,410.14 L112.90,405.02 L113.25,402.70 L113.60,404.74 L113.95,409.68 L114.30,416.66 L114.65,424.57 L115.00,432.20 L115.35,438.43 L115.70,442.38 L116.05,443.59 L116.40,442.01 L116.75,438.05 L117.10,432.47 L117.45,426.24 L117.80,420.42 L118.15,415.95 L118.50,413.52 L118.85,413.37 L119.20,415.21 L119.55,419.12 L119.90,424.46 L120.25,430.41 L120.60,436.04 L120.95,440.48 L121.30,443.09 L121.65,443.48 L122.00,441.64 L122.35,437.90 L122.70,432.90 L123.05,427.43 L123.40,422.38 L123.75,418.55 L124.10,416.53 L124.45,416.62 L124.80,418.81 L125.15,422.72 L125.50,427.75 L125.85,433.10 L126.20,437.95 L126.55,441.57 L126.90,443.42 L127.25,443.26 L127.60,441.15 L127.95,437.47 L128.30,432.83 L128.65,427.99 L129.00,423.71 L129.35,420.69 L129.70,419.37 L130.05,420.03 L130.40,422.49 L130.75,426.34 L131.10,430.95 L131.45,435.62 L131.80,439.64 L132.15,442.42 L132.50,443.58 L132.85,443.00 L133.20,440.85 L133.55,437.52 L133.90,433.59 L134.25,429.70 L134.60,426.48 L134.95,424.44 L135.30,423.88 L135.65,424.74 L136.00,427.00 L136.35,430.30 L136.70,434.12 L137.05,437.88 L137.40,440.99 L137.75,442.99 L138.10,443.59 L138.45,442.75 L138.80,440.61 L139.15,437.55 L139.50,434.07 L139.85,430.73 L140.20,428.06 L140.55,426.48 L140.90,426.25 L141.25,427.44 L141.60,429.79 L141.95,432.90 L142.30,436.30 L142.65,439.46 L143.00,441.92 L143.35,443.33 L143.70,443.53 L144.05,442.54 L144.40,440.57 L144.75,437.97 L145.10,435.19 L145.45,432.69 L145.80,430.86 L146.15,429.98 L146.50,430.14 L146.85,431.28 L147.20,433.28 L147.55,435.80 L147.90,438.46 L148.25,440.86 L148.60,442.62 L148.95,443.52 L149.30,443.43 L149.65,442.40 L150.00,440.63 L150.35,438.43 L150.70,436.15 L151.05,434.16 L151.40,432.78 L151.75,432.23 L152.10,432.56 L152.45,433.74 L152.80,435.55 L153.15,437.71 L153.50,439.90 L153.85,441.77 L154.20,443.06 L154.55,443.59 L154.90,443.32 L155.25,442.31 L155.60,440.76 L155.95,438.94 L156.30,437.14 L156.65,435.67 L157.00,434.74 L157.35,434.50 L157.70,434.93 L158.05,436.00 L158.40,437.54 L158.75,439.30 L159.10,441.02 L159.45,442.43 L159.80,443.33 L160.15,443.60 L160.50,443.21 L160.85,442.26 L161.20,440.90 L161.55,439.37 L161.90,437.92 L162.25,436.78 L162.60,436.13 L162.95,436.05 L163.30,436.55 L163.65,437.56 L164.00,438.91 L164.35,440.39 L164.70,441.77 L165.05,442.86 L165.40,443.48 L165.75,443.57 L166.10,443.11 L166.45,442.21 L166.80,441.02 L167.15,439.74 L167.50,438.56 L167.85,437.70 L168.20,437.26 L168.55,437.32 L168.90,437.86 L169.25,438.79 L169.60,439.97 L169.95,441.22 L170.30,442.33 L170.65,443.15 L171.00,443.56 L171.35,443.52 L171.70,443.03 L172.05,442.21 L172.40,441.17 L172.75,440.11 L173.10,439.19 L173.45,438.55 L173.80,438.29 L174.15,438.45 L174.50,439.00 L174.85,439.85 L175.20,440.86 L175.55,441.88 L175.90,442.75 L176.25,443.35 L176.60,443.60 L176.95,443.46 L177.30,442.99 L177.65,442.27 L178.00,441.41 L178.35,440.58 L178.70,439.89 L179.05,439.46 L179.40,439.35 L179.75,439.55 L180.10,440.05 L180.45,440.77 L180.80,441.59 L181.15,442.39 L181.50,443.06 L181.85,443.48 L182.20,443.60 L182.55,443.41 L182.90,442.96 L183.25,442.31 L183.60,441.58 L183.95,440.88 L184.30,440.33 L184.65,440.02 L185.00,439.98 L185.35,440.22 L185.70,440.71 L186.05,441.36 L186.40,442.07 L186.75,442.73 L187.10,443.25 L187.45,443.55 L187.80,443.58 L188.15,443.36 L188.50,442.93 L188.85,442.36 L189.20,441.75 L189.55,441.19 L189.90,440.78 L190.25,440.58 L190.60,440.62 L190.95,440.88 L191.30,441.33 L191.65,441.89 L192.00,442.48 L192.35,443.01 L192.70,443.39 L193.05,443.58 L193.40,443.56 L193.75,443.33 L194.10,442.95 L194.45,442.47 L194.80,441.98 L195.15,441.56 L195.50,441.28 L195.85,441.17 L196.20,441.25 L196.55,441.51 L196.90,441.91 L197.25,442.37 L197.60,442.83 L197.95,443.22 L198.30,443.49 L198.65,443.60 L199.00,443.54 L199.35,443.33 L199.70,443.01 L200.05,442.64 L200.40,442.28 L200.75,441.99 L201.10,441.82 L201.45,441.78 L201.80,441.86 L202.15,442.07 L202.50,442.38 L202.85,442.73 L203.20,443.08 L203.55,443.36 L203.90,443.55 L204.25,443.60 L204.60,443.52 L204.95,443.31 L205.30,443.02 L205.65,442.69 L206.00,442.38 L206.35,442.13 L206.70,441.98 L207.05,441.96 L207.40,442.07 L207.75,442.28 L208.10,442.58 L208.45,442.90 L208.80,443.20 L209.15,443.44 L209.50,443.58 L209.85,443.59 L210.20,443.49 L210.55,443.28 L210.90,443.01 L211.25,442.71 L211.60,442.44 L211.95,442.24 L212.30,442.14 L212.65,442.15 L213.00,442.27 L213.35,442.49 L213.70,442.76 L214.05,443.05 L214.40,443.31 L214.75,443.50 L215.10,443.59 L215.45,443.58 L215.80,443.46 L216.15,443.26 L216.50,443.01 L216.85,442.75 L217.20,442.52 L217.55,442.37 L217.90,442.30 L218.25,442.34 L218.60,442.47 L218.95,442.68 L219.30,442.92 L219.65,443.18 L220.00,443.39 L220.35,443.54 L220.70,443.60 L221.05,443.56 L221.40,443.44 L221.75,443.25 L222.10,443.03 L222.45,442.81 L222.80,442.62 L223.15,442.51 L223.50,442.47 L223.85,442.53 L224.20,442.66 L224.55,442.85 L224.90,443.07 L225.25,443.29 L225.60,443.46 L225.95,443.57 L226.30,443.60 L226.65,443.55 L227.00,443.43 L227.35,443.26 L227.70,443.06 L228.05,442.88 L228.40,442.74 L228.75,442.66 L229.10,442.65 L229.45,442.72 L229.80,442.85 L230.15,443.02 L230.50,443.20 L230.85,443.38 L231.20,443.51 L231.55,443.59 L231.90,443.59 L232.25,443.54 L232.60,443.42 L232.95,443.28 L233.30,443.12 L233.65,442.98 L234.00,442.87 L234.35,442.82 L234.70,442.83 L235.05,442.90 L235.40,443.02 L235.75,443.17 L236.10,443.32 L236.45,443.45 L236.80,443.55 L237.15,443.60 L237.50,443.59 L237.85,443.53 L238.20,443.43 L238.55,443.31 L238.90,443.19 L239.25,443.09 L239.60,443.02 L239.95,442.99 L240.30,443.01 L240.65,443.07 L241.00,443.16 L241.35,443.28 L241.70,443.40 L242.05,443.50 L242.40,443.57 L242.75,443.60 L243.10,443.58 L243.45,443.52 L243.80,443.43 L244.15,443.32 L244.50,443.21 L244.85,443.11 L245.20,443.05 L245.55,443.03 L245.90,443.06 L246.25,443.13 L246.60,443.22 L246.95,443.33 L247.30,443.44 L247.65,443.53 L248.00,443.58 L248.35,443.60 L248.70,443.57 L249.05,443.51 L249.40,443.42 L249.75,443.31 L250.10,443.21 L250.45,443.13 L250.80,443.08 L251.15,443.08 L251.50,443.11 L251.85,443.18 L252.20,443.27 L252.55,443.38 L252.90,443.47 L253.25,443.55 L253.60,443.59 L253.95,443.60 L254.30,443.56 L254.65,443.49 L255.00,443.41 L255.35,443.31 L255.70,443.22 L256.05,443.15 L256.40,443.12 L256.75,443.12 L257.10,443.16 L257.45,443.23 L257.80,443.32 L258.15,443.42 L258.50,443.50 L258.85,443.57 L259.20,443.60 L259.55,443.59 L259.90,443.55 L260.25,443.48 L260.60,443.40 L260.95,443.31 L261.30,443.23 L261.65,443.18 L262.00,443.16 L262.35,443.17 L262.70,443.21 L263.05,443.28 L263.40,443.37 L263.75,443.45 L264.10,443.53 L264.45,443.58 L264.80,443.60 L265.15,443.59 L265.50,443.54 L265.85,443.48 L266.20,443.40 L266.55,443.32 L266.90,443.25 L267.25,443.21 L267.60,443.20 L267.95,443.21 L268.30,443.26 L268.65,443.33 L269.00,443.41 L269.35,443.49 L269.70,443.55 L270.05,443.59 L270.40,443.60 L270.75,443.58 L271.10,443.53 L271.45,443.47 L271.80,443.40 L272.15,443.33 L272.50,443.27 L272.85,443.24 L273.20,443.24 L273.55,443.26 L273.90,443.31 L274.25,443.38 L274.60,443.45 L274.95,443.51 L275.30,443.57 L275.65,443.60 L276.00,443.60 L276.35,443.57 L276.70,443.53 L277.05,443.47 L277.40,443.40 L277.75,443.34 L278.10,443.30 L278.45,443.28 L278.80,443.28 L279.15,443.31 L279.50,443.36 L279.85,443.42 L280.20,443.48 L280.55,443.54 L280.90,443.58 L281.25,443.60 L281.60,443.59 L281.95,443.57 L282.30,443.52 L282.65,443.47 L283.00,443.41 L283.35,443.36 L283.70,443.33 L284.05,443.32 L284.40,443.33 L284.75,443.36 L285.10,443.40 L285.45,443.45 L285.80,443.51 L286.15,443.56 L286.50,443.59 L286.85,443.60 L287.20,443.59 L287.55,443.56 L287.90,443.52 L288.25,443.48 L288.60,443.43 L288.95,443.39 L289.30,443.36 L289.65,443.36 L290.00,443.37 L290.35,443.40 L290.70,443.44 L291.05,443.49 L291.40,443.53 L291.75,443.57 L292.10,443.59 L292.45,443.60 L292.80,443.59 L293.15,443.56 L293.50,443.53 L293.85,443.48 L294.20,443.45 L294.55,443.42 L294.90,443.40 L295.25,443.40 L295.60,443.41 L295.95,443.44 L296.30,443.48 L296.65,443.52 L297.00,443.55 L297.35,443.58 L297.70,443.60 L298.05,443.60 L298.40,443.59 L298.75,443.56 L299.10,443.53 L299.45,443.50 L299.80,443.47 L300.15,443.45 L300.50,443.44 L300.85,443.44 L301.20,443.46 L301.55,443.48 L301.90,443.51 L302.25,443.54 L302.60,443.57 L302.95,443.59 L303.30,443.60 L303.65,443.60 L304.00,443.59 L304.35,443.57" fill="none" stroke="#4cb2ff" stroke-width="2.1" stroke-linejoin="round" stroke-linecap="round" />
<path d="M25.40,435.97 L25.75,436.44 L26.10,437.32 L26.45,438.47 L26.80,439.71 L27.15,440.83 L27.50,441.66 L27.85,442.06 L28.20,441.95 L28.55,441.33 L28.90,440.30 L29.25,439.00 L29.60,437.64 L29.95,436.42 L30.30,435.53 L30.65,435.12 L31.00,435.26 L31.35,435.92 L31.70,437.01 L32.05,438.36 L32.40,439.74 L32.75,440.95 L33.10,441.77 L33.45,442.08 L33.80,441.81 L34.15,440.98 L34.50,439.73 L34.85,438.23 L35.20,436.72 L35.55,435.43 L35.90,434.56 L36.25,434.25 L36.60,434.53 L36.95,435.39 L37.30,436.69 L37.65,438.24 L38.00,439.78 L38.35,441.07 L38.70,441.88 L39.05,442.06 L39.40,441.58 L39.75,440.47 L40.10,438.90 L40.45,437.10 L40.80,435.34 L41.15,433.90 L41.50,433.00 L41.85,432.80 L42.20,433.32 L42.55,434.50 L42.90,436.15 L43.25,438.01 L43.60,439.79 L43.95,441.19 L44.30,441.97 L44.65,441.99 L45.00,441.22 L45.35,439.77 L45.70,437.84 L46.05,435.71 L46.40,433.73 L46.75,432.19 L47.10,431.34 L47.45,431.33 L47.80,432.16 L48.15,433.70 L48.50,435.72 L48.85,437.90 L49.20,439.89 L49.55,441.35 L49.90,442.05 L50.25,441.84 L50.60,440.73 L50.95,438.89 L51.30,436.57 L51.65,434.13 L52.00,431.95 L52.35,430.36 L52.70,429.63 L53.05,429.83 L53.40,430.97 L53.75,432.89 L54.10,435.31 L54.45,437.81 L54.80,440.01 L55.15,441.52 L55.50,442.08 L55.85,441.56 L56.20,439.99 L56.55,437.60 L56.90,434.74 L57.25,431.82 L57.60,429.31 L57.95,427.59 L58.30,426.95 L58.65,427.51 L59.00,429.18 L59.35,431.71 L59.70,434.70 L60.05,437.68 L60.40,440.15 L60.75,441.70 L61.10,442.05 L61.45,441.09 L61.80,438.95 L62.15,435.92 L62.50,432.45 L62.85,429.07 L63.20,426.31 L63.55,424.59 L63.90,424.21 L64.25,425.24 L64.60,427.52 L64.95,430.71 L65.30,434.30 L65.65,437.71 L66.00,440.39 L66.35,441.89 L66.70,441.93 L67.05,440.45 L67.40,437.66 L67.75,433.96 L68.10,429.90 L68.45,426.12 L68.80,423.20 L69.15,421.61 L69.50,421.58 L69.85,423.13 L70.20,426.09 L70.55,429.99 L70.90,434.22 L71.25,438.09 L71.60,440.95 L71.95,442.31 L72.30,441.89 L72.65,439.71 L73.00,436.04 L73.35,431.43 L73.70,426.56 L74.05,422.18 L74.40,419.00 L74.75,417.51 L75.10,417.98 L75.45,420.36 L75.80,424.29 L76.15,429.15 L76.50,434.18 L76.85,438.56 L77.20,441.56 L77.55,442.66 L77.90,441.62 L78.25,438.55 L78.60,433.88 L78.95,428.30 L79.30,422.67 L79.65,417.85 L80.00,414.61 L80.35,413.48 L80.70,414.58 L81.05,417.85 L81.40,422.78 L81.75,428.61 L82.10,434.40 L82.45,439.20 L82.80,442.20 L83.15,442.86 L83.50,441.01 L83.85,436.85 L84.20,430.97 L84.55,424.25 L84.90,417.72 L85.25,412.40 L85.60,409.13 L85.95,408.41 L86.30,410.37 L86.65,414.78 L87.00,420.98 L87.35,427.98 L87.70,434.66 L88.05,439.91 L88.40,442.82 L88.75,442.85 L89.10,439.89 L89.45,434.31 L89.80,426.91 L90.15,418.79 L90.50,411.20 L90.85,405.33 L91.20,402.12 L91.55,401.71 L91.90,404.38 L92.25,410.03 L92.60,417.79 L92.95,426.41 L93.30,434.45 L93.65,440.49 L94.00,443.36 L94.35,442.38 L94.70,437.46 L95.05,429.13 L95.40,418.53 L95.75,407.19 L96.10,396.83 L96.45,389.07 L96.80,385.18 L97.15,386.78 L97.50,392.87 L97.85,402.43 L98.20,414.13 L98.55,426.33 L98.90,437.21 L99.25,444.84 L99.60,447.60 L99.95,444.95 L100.30,437.41 L100.65,425.94 L101.00,411.53 L101.35,394.97 L101.70,377.05 L102.05,358.63 L102.40,340.68 L102.75,324.21 L103.10,310.15 L103.45,299.29 L103.80,292.26 L104.15,289.44 L104.50,291.01 L104.85,296.87 L105.20,306.69 L105.55,319.91 L105.90,335.78 L106.25,353.41 L106.60,371.79 L106.95,389.95 L107.30,406.98 L107.65,422.08 L108.00,434.48 L108.35,443.25 L108.70,447.38 L109.05,446.70 L109.40,442.75 L109.75,436.62 L110.10,429.58 L110.45,422.73 L110.80,416.94 L111.15,412.94 L111.50,411.25 L111.85,411.64 L112.20,414.45 L112.55,419.36 L112.90,425.62 L113.25,432.20 L113.60,438.02 L113.95,442.08 L114.30,443.60 L114.65,442.22 L115.00,438.02 L115.35,431.54 L115.70,423.69 L116.05,415.66 L116.40,408.67 L116.75,403.83 L117.10,402.04 L117.45,404.63 L117.80,410.01 L118.15,417.32 L118.50,425.40 L118.85,433.02 L119.20,439.07 L119.55,442.72 L119.90,443.53 L120.25,441.55 L120.60,437.23 L120.95,431.39 L121.30,425.05 L121.65,419.27 L122.00,414.98 L122.35,412.84 L122.70,412.97 L123.05,415.18 L123.40,419.40 L123.75,424.98 L124.10,431.04 L124.45,436.64 L124.80,440.93 L125.15,443.28 L125.50,443.34 L125.85,441.17 L126.20,437.14 L126.55,431.93 L126.90,426.38 L127.25,421.37 L127.60,417.70 L127.95,415.94 L128.30,416.35 L128.65,418.86 L129.00,423.04 L129.35,428.25 L129.70,433.68 L130.05,438.48 L130.40,441.92 L130.75,443.52 L131.10,443.06 L131.45,440.65 L131.80,436.73 L132.15,431.93 L132.50,427.04 L132.85,422.84 L133.20,419.99 L133.55,418.92 L133.90,419.88 L134.25,422.62 L134.60,426.68 L134.95,431.43 L135.30,436.12 L135.65,440.06 L136.00,442.67 L136.35,443.60 L136.70,442.77 L137.05,440.38 L137.40,436.87 L137.75,432.83 L138.10,428.94 L138.45,425.81 L138.80,423.93 L139.15,423.58 L139.50,424.67 L139.85,427.14 L140.20,430.61 L140.55,434.53 L140.90,438.28 L141.25,441.31 L141.60,443.16 L141.95,443.56 L142.30,442.50 L142.65,440.16 L143.00,436.95 L143.35,433.40 L143.70,430.07 L144.05,427.49 L144.40,426.06 L144.75,426.04 L145.10,427.44 L145.45,429.96 L145.80,433.20 L146.15,436.66 L146.50,439.80 L146.85,442.16 L147.20,443.43 L147.55,443.45 L147.90,442.29 L148.25,440.17 L148.60,437.47 L148.95,434.66 L149.30,432.18 L149.65,430.45 L150.00,429.71 L150.35,430.01 L150.70,431.32 L151.05,433.44 L151.40,436.06 L151.75,438.75 L152.10,441.11 L152.45,442.80 L152.80,443.56 L153.15,443.33 L153.50,442.16 L153.85,440.28 L154.20,438.00 L154.55,435.70 L154.90,433.75 L155.25,432.46 L155.60,432.02 L155.95,432.50 L156.30,433.80 L156.65,435.71 L157.00,437.94 L157.35,440.13 L157.70,441.97 L158.05,443.18 L158.40,443.60 L158.75,443.21 L159.10,442.09 L159.45,440.46 L159.80,438.59 L160.15,436.79 L160.50,435.36 L160.85,434.51 L161.20,434.36 L161.55,434.90 L161.90,436.07 L162.25,437.69 L162.60,439.49 L162.95,441.21 L163.30,442.58 L163.65,443.41 L164.00,443.58 L164.35,443.10 L164.70,442.06 L165.05,440.64 L165.40,439.08 L165.75,437.64 L166.10,436.54 L166.45,435.95 L166.80,435.96 L167.15,436.55 L167.50,437.63 L167.85,439.04 L168.20,440.55 L168.55,441.92 L168.90,442.97 L169.25,443.53 L169.60,443.53 L169.95,443.00 L170.30,442.03 L170.65,440.79 L171.00,439.49 L171.35,438.33 L171.70,437.50 L172.05,437.13 L172.40,437.26 L172.75,437.88 L173.10,438.87 L173.45,440.09 L173.80,441.35 L174.15,442.45 L174.50,443.23 L174.85,443.58 L175.20,443.47 L175.55,442.92 L175.90,442.04 L176.25,440.98 L176.60,439.90 L176.95,439.00 L177.30,438.40 L177.65,438.20 L178.00,438.42 L178.35,439.03 L178.70,439.93 L179.05,440.97 L179.40,441.99 L179.75,442.85 L180.10,443.41 L180.45,443.60 L180.80,443.41 L181.15,442.89 L181.50,442.12 L181.85,441.25 L182.20,440.41 L182.55,439.75 L182.90,439.35 L183.25,439.29 L183.60,439.54 L183.95,440.08 L184.30,440.84 L184.65,441.68 L185.00,442.48 L185.35,443.12 L185.70,443.51 L186.05,443.59 L186.40,443.36 L186.75,442.86 L187.10,442.18 L187.45,441.44 L187.80,440.75 L188.15,440.22 L188.50,439.93 L188.85,439.93 L189.20,440.22 L189.55,440.75 L189.90,441.42 L190.25,442.14 L190.60,442.80 L190.95,443.30 L191.30,443.57 L191.65,443.57 L192.00,443.31 L192.35,442.84 L192.70,442.25 L193.05,441.63 L193.40,441.08 L193.75,440.69 L194.10,440.52 L194.45,440.59 L194.80,440.89 L195.15,441.37 L195.50,441.95 L195.85,442.55 L196.20,443.06 L196.55,443.43 L196.90,443.59 L197.25,443.54 L197.60,443.28 L197.95,442.87 L198.30,442.38 L198.65,441.89 L199.00,441.48 L199.35,441.21 L199.70,441.13 L200.05,441.24 L200.40,441.53 L200.75,441.94 L201.10,442.42 L201.45,442.88 L201.80,443.27 L202.15,443.52 L202.50,443.60 L202.85,443.52 L203.20,443.28 L203.55,442.95 L203.90,442.57 L204.25,442.21 L204.60,441.93 L204.95,441.77 L205.30,441.75 L205.65,441.86 L206.00,442.09 L206.35,442.41 L206.70,442.77 L207.05,443.12 L207.40,443.39 L207.75,443.56 L208.10,443.60 L208.45,443.49 L208.80,443.27 L209.15,442.97 L209.50,442.63 L209.85,442.32 L210.20,442.08 L210.55,441.94 L210.90,441.94 L211.25,442.07 L211.60,442.30 L211.95,442.60 L212.30,442.93 L212.65,443.23 L213.00,443.46 L213.35,443.59 L213.70,443.58 L214.05,443.46 L214.40,443.24 L214.75,442.96 L215.10,442.66 L215.45,442.39 L215.80,442.20 L216.15,442.11 L216.50,442.13 L216.85,442.27 L217.20,442.50 L217.55,442.79 L217.90,443.08 L218.25,443.33 L218.60,443.52 L218.95,443.60 L219.30,443.57 L219.65,443.43 L220.00,443.22 L220.35,442.96 L220.70,442.70 L221.05,442.48 L221.40,442.33 L221.75,442.28 L222.10,442.33 L222.45,442.48 L222.80,442.69 L223.15,442.95 L223.50,443.20 L223.85,443.41 L224.20,443.55 L224.55,443.60 L224.90,443.55 L225.25,443.41 L225.60,443.21 L225.95,442.99 L226.30,442.76 L226.65,442.59 L227.00,442.48 L227.35,442.46 L227.70,442.53 L228.05,442.67 L228.40,442.87 L228.75,443.10 L229.10,443.31 L229.45,443.48 L229.80,443.58 L230.15,443.60 L230.50,443.53 L230.85,443.40 L231.20,443.22 L231.55,443.03 L231.90,442.85 L232.25,442.71 L232.60,442.64 L232.95,442.64 L233.30,442.72 L233.65,442.86 L234.00,443.04 L234.35,443.22 L234.70,443.40 L235.05,443.52 L235.40,443.59 L235.75,443.59 L236.10,443.52 L236.45,443.40 L236.80,443.25 L237.15,443.09 L237.50,442.95 L237.85,442.85 L238.20,442.81 L238.55,442.83 L238.90,442.91 L239.25,443.03 L239.60,443.18 L239.95,443.33 L240.30,443.47 L240.65,443.56 L241.00,443.60 L241.35,443.58 L241.70,443.52 L242.05,443.41 L242.40,443.29 L242.75,443.17 L243.10,443.07 L243.45,443.00 L243.80,442.98 L244.15,443.01 L244.50,443.07 L244.85,443.17 L245.20,443.29 L245.55,443.41 L245.90,443.51 L246.25,443.58 L246.60,443.60 L246.95,443.58 L247.30,443.51 L247.65,443.41 L248.00,443.30 L248.35,443.19 L248.70,443.09 L249.05,443.04 L249.40,443.03 L249.75,443.06 L250.10,443.13 L250.45,443.23 L250.80,443.34 L251.15,443.45 L251.50,443.54 L251.85,443.59 L252.20,443.60 L252.55,443.56 L252.90,443.49 L253.25,443.40 L253.60,443.29 L253.95,443.19 L254.30,443.11 L254.65,443.07 L255.00,443.07 L255.35,443.11 L255.70,443.18 L256.05,443.28 L256.40,443.39 L256.75,443.48 L257.10,443.56 L257.45,443.60 L257.80,443.59 L258.15,443.55 L258.50,443.48 L258.85,443.39 L259.20,443.29 L259.55,443.20 L259.90,443.14 L260.25,443.11 L260.60,443.12 L260.95,443.16 L261.30,443.24 L261.65,443.33 L262.00,443.43 L262.35,443.51 L262.70,443.57 L263.05,443.60 L263.40,443.59 L263.75,443.54 L264.10,443.47 L264.45,443.38 L264.80,443.29 L265.15,443.22 L265.50,443.17 L265.85,443.15 L266.20,443.16 L266.55,443.21 L266.90,443.29 L267.25,443.38 L267.60,443.46 L267.95,443.54 L268.30,443.58 L268.65,443.60 L269.00,443.58 L269.35,443.53 L269.70,443.46 L270.05,443.38 L270.40,443.30 L270.75,443.24 L271.10,443.20 L271.45,443.19 L271.80,443.21 L272.15,443.27 L272.50,443.34 L272.85,443.42 L273.20,443.49 L273.55,443.56 L273.90,443.59 L274.25,443.60 L274.60,443.57 L274.95,443.52 L275.30,443.46 L275.65,443.38 L276.00,443.31 L276.35,443.26 L276.70,443.23 L277.05,443.23 L277.40,443.26 L277.75,443.31 L278.10,443.38 L278.45,443.46 L278.80,443.52 L279.15,443.57 L279.50,443.60 L279.85,443.60 L280.20,443.57 L280.55,443.52 L280.90,443.46 L281.25,443.39 L281.60,443.33 L281.95,443.29 L282.30,443.27 L282.65,443.28 L283.00,443.31 L283.35,443.36 L283.70,443.42 L284.05,443.49 L284.40,443.54 L284.75,443.58 L285.10,443.60 L285.45,443.59 L285.80,443.56 L286.15,443.52 L286.50,443.46 L286.85,443.40 L287.20,443.35 L287.55,443.32 L287.90,443.31 L288.25,443.32 L288.60,443.36 L288.95,443.40 L289.30,443.46 L289.65,443.52 L290.00,443.56 L290.35,443.59 L290.70,443.60 L291.05,443.59 L291.40,443.56 L291.75,443.52 L292.10,443.47 L292.45,443.42 L292.80,443.38 L293.15,443.36 L293.50,443.35 L293.85,443.37 L294.20,443.40 L294.55,443.45 L294.90,443.49 L295.25,443.54 L295.60,443.57 L295.95,443.60 L296.30,443.60 L296.65,443.59 L297.00,443.56 L297.35,443.52 L297.70,443.48 L298.05,443.44 L298.40,443.41 L298.75,443.40 L299.10,443.40 L299.45,443.41 L299.80,443.44 L300.15,443.48 L300.50,443.52 L300.85,443.56 L301.20,443.58 L301.55,443.60 L301.90,443.60 L302.25,443.58 L302.60,443.56 L302.95,443.53 L303.30,443.49 L303.65,443.46 L304.00,443.44 L304.35,443.44" fill="none" stroke="#6699ff" stroke-width="2.1" stroke-linejoin="round" stroke-linecap="round" />
<path d="M25.40,441.49 L25.75,441.55 L26.10,441.22 L26.45,440.54 L26.80,439.62 L27.15,438.59 L27.50,437.61 L27.85,436.83 L28.20,436.37 L28.55,436.31 L28.90,436.67 L29.25,437.38 L29.60,438.35 L29.95,439.41 L30.30,440.40 L30.65,441.15 L31.00,441.53 L31.35,441.49 L31.70,441.00 L32.05,440.14 L32.40,439.03 L32.75,437.84 L33.10,436.75 L33.45,435.93 L33.80,435.52 L34.15,435.58 L34.50,436.11 L34.85,437.02 L35.20,438.18 L35.55,439.39 L35.90,440.47 L36.25,441.24 L36.60,441.56 L36.95,441.38 L37.30,440.70 L37.65,439.63 L38.00,438.32 L38.35,436.98 L38.70,435.80 L39.05,434.98 L39.40,434.65 L39.75,434.86 L40.10,435.58 L40.45,436.71 L40.80,438.06 L41.15,439.43 L41.50,440.59 L41.85,441.34 L42.20,441.57 L42.55,441.21 L42.90,440.32 L43.25,439.02 L43.60,437.50 L43.95,436.01 L44.30,434.77 L44.65,433.97 L45.00,433.74 L45.35,434.10 L45.70,435.03 L46.05,436.38 L46.40,437.95 L46.75,439.47 L47.10,440.70 L47.45,441.43 L47.80,441.52 L48.15,440.94 L48.50,439.75 L48.85,438.12 L49.20,436.30 L49.55,434.56 L49.90,433.17 L50.25,432.36 L50.60,432.25 L50.95,432.87 L51.30,434.14 L51.65,435.85 L52.00,437.73 L52.35,439.49 L52.70,440.82 L53.05,441.51 L53.40,441.42 L53.75,440.53 L54.10,438.97 L54.45,436.97 L54.80,434.82 L55.15,432.85 L55.50,431.37 L55.85,430.63 L56.20,430.73 L56.55,431.68 L56.90,433.33 L57.25,435.43 L57.60,437.63 L57.95,439.59 L58.30,440.98 L58.65,441.56 L59.00,441.21 L59.35,439.97 L59.70,438.00 L60.05,435.59 L60.40,433.11 L60.75,430.95 L61.10,429.44 L61.45,428.83 L61.80,429.16 L62.15,430.45 L62.50,432.50 L62.85,435.01 L63.20,437.55 L63.55,439.72 L63.90,441.14 L64.25,441.56 L64.60,440.86 L64.95,439.12 L65.30,436.57 L65.65,433.59 L66.00,430.62 L66.35,428.13 L66.70,426.50 L67.05,426.02 L67.40,426.75 L67.75,428.61 L68.10,431.30 L68.45,434.41 L68.80,437.44 L69.15,439.87 L69.50,441.31 L69.85,441.47 L70.20,440.30 L70.55,437.93 L70.90,434.70 L71.25,431.09 L71.60,427.65 L71.95,424.91 L72.30,423.32 L72.65,423.12 L73.00,424.38 L73.35,426.90 L73.70,430.29 L74.05,434.02 L74.40,437.49 L74.75,440.12 L75.10,441.47 L75.45,441.29 L75.80,439.55 L76.15,436.49 L76.50,432.54 L76.85,428.32 L77.20,424.47 L77.55,421.59 L77.90,420.16 L78.25,420.36 L78.60,422.22 L78.95,425.48 L79.30,429.65 L79.65,434.05 L80.00,437.98 L80.35,440.78 L80.70,441.95 L81.05,441.25 L81.40,438.73 L81.75,434.73 L82.10,429.84 L82.45,424.79 L82.80,420.37 L83.15,417.27 L83.50,416.01 L83.85,416.81 L84.20,419.55 L84.55,423.83 L84.90,428.99 L85.25,434.20 L85.60,438.61 L85.95,441.48 L86.30,442.32 L86.65,440.93 L87.00,437.46 L87.35,432.41 L87.70,426.53 L88.05,420.73 L88.40,415.90 L88.75,412.81 L89.10,411.96 L89.45,413.46 L89.80,417.16 L90.15,422.50 L90.50,428.64 L90.85,434.59 L91.20,439.38 L91.55,442.20 L91.90,442.52 L92.25,440.22 L92.60,435.59 L92.95,429.28 L93.30,422.24 L93.65,415.55 L94.00,410.26 L94.35,407.21 L94.70,406.86 L95.05,409.30 L95.40,414.23 L95.75,420.88 L96.10,428.22 L96.45,435.04 L96.80,440.23 L97.15,442.87 L97.50,442.45 L97.85,438.95 L98.20,432.80 L98.55,424.90 L98.90,416.44 L99.25,408.71 L99.60,402.94 L99.95,400.04 L100.30,400.02 L100.65,403.30 L101.00,409.57 L101.35,417.89 L101.70,426.90 L102.05,435.08 L102.40,440.97 L102.75,443.43 L103.10,441.82 L103.45,436.13 L103.80,427.02 L104.15,415.75 L104.50,403.96 L104.85,393.45 L105.20,385.87 L105.55,382.48 L105.90,384.96 L106.25,391.85 L106.60,402.07 L106.95,414.01 L107.30,425.80 L107.65,435.59 L108.00,441.83 L108.35,443.56 L108.70,440.77 L109.05,433.80 L109.40,423.05 L109.75,409.12 L110.10,392.82 L110.45,375.06 L110.80,356.85 L111.15,339.24 L111.50,323.22 L111.85,309.70 L112.20,299.46 L112.55,293.07 L112.90,290.90 L113.25,293.07 L113.60,299.46 L113.95,309.70 L114.30,323.22 L114.65,339.24 L115.00,356.85 L115.35,375.06 L115.70,392.82 L116.05,409.12 L116.40,423.05 L116.75,433.80 L117.10,440.77 L117.45,443.56 L117.80,442.67 L118.15,439.40 L118.50,434.26 L118.85,428.08 L119.20,421.81 L119.55,416.45 L119.90,412.83 L120.25,411.53 L120.60,412.20 L120.95,415.31 L121.30,420.42 L121.65,426.73 L122.00,433.21 L122.35,438.78 L122.70,442.47 L123.05,443.58 L123.40,441.80 L123.75,437.28 L124.10,430.60 L124.45,422.73 L124.80,414.85 L125.15,408.17 L125.50,403.76 L125.85,402.62 L126.20,405.62 L126.55,411.28 L126.90,418.70 L127.25,426.71 L127.60,434.10 L127.95,439.79 L128.30,443.02 L128.65,443.41 L129.00,441.08 L129.35,436.53 L129.70,430.62 L130.05,424.36 L130.40,418.79 L130.75,414.82 L131.10,413.03 L131.45,413.44 L131.80,415.94 L132.15,420.36 L132.50,426.01 L132.85,432.01 L133.20,437.42 L133.55,441.42 L133.90,443.43 L134.25,443.17 L134.60,440.72 L134.95,436.52 L135.30,431.26 L135.65,425.78 L136.00,420.97 L136.35,417.58 L136.70,416.14 L137.05,416.85 L137.40,419.60 L137.75,423.94 L138.10,429.18 L138.45,434.51 L138.80,439.11 L139.15,442.29 L139.50,443.58 L139.85,442.83 L140.20,440.21 L140.55,436.15 L140.90,431.34 L141.25,426.55 L141.60,422.55 L141.95,419.95 L142.30,419.17 L142.65,420.39 L143.00,423.33 L143.35,427.49 L143.70,432.23 L144.05,436.82 L144.40,440.56 L144.75,442.92 L145.10,443.59 L145.45,442.53 L145.80,439.97 L146.15,436.38 L146.50,432.36 L146.85,428.58 L147.20,425.63 L147.55,423.98 L147.90,423.83 L148.25,425.12 L148.60,427.74 L148.95,431.28 L149.30,435.17 L149.65,438.82 L150.00,441.67 L150.35,443.31 L150.70,443.50 L151.05,442.25 L151.40,439.78 L151.75,436.52 L152.10,433.00 L152.45,429.78 L152.80,427.37 L153.15,426.14 L153.50,426.33 L153.85,427.90 L154.20,430.52 L154.55,433.79 L154.90,437.20 L155.25,440.22 L155.60,442.43 L155.95,443.51 L156.30,443.36 L156.65,442.05 L157.00,439.84 L157.35,437.13 L157.70,434.36 L158.05,432.00 L158.40,430.41 L158.75,429.83 L159.10,430.27 L159.45,431.69 L159.80,433.89 L160.15,436.52 L160.50,439.16 L160.85,441.42 L161.20,442.97 L161.55,443.59 L161.90,443.22 L162.25,441.95 L162.60,440.01 L162.95,437.72 L163.30,435.47 L163.65,433.62 L164.00,432.45 L164.35,432.15 L164.70,432.74 L165.05,434.13 L165.40,436.09 L165.75,438.31 L166.10,440.45 L166.45,442.20 L166.80,443.29 L167.15,443.59 L167.50,443.09 L167.85,441.90 L168.20,440.23 L168.55,438.37 L168.90,436.63 L169.25,435.28 L169.60,434.53 L169.95,434.49 L170.30,435.12 L170.65,436.35 L171.00,437.99 L171.35,439.78 L171.70,441.45 L172.05,442.74 L172.40,443.47 L172.75,443.55 L173.10,442.99 L173.45,441.89 L173.80,440.45 L174.15,438.91 L174.50,437.51 L174.85,436.49 L175.20,435.99 L175.55,436.08 L175.90,436.74 L176.25,437.87 L176.60,439.29 L176.95,440.78 L177.30,442.11 L177.65,443.09 L178.00,443.56 L178.35,443.49 L178.70,442.89 L179.05,441.88 L179.40,440.63 L179.75,439.35 L180.10,438.24 L180.45,437.48 L180.80,437.18 L181.15,437.38 L181.50,438.05 L181.85,439.08 L182.20,440.31 L182.55,441.54 L182.90,442.59 L183.25,443.31 L183.60,443.60 L183.95,443.42 L184.30,442.82 L184.65,441.91 L185.00,440.85 L185.35,439.80 L185.70,438.94 L186.05,438.39 L186.40,438.26 L186.75,438.54 L187.10,439.19 L187.45,440.11 L187.80,441.14 L188.15,442.14 L188.50,442.95 L188.85,443.46 L189.20,443.60 L189.55,443.36 L189.90,442.80 L190.25,442.02 L190.60,441.15 L190.95,440.34 L191.30,439.71 L191.65,439.37 L192.00,439.35 L192.35,439.64 L192.70,440.21 L193.05,440.98 L193.40,441.82 L193.75,442.60 L194.10,443.20 L194.45,443.54 L194.80,443.58 L195.15,443.30 L195.50,442.78 L195.85,442.09 L196.20,441.36 L196.55,440.69 L196.90,440.19 L197.25,439.95 L197.60,439.99 L197.95,440.32 L198.30,440.86 L198.65,441.54 L199.00,442.26 L199.35,442.89 L199.70,443.36 L200.05,443.58 L200.40,443.54 L200.75,443.26 L201.10,442.77 L201.45,442.18 L201.80,441.57 L202.15,441.04 L202.50,440.68 L202.85,440.54 L203.20,440.65 L203.55,440.97 L203.90,441.47 L204.25,442.05 L204.60,442.64 L204.95,443.13 L205.30,443.47 L205.65,443.60 L206.00,443.51 L206.35,443.23 L206.70,442.81 L207.05,442.32 L207.40,441.84 L207.75,441.45 L208.10,441.21 L208.45,441.16 L208.80,441.30 L209.15,441.60 L209.50,442.02 L209.85,442.50 L210.20,442.95 L210.55,443.31 L210.90,443.54 L211.25,443.60 L211.60,443.49 L211.95,443.24 L212.30,442.90 L212.65,442.53 L213.00,442.18 L213.35,441.92 L213.70,441.78 L214.05,441.78 L214.40,441.90 L214.75,442.14 L215.10,442.47 L215.45,442.83 L215.80,443.17 L216.15,443.43 L216.50,443.58 L216.85,443.59 L217.20,443.47 L217.55,443.23 L217.90,442.93 L218.25,442.59 L218.60,442.29 L218.95,442.07 L219.30,441.95 L219.65,441.97 L220.00,442.11 L220.35,442.35 L220.70,442.66 L221.05,442.99 L221.40,443.28 L221.75,443.49 L222.10,443.59 L222.45,443.57 L222.80,443.44 L223.15,443.21 L223.50,442.92 L223.85,442.63 L224.20,442.37 L224.55,442.19 L224.90,442.12 L225.25,442.16 L225.60,442.31 L225.95,442.55 L226.30,442.84 L226.65,443.12 L227.00,443.37 L227.35,443.53 L227.70,443.60 L228.05,443.55 L228.40,443.41 L228.75,443.19 L229.10,442.93 L229.45,442.68 L229.80,442.46 L230.15,442.33 L230.50,442.29 L230.85,442.36 L231.20,442.51 L231.55,442.74 L231.90,442.99 L232.25,443.24 L232.60,443.44 L232.95,443.57 L233.30,443.60 L233.65,443.54 L234.00,443.39 L234.35,443.19 L234.70,442.96 L235.05,442.74 L235.40,442.58 L235.75,442.48 L236.10,442.47 L236.45,442.55 L236.80,442.71 L237.15,442.91 L237.50,443.13 L237.85,443.34 L238.20,443.50 L238.55,443.59 L238.90,443.59 L239.25,443.52 L239.60,443.38 L239.95,443.20 L240.30,443.01 L240.65,442.83 L241.00,442.70 L241.35,442.64 L241.70,442.66 L242.05,442.74 L242.40,442.89 L242.75,443.07 L243.10,443.25 L243.45,443.42 L243.80,443.54 L244.15,443.60 L244.50,443.58 L244.85,443.51 L245.20,443.38 L245.55,443.23 L245.90,443.07 L246.25,442.94 L246.60,442.85 L246.95,442.81 L247.30,442.84 L247.65,442.93 L248.00,443.06 L248.35,443.21 L248.70,443.36 L249.05,443.48 L249.40,443.57 L249.75,443.60 L250.10,443.58 L250.45,443.51 L250.80,443.40 L251.15,443.27 L251.50,443.16 L251.85,443.06 L252.20,443.00 L252.55,442.99 L252.90,443.02 L253.25,443.09 L253.60,443.19 L253.95,443.31 L254.30,443.43 L254.65,443.52 L255.00,443.58 L255.35,443.60 L255.70,443.57 L256.05,443.50 L256.40,443.40 L256.75,443.28 L257.10,443.17 L257.45,443.09 L257.80,443.04 L258.15,443.03 L258.50,443.07 L258.85,443.15 L259.20,443.25 L259.55,443.36 L259.90,443.47 L260.25,443.55 L260.60,443.59 L260.95,443.60 L261.30,443.56 L261.65,443.48 L262.00,443.38 L262.35,443.28 L262.70,443.18 L263.05,443.11 L263.40,443.07 L263.75,443.08 L264.10,443.12 L264.45,443.20 L264.80,443.30 L265.15,443.40 L265.50,443.50 L265.85,443.57 L266.20,443.60 L266.55,443.59 L266.90,443.55 L267.25,443.47 L267.60,443.38 L267.95,443.28 L268.30,443.19 L268.65,443.14 L269.00,443.11 L269.35,443.13 L269.70,443.18 L270.05,443.25 L270.40,443.35 L270.75,443.44 L271.10,443.52 L271.45,443.58 L271.80,443.60 L272.15,443.58 L272.50,443.53 L272.85,443.46 L273.20,443.37 L273.55,443.28 L273.90,443.21 L274.25,443.17 L274.60,443.15 L274.95,443.17 L275.30,443.23 L275.65,443.30 L276.00,443.39 L276.35,443.48 L276.70,443.55 L277.05,443.59 L277.40,443.60 L277.75,443.58 L278.10,443.52 L278.45,443.45 L278.80,443.37 L279.15,443.29 L279.50,443.23 L279.85,443.20 L280.20,443.20 L280.55,443.22 L280.90,443.28 L281.25,443.35 L281.60,443.43 L281.95,443.51 L282.30,443.56 L282.65,443.60 L283.00,443.60 L283.35,443.57 L283.70,443.52 L284.05,443.45 L284.40,443.38 L284.75,443.31 L285.10,443.26 L285.45,443.24 L285.80,443.24 L286.15,443.27 L286.50,443.33 L286.85,443.39 L287.20,443.47 L287.55,443.53 L287.90,443.58 L288.25,443.60 L288.60,443.59 L288.95,443.56 L289.30,443.51 L289.65,443.45 L290.00,443.38 L290.35,443.33 L290.70,443.29 L291.05,443.27 L291.40,443.28 L291.75,443.32 L292.10,443.37 L292.45,443.43 L292.80,443.50 L293.15,443.55 L293.50,443.59 L293.85,443.60 L294.20,443.59 L294.55,443.56 L294.90,443.51 L295.25,443.45 L295.60,443.40 L295.95,443.35 L296.30,443.32 L296.65,443.32 L297.00,443.33 L297.35,443.37 L297.70,443.41 L298.05,443.47 L298.40,443.52 L298.75,443.57 L299.10,443.59 L299.45,443.60 L299.80,443.59 L300.15,443.55 L300.50,443.51 L300.85,443.46 L301.20,443.41 L301.55,443.38 L301.90,443.36 L302.25,443.36 L302.60,443.38 L302.95,443.41 L303.30,443.45 L303.65,443.50 L304.00,443.55 L304.35,443.58" fill="none" stroke="#8080ff" stroke-width="2.1" stroke-linejoin="round" stroke-linecap="round" />
<path d="M25.40,439.71 L25.75,440.26 L26.10,440.70 L26.45,440.97 L26.80,441.01 L27.15,440.82 L27.50,440.41 L27.85,439.85 L28.20,439.21 L28.55,438.60 L28.90,438.10 L29.25,437.81 L29.60,437.76 L29.95,437.96 L30.30,438.40 L30.65,438.99 L31.00,439.65 L31.35,440.27 L31.70,440.75 L32.05,441.00 L32.40,440.98 L32.75,440.69 L33.10,440.16 L33.45,439.47 L33.80,438.72 L34.15,438.03 L34.50,437.51 L34.85,437.24 L35.20,437.26 L35.55,437.57 L35.90,438.14 L36.25,438.86 L36.60,439.62 L36.95,440.31 L37.30,440.80 L37.65,441.02 L38.00,440.92 L38.35,440.50 L38.70,439.83 L39.05,439.01 L39.40,438.15 L39.75,437.40 L40.10,436.87 L40.45,436.64 L40.80,436.74 L41.15,437.18 L41.50,437.88 L41.85,438.74 L42.20,439.62 L42.55,440.37 L42.90,440.86 L43.25,441.03 L43.60,440.81 L43.95,440.24 L44.30,439.40 L44.65,438.42 L45.00,437.43 L45.35,436.59 L45.70,436.05 L46.05,435.87 L46.40,436.10 L46.75,436.71 L47.10,437.59 L47.45,438.62 L47.80,439.62 L48.15,440.43 L48.50,440.93 L48.85,441.00 L49.20,440.65 L49.55,439.89 L49.90,438.86 L50.25,437.70 L50.60,436.58 L50.95,435.69 L51.30,435.16 L51.65,435.08 L52.00,435.47 L52.35,436.26 L52.70,437.35 L53.05,438.55 L53.40,439.67 L53.75,440.53 L54.10,440.98 L54.45,440.94 L54.80,440.41 L55.15,439.45 L55.50,438.20 L55.85,436.86 L56.20,435.63 L56.55,434.70 L56.90,434.22 L57.25,434.27 L57.60,434.85 L57.95,435.86 L58.30,437.16 L58.65,438.53 L59.00,439.76 L59.35,440.64 L59.70,441.02 L60.05,440.83 L60.40,440.08 L60.75,438.89 L61.10,437.42 L61.45,435.90 L61.80,434.57 L62.15,433.63 L62.50,433.24 L62.85,433.42 L63.20,434.19 L63.55,435.44 L63.90,436.96 L64.25,438.52 L64.60,439.85 L64.95,440.74 L65.30,441.02 L65.65,440.63 L66.00,439.60 L66.35,438.07 L66.70,436.28 L67.05,434.48 L67.40,432.95 L67.75,431.95 L68.10,431.63 L68.45,432.05 L68.80,433.15 L69.15,434.76 L69.50,436.63 L69.85,438.46 L70.20,439.95 L70.55,440.85 L70.90,440.98 L71.25,440.31 L71.60,438.92 L71.95,436.99 L72.30,434.83 L72.65,432.76 L73.00,431.09 L73.35,430.10 L73.70,429.95 L74.05,430.67 L74.40,432.16 L74.75,434.18 L75.10,436.41 L75.45,438.50 L75.80,440.10 L76.15,440.94 L76.50,440.86 L76.85,439.85 L77.20,438.03 L77.55,435.68 L77.90,433.14 L78.25,430.81 L78.60,429.05 L78.95,428.14 L79.30,428.19 L79.65,429.24 L80.00,431.13 L80.35,433.59 L80.70,436.21 L81.05,438.57 L81.40,440.27 L81.75,441.01 L82.10,440.62 L82.45,439.13 L82.80,436.73 L83.15,433.76 L83.50,430.66 L83.85,427.92 L84.20,425.97 L84.55,425.11 L84.90,425.50 L85.25,427.09 L85.60,429.64 L85.95,432.76 L86.30,435.93 L86.65,438.66 L87.00,440.46 L87.35,441.02 L87.70,440.20 L88.05,438.09 L88.40,434.97 L88.75,431.31 L89.10,427.65 L89.45,424.56 L89.80,422.53 L90.15,421.90 L90.50,422.76 L90.85,425.02 L91.20,428.31 L91.55,432.13 L91.90,435.85 L92.25,438.87 L92.60,440.68 L92.95,440.97 L93.30,439.62 L93.65,436.80 L94.00,432.92 L94.35,428.55 L94.70,424.38 L95.05,421.04 L95.40,419.09 L95.75,418.81 L96.10,420.26 L96.45,423.29 L96.80,427.42 L97.15,432.00 L97.50,436.30 L97.85,439.61 L98.20,441.35 L98.55,441.20 L98.90,439.10 L99.25,435.34 L99.60,430.45 L99.95,425.17 L100.30,420.32 L100.65,416.65 L101.00,414.77 L101.35,414.98 L101.70,417.29 L102.05,421.35 L102.40,426.54 L102.75,432.03 L103.10,436.93 L103.45,440.45 L103.80,441.97 L104.15,441.19 L104.50,438.17 L104.85,433.33 L105.20,427.38 L105.55,421.23 L105.90,415.84 L106.25,412.06 L106.60,410.49 L106.95,411.35 L107.30,414.59 L107.65,419.73 L108.00,425.98 L108.35,432.34 L108.70,437.76 L109.05,441.35 L109.40,442.46 L109.75,440.85 L110.10,436.67 L110.45,430.53 L110.80,423.33 L111.15,416.16 L111.50,410.16 L111.85,406.26 L112.20,405.09 L112.55,406.80 L112.90,411.25 L113.25,417.76 L113.60,425.30 L113.95,432.68 L114.30,438.67 L114.65,442.24 L115.00,442.75 L115.35,440.00 L115.70,434.33 L116.05,426.54 L116.40,417.78 L116.75,409.40 L117.10,402.71 L117.45,398.78 L117.80,397.93 L118.15,400.34 L118.50,406.05 L118.85,414.22 L119.20,423.54 L119.55,432.45 L119.90,439.40 L120.25,443.07 L120.60,442.64 L120.95,437.90 L121.30,429.36 L121.65,418.14 L122.00,405.86 L122.35,394.38 L122.70,385.47 L123.05,380.60 L123.40,381.44 L123.75,387.37 L124.10,397.15 L124.45,409.24 L124.80,421.74 L125.15,432.68 L125.50,440.36 L125.85,443.55 L126.20,442.02 L126.55,436.28 L126.90,426.67 L127.25,413.72 L127.60,398.18 L127.95,380.93 L128.30,362.95 L128.65,345.26 L129.00,328.87 L129.35,314.71 L129.70,303.59 L130.05,296.14 L130.40,292.78 L130.75,293.70 L131.10,298.85 L131.45,307.94 L131.80,320.45 L132.15,335.67 L132.50,352.74 L132.85,370.68 L133.20,388.47 L133.55,405.10 L133.90,419.63 L134.25,431.23 L134.60,439.24 L134.95,443.20 L135.30,443.19 L135.65,440.58 L136.00,435.96 L136.35,430.05 L136.70,423.77 L137.05,418.12 L137.40,413.98 L137.75,412.01 L138.10,412.11 L138.45,414.52 L138.80,419.08 L139.15,425.07 L139.50,431.54 L139.85,437.41 L140.20,441.68 L140.55,443.56 L140.90,442.62 L141.25,438.88 L141.60,432.80 L141.95,425.24 L142.30,417.33 L142.65,410.27 L143.00,405.17 L143.35,402.86 L143.70,404.89 L144.05,409.82 L144.40,416.77 L144.75,424.64 L145.10,432.24 L145.45,438.45 L145.80,442.39 L146.15,443.59 L146.50,442.02 L146.85,438.08 L147.20,432.51 L147.55,426.31 L147.90,420.52 L148.25,416.06 L148.60,413.64 L148.95,413.49 L149.30,415.32 L149.65,419.21 L150.00,424.54 L150.35,430.46 L150.70,436.07 L151.05,440.50 L151.40,443.09 L151.75,443.48 L152.10,441.65 L152.45,437.93 L152.80,432.94 L153.15,427.50 L153.50,422.47 L153.85,418.65 L154.20,416.64 L154.55,416.73 L154.90,418.91 L155.25,422.81 L155.60,427.81 L155.95,433.14 L156.30,437.98 L156.65,441.58 L157.00,443.42 L157.35,443.26 L157.70,441.16 L158.05,437.49 L158.40,432.87 L158.75,428.05 L159.10,423.79 L159.45,420.78 L159.80,419.47 L160.15,420.12 L160.50,422.58 L160.85,426.41 L161.20,431.00 L161.55,435.65 L161.90,439.65 L162.25,442.42 L162.60,443.58 L162.95,443.00 L163.30,440.86 L163.65,437.55 L164.00,433.63 L164.35,429.75 L164.70,426.55 L165.05,424.52 L165.40,423.96 L165.75,424.82 L166.10,427.07 L166.45,430.35 L166.80,434.16 L167.15,437.90 L167.50,441.00 L167.85,442.99 L168.20,443.59 L168.55,442.75 L168.90,440.62 L169.25,437.57 L169.60,434.11 L169.95,430.78 L170.30,428.12 L170.65,426.55 L171.00,426.32 L171.35,427.51 L171.70,429.84 L172.05,432.94 L172.40,436.32 L172.75,439.47 L173.10,441.92 L173.45,443.33 L173.80,443.53 L174.15,442.54 L174.50,440.58 L174.85,437.99 L175.20,435.22 L175.55,432.73 L175.90,430.91 L176.25,430.04 L176.60,430.19 L176.95,431.33 L177.30,433.32 L177.65,435.83 L178.00,438.48 L178.35,440.87 L178.70,442.63 L179.05,443.52 L179.40,443.43 L179.75,442.41 L180.10,440.64 L180.45,438.45 L180.80,436.18 L181.15,434.20 L181.50,432.83 L181.85,432.27 L182.20,432.61 L182.55,433.77 L182.90,435.58 L183.25,437.74 L183.60,439.91 L183.95,441.78 L184.30,443.06 L184.65,443.59 L185.00,443.32 L185.35,442.31 L185.70,440.77 L186.05,438.96 L186.40,437.17 L186.75,435.70 L187.10,434.77 L187.45,434.54 L187.80,434.97 L188.15,436.03 L188.50,437.56 L188.85,439.32 L189.20,441.03 L189.55,442.44 L189.90,443.33 L190.25,443.60 L190.60,443.21 L190.95,442.26 L191.30,440.91 L191.65,439.39 L192.00,437.95 L192.35,436.81 L192.70,436.16 L193.05,436.08 L193.40,436.58 L193.75,437.58 L194.10,438.92 L194.45,440.40 L194.80,441.78 L195.15,442.86 L195.50,443.48 L195.85,443.57 L196.20,443.12 L196.55,442.22 L196.90,441.03 L197.25,439.75 L197.60,438.58 L197.95,437.72 L198.30,437.29 L198.65,437.35 L199.00,437.88 L199.35,438.81 L199.70,439.99 L200.05,441.23 L200.40,442.34 L200.75,443.15 L201.10,443.56 L201.45,443.52 L201.80,443.04 L202.15,442.21 L202.50,441.18 L202.85,440.12 L203.20,439.20 L203.55,438.57 L203.90,438.31 L204.25,438.47 L204.60,439.02 L204.95,439.87 L205.30,440.87 L205.65,441.89 L206.00,442.76 L206.35,443.35 L206.70,443.60 L207.05,443.46 L207.40,442.99 L207.75,442.27 L208.10,441.42 L208.45,440.59 L208.80,439.91 L209.15,439.48 L209.50,439.37 L209.85,439.57 L210.20,440.06 L210.55,440.78 L210.90,441.60 L211.25,442.40 L211.60,443.06 L211.95,443.48 L212.30,443.60 L212.65,443.41 L213.00,442.96 L213.35,442.31 L213.70,441.59 L214.05,440.89 L214.40,440.35 L214.75,440.03 L215.10,439.99 L215.45,440.24 L215.80,440.72 L216.15,441.37 L216.50,442.07 L216.85,442.74 L217.20,443.25 L217.55,443.55 L217.90,443.58 L218.25,443.36 L218.60,442.93 L218.95,442.37 L219.30,441.76 L219.65,441.20 L220.00,440.79 L220.35,440.59 L220.70,440.63 L221.05,440.89 L221.40,441.34 L221.75,441.90 L222.10,442.49 L222.45,443.01 L222.80,443.39 L223.15,443.58 L223.50,443.56 L223.85,443.33 L224.20,442.95 L224.55,442.48 L224.90,441.99 L225.25,441.57 L225.60,441.29 L225.95,441.18 L226.30,441.26 L226.65,441.52 L227.00,441.91 L227.35,442.37 L227.70,442.83 L228.05,443.23 L228.40,443.49 L228.75,443.60 L229.10,443.54 L229.45,443.33 L229.80,443.01 L230.15,442.64 L230.50,442.29 L230.85,442.00 L231.20,441.82 L231.55,441.79 L231.90,441.87 L232.25,442.08 L232.60,442.38 L232.95,442.74 L233.30,443.08 L233.65,443.37 L234.00,443.55 L234.35,443.60 L234.70,443.52 L235.05,443.31 L235.40,443.03 L235.75,442.70 L236.10,442.39 L236.45,442.14 L236.80,441.99 L237.15,441.97 L237.50,442.07 L237.85,442.29 L238.20,442.58 L238.55,442.90 L238.90,443.20 L239.25,443.44 L239.60,443.58 L239.95,443.59 L240.30,443.49 L240.65,443.28 L241.00,443.01 L241.35,442.72 L241.70,442.45 L242.05,442.25 L242.40,442.14 L242.75,442.15 L243.10,442.28 L243.45,442.49 L243.80,442.76 L244.15,443.05 L244.50,443.31 L244.85,443.50 L245.20,443.59 L245.55,443.58 L245.90,443.46 L246.25,443.26 L246.60,443.01 L246.95,442.75 L247.30,442.53 L247.65,442.37 L248.00,442.31 L248.35,442.34 L248.70,442.47 L249.05,442.68 L249.40,442.93 L249.75,443.18 L250.10,443.39 L250.45,443.54 L250.80,443.60 L251.15,443.56 L251.50,443.44 L251.85,443.25 L252.20,443.03 L252.55,442.81 L252.90,442.63 L253.25,442.51 L253.60,442.48 L253.95,442.53 L254.30,442.67 L254.65,442.86 L255.00,443.08 L255.35,443.29 L255.70,443.46 L256.05,443.57 L256.40,443.60 L256.75,443.55 L257.10,443.43 L257.45,443.26 L257.80,443.07 L258.15,442.89 L258.50,442.74 L258.85,442.66 L259.20,442.66 L259.55,442.72 L259.90,442.85 L260.25,443.02 L260.60,443.21 L260.95,443.38 L261.30,443.51 L261.65,443.59 L262.00,443.60 L262.35,443.54 L262.70,443.42 L263.05,443.28 L263.40,443.12 L263.75,442.98 L264.10,442.88 L264.45,442.83 L264.80,442.84 L265.15,442.91 L265.50,443.02 L265.85,443.17 L266.20,443.32 L266.55,443.45 L266.90,443.55 L267.25,443.60 L267.60,443.59 L267.95,443.53 L268.30,443.43 L268.65,443.31 L269.00,443.19 L269.35,443.09 L269.70,443.02 L270.05,442.99 L270.40,443.01 L270.75,443.07 L271.10,443.17 L271.45,443.28 L271.80,443.40 L272.15,443.50 L272.50,443.57 L272.85,443.60 L273.20,443.58 L273.55,443.52 L273.90,443.43 L274.25,443.32 L274.60,443.21 L274.95,443.12 L275.30,443.06 L275.65,443.04 L276.00,443.06 L276.35,443.13 L276.70,443.22 L277.05,443.33 L277.40,443.44 L277.75,443.53 L278.10,443.58 L278.45,443.60 L278.80,443.57 L279.15,443.51 L279.50,443.42 L279.85,443.31 L280.20,443.21 L280.55,443.13 L280.90,443.09 L281.25,443.08 L281.60,443.11 L281.95,443.18 L282.30,443.27 L282.65,443.38 L283.00,443.47 L283.35,443.55 L283.70,443.59 L284.05,443.60 L284.40,443.56 L284.75,443.49 L285.10,443.41 L285.45,443.31 L285.80,443.22 L286.15,443.15 L286.50,443.12 L286.85,443.12 L287.20,443.16 L287.55,443.23 L287.90,443.32 L288.25,443.42 L288.60,443.50 L288.95,443.57 L289.30,443.60 L289.65,443.59 L290.00,443.55 L290.35,443.48 L290.70,443.40 L291.05,443.31 L291.40,443.23 L291.75,443.18 L292.10,443.16 L292.45,443.17 L292.80,443.21 L293.15,443.28 L293.50,443.37 L293.85,443.46 L294.20,443.53 L294.55,443.58 L294.90,443.60 L295.25,443.59 L295.60,443.54 L295.95,443.48 L296.30,443.40 L296.65,443.32 L297.00,443.25 L297.35,443.21 L297.70,443.20 L298.05,443.22 L298.40,443.26 L298.75,443.33 L299.10,443.41 L299.45,443.49 L299.80,443.55 L300.15,443.59 L300.50,443.60 L300.85,443.58 L301.20,443.53 L301.55,443.47 L301.90,443.40 L302.25,443.33 L302.60,443.27 L302.95,443.24 L303.30,443.24 L303.65,443.26 L304.00,443.31 L304.35,443.38" fill="none" stroke="#9966ff" stroke-width="2.1" stroke-linejoin="round" stroke-linecap="round" />
<path d="M25.40,439.31 L25.75,439.61 L26.10,439.93 L26.45,440.20 L26.80,440.39 L27.15,440.46 L27.50,440.39 L27.85,440.20 L28.20,439.90 L28.55,439.55 L28.90,439.19 L29.25,438.88 L29.60,438.67 L29.95,438.60 L30.30,438.67 L30.65,438.87 L31.00,439.18 L31.35,439.55 L31.70,439.92 L32.05,440.22 L32.40,440.41 L32.75,440.45 L33.10,440.33 L33.45,440.07 L33.80,439.70 L34.15,439.28 L34.50,438.87 L34.85,438.54 L35.20,438.33 L35.55,438.28 L35.90,438.40 L36.25,438.67 L36.60,439.06 L36.95,439.50 L37.30,439.92 L37.65,440.25 L38.00,440.43 L38.35,440.43 L38.70,440.25 L39.05,439.90 L39.40,439.43 L39.75,438.92 L40.10,438.44 L40.45,438.06 L40.80,437.85 L41.15,437.85 L41.50,438.05 L41.85,438.42 L42.20,438.91 L42.55,439.44 L42.90,439.92 L43.25,440.28 L43.60,440.45 L43.95,440.39 L44.30,440.12 L44.65,439.66 L45.00,439.08 L45.35,438.47 L45.70,437.93 L46.05,437.53 L46.40,437.34 L46.75,437.40 L47.10,437.69 L47.45,438.18 L47.80,438.78 L48.15,439.41 L48.50,439.95 L48.85,440.32 L49.20,440.46 L49.55,440.32 L49.90,439.94 L50.25,439.36 L50.60,438.66 L50.95,437.95 L51.30,437.35 L51.65,436.94 L52.00,436.80 L52.35,436.94 L52.70,437.35 L53.05,437.97 L53.40,438.69 L53.75,439.41 L54.10,440.00 L54.45,440.37 L54.80,440.45 L55.15,440.22 L55.50,439.70 L55.85,438.98 L56.20,438.16 L56.55,437.36 L56.90,436.71 L57.25,436.31 L57.60,436.23 L57.95,436.47 L58.30,437.01 L58.65,437.76 L59.00,438.62 L59.35,439.42 L59.70,440.06 L60.05,440.41 L60.40,440.41 L60.75,440.05 L61.10,439.38 L61.45,438.48 L61.80,437.50 L62.15,436.59 L62.50,435.88 L62.85,435.50 L63.20,435.50 L63.55,435.88 L63.90,436.60 L64.25,437.53 L64.60,438.54 L64.95,439.46 L65.30,440.13 L65.65,440.44 L66.00,440.33 L66.35,439.81 L66.70,438.94 L67.05,437.86 L67.40,436.72 L67.75,435.70 L68.10,434.96 L68.45,434.63 L68.80,434.74 L69.15,435.30 L69.50,436.22 L69.85,437.35 L70.20,438.52 L70.55,439.52 L70.90,440.21 L71.25,440.46 L71.60,440.21 L71.95,439.49 L72.30,438.40 L72.65,437.11 L73.00,435.81 L73.35,434.70 L73.70,433.96 L74.05,433.71 L74.40,433.98 L74.75,434.75 L75.10,435.89 L75.45,437.22 L75.80,438.54 L76.15,439.63 L76.50,440.30 L76.85,440.44 L77.20,440.01 L77.55,439.06 L77.90,437.74 L78.25,436.23 L78.60,434.78 L78.95,433.60 L79.30,432.88 L79.65,432.73 L80.00,433.17 L80.35,434.15 L80.70,435.53 L81.05,437.09 L81.40,438.57 L81.75,439.73 L82.10,440.37 L82.45,440.37 L82.80,439.69 L83.15,438.43 L83.50,436.76 L83.85,434.93 L84.20,433.22 L84.55,431.89 L84.90,431.17 L85.25,431.16 L85.60,431.88 L85.95,433.22 L86.30,434.97 L86.65,436.86 L87.00,438.59 L87.35,439.85 L87.70,440.43 L88.05,440.22 L88.40,439.22 L88.75,437.56 L89.10,435.49 L89.45,433.31 L89.80,431.36 L90.15,429.95 L90.50,429.30 L90.85,429.52 L91.20,430.59 L91.55,432.35 L91.90,434.51 L92.25,436.75 L92.60,438.68 L92.95,439.99 L93.30,440.46 L93.65,439.96 L94.00,438.57 L94.35,436.46 L94.70,433.95 L95.05,431.42 L95.40,429.26 L95.75,427.82 L96.10,427.31 L96.45,427.78 L96.80,429.23 L97.15,431.44 L97.50,434.05 L97.85,436.65 L98.20,438.81 L98.55,440.14 L98.90,440.41 L99.25,439.53 L99.60,437.58 L99.95,434.83 L100.30,431.69 L100.65,428.63 L101.00,426.13 L101.35,424.57 L101.70,424.23 L102.05,425.16 L102.40,427.24 L102.75,430.15 L103.10,433.42 L103.45,436.53 L103.80,438.96 L104.15,440.29 L104.50,440.26 L104.85,438.84 L105.20,436.18 L105.55,432.68 L105.90,428.84 L106.25,425.26 L106.60,422.50 L106.95,420.99 L107.30,421.00 L107.65,422.52 L108.00,425.34 L108.35,429.03 L108.70,432.99 L109.05,436.58 L109.40,439.21 L109.75,440.44 L110.10,440.01 L110.45,437.94 L110.80,434.50 L111.15,430.20 L111.50,425.69 L111.85,421.67 L112.20,418.77 L112.55,417.48 L112.90,417.95 L113.25,420.20 L113.60,423.90 L113.95,428.47 L114.30,433.19 L114.65,437.28 L115.00,440.08 L115.35,441.07 L115.70,440.04 L116.05,437.08 L116.40,432.62 L116.75,427.29 L117.10,421.93 L117.45,417.35 L117.80,414.29 L118.15,413.26 L118.50,414.43 L118.85,417.66 L119.20,422.46 L119.55,428.08 L119.90,433.62 L120.25,438.17 L120.60,440.99 L120.95,441.56 L121.30,439.74 L121.65,435.74 L122.00,430.14 L122.35,423.79 L122.70,417.65 L123.05,412.70 L123.40,409.72 L123.75,409.17 L124.10,411.15 L124.45,415.43 L124.80,421.37 L125.15,428.01 L125.50,434.31 L125.85,439.21 L126.20,441.89 L126.55,441.84 L126.90,439.00 L127.25,433.72 L127.60,426.77 L127.95,419.20 L128.30,412.17 L128.65,406.79 L129.00,403.93 L129.35,403.99 L129.70,407.04 L130.05,412.66 L130.40,420.01 L130.75,427.90 L131.10,435.07 L131.45,440.31 L131.80,442.71 L132.15,441.79 L132.50,437.59 L132.85,430.66 L133.20,422.01 L133.55,412.95 L133.90,404.89 L134.25,399.08 L134.60,396.48 L134.95,396.91 L135.30,400.94 L135.65,408.08 L136.00,417.23 L136.35,426.90 L136.70,435.44 L137.05,441.32 L137.40,443.38 L137.75,441.01 L138.10,434.33 L138.45,424.13 L138.80,411.83 L139.15,399.25 L139.50,388.32 L139.85,380.74 L140.20,377.99 L140.55,381.37 L140.90,389.37 L141.25,400.74 L141.60,413.67 L141.95,426.15 L142.30,436.21 L142.65,442.28 L143.00,443.43 L143.35,440.11 L143.70,432.75 L144.05,421.78 L144.40,407.81 L144.75,391.64 L145.10,374.18 L145.45,356.44 L145.80,339.42 L146.15,324.08 L146.50,311.31 L146.85,301.82 L147.20,296.16 L147.55,294.64 L147.90,297.36 L148.25,304.16 L148.60,314.65 L148.95,328.24 L149.30,344.15 L149.65,361.48 L150.00,379.24 L150.35,396.43 L150.70,412.06 L151.05,425.25 L151.40,435.25 L151.75,441.48 L152.10,443.60 L152.45,442.37 L152.80,438.88 L153.15,433.67 L153.50,427.56 L153.85,421.52 L154.20,416.48 L154.55,413.25 L154.90,412.26 L155.25,413.26 L155.60,416.61 L155.95,421.81 L156.30,428.05 L156.65,434.31 L157.00,439.54 L157.35,442.82 L157.70,443.51 L158.05,441.37 L158.40,436.61 L158.75,429.87 L159.10,422.11 L159.45,414.52 L159.80,408.26 L160.15,404.33 L160.50,403.85 L160.85,407.18 L161.20,413.02 L161.55,420.41 L161.90,428.21 L162.25,435.24 L162.60,440.49 L162.95,443.26 L163.30,443.25 L163.65,440.62 L164.00,435.94 L164.35,430.05 L164.70,423.98 L165.05,418.73 L165.40,415.13 L165.75,413.72 L166.10,414.39 L166.45,417.12 L166.80,421.66 L167.15,427.28 L167.50,433.10 L167.85,438.22 L168.20,441.88 L168.55,443.53 L168.90,442.96 L169.25,440.30 L169.60,436.00 L169.95,430.78 L170.30,425.48 L170.65,420.95 L171.00,417.89 L171.35,416.77 L171.70,417.77 L172.05,420.70 L172.40,425.11 L172.75,430.28 L173.10,435.43 L173.45,439.76 L173.80,442.62 L174.15,443.60 L174.50,442.59 L174.85,439.80 L175.20,435.69 L175.55,430.95 L175.90,426.34 L176.25,422.60 L176.60,420.30 L176.95,419.82 L177.30,421.27 L177.65,424.34 L178.00,428.53 L178.35,433.17 L178.70,437.57 L179.05,441.05 L179.40,443.13 L179.75,443.54 L180.10,442.28 L180.45,439.61 L180.80,436.01 L181.15,432.08 L181.50,428.47 L181.85,425.75 L182.20,424.35 L182.55,424.40 L182.90,425.86 L183.25,428.58 L183.60,432.11 L183.95,435.91 L184.30,439.39 L184.65,442.03 L185.00,443.43 L185.35,443.41 L185.70,442.00 L186.05,439.46 L186.40,436.21 L186.75,432.78 L187.10,429.72 L187.45,427.51 L187.80,426.50 L188.15,426.89 L188.50,428.59 L188.85,431.27 L189.20,434.51 L189.55,437.81 L189.90,440.67 L190.25,442.68 L190.60,443.57 L190.95,443.25 L191.30,441.83 L191.65,439.58 L192.00,436.89 L192.35,434.22 L192.70,432.00 L193.05,430.58 L193.40,430.17 L193.75,430.74 L194.10,432.25 L194.45,434.48 L194.80,437.06 L195.15,439.61 L195.50,441.74 L195.85,443.13 L196.20,443.60 L196.55,443.10 L196.90,441.75 L197.25,439.79 L197.60,437.54 L197.95,435.38 L198.30,433.65 L198.65,432.63 L199.00,432.46 L199.35,433.16 L199.70,434.61 L200.05,436.57 L200.40,438.75 L200.75,440.80 L201.10,442.43 L201.45,443.39 L201.80,443.57 L202.15,442.98 L202.50,441.73 L202.85,440.06 L203.20,438.24 L203.55,436.58 L203.90,435.34 L204.25,434.70 L204.60,434.75 L204.95,435.46 L205.30,436.74 L205.65,438.38 L206.00,440.12 L206.35,441.71 L206.70,442.90 L207.05,443.53 L207.40,443.51 L207.75,442.88 L208.10,441.74 L208.45,440.31 L208.80,438.81 L209.15,437.49 L209.50,436.56 L209.85,436.15 L210.20,436.32 L210.55,437.04 L210.90,438.20 L211.25,439.61 L211.60,441.05 L211.95,442.31 L212.30,443.20 L212.65,443.59 L213.00,443.44 L213.35,442.79 L213.70,441.76 L214.05,440.52 L214.40,439.28 L214.75,438.24 L215.10,437.56 L215.45,437.34 L215.80,437.60 L216.15,438.31 L216.50,439.35 L216.85,440.56 L217.20,441.75 L217.55,442.74 L217.90,443.39 L218.25,443.60 L218.60,443.36 L218.95,442.73 L219.30,441.81 L219.65,440.76 L220.00,439.76 L220.35,438.95 L220.70,438.48 L221.05,438.40 L221.40,438.73 L221.75,439.41 L222.10,440.33 L222.45,441.35 L222.80,442.30 L223.15,443.06 L223.50,443.50 L223.85,443.58 L224.20,443.30 L224.55,442.72 L224.90,441.94 L225.25,441.09 L225.60,440.32 L225.95,439.74 L226.30,439.45 L226.65,439.47 L227.00,439.80 L227.35,440.39 L227.70,441.16 L228.05,441.97 L228.40,442.72 L228.75,443.27 L229.10,443.57 L229.45,443.56 L229.80,443.25 L230.15,442.71 L230.50,442.03 L230.85,441.31 L231.20,440.68 L231.55,440.23 L231.90,440.03 L232.25,440.11 L232.60,440.46 L232.95,441.02 L233.30,441.69 L233.65,442.39 L234.00,442.99 L234.35,443.41 L234.70,443.59 L235.05,443.52 L235.40,443.21 L235.75,442.71 L236.10,442.12 L236.45,441.53 L236.80,441.04 L237.15,440.72 L237.50,440.62 L237.85,440.75 L238.20,441.10 L238.55,441.60 L238.90,442.17 L239.25,442.74 L239.60,443.20 L239.95,443.50 L240.30,443.60 L240.65,443.49 L241.00,443.19 L241.35,442.76 L241.70,442.28 L242.05,441.82 L242.40,441.46 L242.75,441.25 L243.10,441.23 L243.45,441.39 L243.80,441.70 L244.15,442.13 L244.50,442.59 L244.85,443.02 L245.20,443.36 L245.55,443.56 L245.90,443.59 L246.25,443.47 L246.60,443.21 L246.95,442.87 L247.30,442.50 L247.65,442.17 L248.00,441.93 L248.35,441.81 L248.70,441.83 L249.05,441.97 L249.40,442.22 L249.75,442.55 L250.10,442.90 L250.45,443.22 L250.80,443.46 L251.15,443.59 L251.50,443.58 L251.85,443.44 L252.20,443.20 L252.55,442.90 L252.90,442.57 L253.25,442.29 L253.60,442.08 L253.95,441.99 L254.30,442.02 L254.65,442.17 L255.00,442.42 L255.35,442.73 L255.70,443.04 L256.05,443.32 L256.40,443.51 L256.75,443.60 L257.10,443.56 L257.45,443.41 L257.80,443.18 L258.15,442.89 L258.50,442.61 L258.85,442.37 L259.20,442.21 L259.55,442.15 L259.90,442.21 L260.25,442.37 L260.60,442.61 L260.95,442.89 L261.30,443.17 L261.65,443.40 L262.00,443.55 L262.35,443.60 L262.70,443.54 L263.05,443.39 L263.40,443.16 L263.75,442.91 L264.10,442.66 L264.45,442.47 L264.80,442.35 L265.15,442.33 L265.50,442.40 L265.85,442.57 L266.20,442.79 L266.55,443.04 L266.90,443.28 L267.25,443.47 L267.60,443.58 L267.95,443.60 L268.30,443.52 L268.65,443.37 L269.00,443.17 L269.35,442.94 L269.70,442.74 L270.05,442.58 L270.40,442.50 L270.75,442.51 L271.10,442.60 L271.45,442.75 L271.80,442.96 L272.15,443.17 L272.50,443.37 L272.85,443.52 L273.20,443.59 L273.55,443.59 L273.90,443.51 L274.25,443.36 L274.60,443.18 L274.95,442.99 L275.30,442.83 L275.65,442.71 L276.00,442.66 L276.35,442.69 L276.70,442.78 L277.05,442.93 L277.40,443.11 L277.75,443.29 L278.10,443.44 L278.45,443.55 L278.80,443.60 L279.15,443.58 L279.50,443.50 L279.85,443.37 L280.20,443.22 L280.55,443.06 L280.90,442.94 L281.25,442.86 L281.60,442.83 L281.95,442.87 L282.30,442.96 L282.65,443.09 L283.00,443.24 L283.35,443.38 L283.70,443.50 L284.05,443.58 L284.40,443.60 L284.75,443.57 L285.10,443.49 L285.45,443.39 L285.80,443.27 L286.15,443.15 L286.50,443.06 L286.85,443.01 L287.20,443.01 L287.55,443.04 L287.90,443.12 L288.25,443.22 L288.60,443.34 L288.95,443.45 L289.30,443.54 L289.65,443.59 L290.00,443.60 L290.35,443.56 L290.70,443.49 L291.05,443.39 L291.40,443.27 L291.75,443.17 L292.10,443.09 L292.45,443.05 L292.80,443.05 L293.15,443.09 L293.50,443.17 L293.85,443.27 L294.20,443.38 L294.55,443.48 L294.90,443.56 L295.25,443.60 L295.60,443.59 L295.95,443.55 L296.30,443.47 L296.65,443.37 L297.00,443.27 L297.35,443.18 L297.70,443.11 L298.05,443.08 L298.40,443.10 L298.75,443.14 L299.10,443.22 L299.45,443.32 L299.80,443.42 L300.15,443.51 L300.50,443.57 L300.85,443.60 L301.20,443.59 L301.55,443.54 L301.90,443.46 L302.25,443.37 L302.60,443.27 L302.95,443.19 L303.30,443.14 L303.65,443.12 L304.00,443.14 L304.35,443.20" fill="none" stroke="#b24dff" stroke-width="2.1" stroke-linejoin="round" stroke-linecap="round" />
<path d="M25.40,439.13 L25.75,439.13 L26.10,439.20 L26.45,439.31 L26.80,439.45 L27.15,439.60 L27.50,439.73 L27.85,439.82 L28.20,439.86 L28.55,439.83 L28.90,439.74 L29.25,439.59 L29.60,439.41 L29.95,439.23 L30.30,439.07 L30.65,438.96 L31.00,438.91 L31.35,438.94 L31.70,439.04 L32.05,439.20 L32.40,439.38 L32.75,439.57 L33.10,439.73 L33.45,439.83 L33.80,439.86 L34.15,439.80 L34.50,439.66 L34.85,439.47 L35.20,439.24 L35.55,439.02 L35.90,438.83 L36.25,438.72 L36.60,438.68 L36.95,438.74 L37.30,438.89 L37.65,439.09 L38.00,439.33 L38.35,439.56 L38.70,439.74 L39.05,439.84 L39.40,439.85 L39.75,439.75 L40.10,439.57 L40.45,439.31 L40.80,439.03 L41.15,438.77 L41.50,438.56 L41.85,438.45 L42.20,438.44 L42.55,438.54 L42.90,438.74 L43.25,439.00 L43.60,439.29 L43.95,439.56 L44.30,439.76 L44.65,439.85 L45.00,439.83 L45.35,439.68 L45.70,439.44 L46.05,439.12 L46.40,438.79 L46.75,438.48 L47.10,438.26 L47.45,438.15 L47.80,438.18 L48.15,438.33 L48.50,438.60 L48.85,438.92 L49.20,439.27 L49.55,439.57 L49.90,439.78 L50.25,439.86 L50.60,439.79 L50.95,439.59 L51.30,439.27 L51.65,438.88 L52.00,438.49 L52.35,438.16 L52.70,437.92 L53.05,437.84 L53.40,437.90 L53.75,438.12 L54.10,438.45 L54.45,438.85 L54.80,439.25 L55.15,439.59 L55.50,439.80 L55.85,439.86 L56.20,439.73 L56.55,439.44 L56.90,439.03 L57.25,438.56 L57.60,438.09 L57.95,437.71 L58.30,437.46 L58.65,437.40 L59.00,437.53 L59.35,437.84 L59.70,438.27 L60.05,438.77 L60.40,439.24 L60.75,439.61 L61.10,439.83 L61.45,439.84 L61.80,439.64 L62.15,439.25 L62.50,438.73 L62.85,438.15 L63.20,437.61 L63.55,437.19 L63.90,436.95 L64.25,436.94 L64.60,437.15 L64.95,437.57 L65.30,438.11 L65.65,438.71 L66.00,439.25 L66.35,439.65 L66.70,439.85 L67.05,439.80 L67.40,439.50 L67.75,438.99 L68.10,438.35 L68.45,437.67 L68.80,437.06 L69.15,436.61 L69.50,436.40 L69.85,436.46 L70.20,436.78 L70.55,437.31 L70.90,437.98 L71.25,438.67 L71.60,439.28 L71.95,439.70 L72.30,439.86 L72.65,439.72 L73.00,439.31 L73.35,438.66 L73.70,437.89 L74.05,437.11 L74.40,436.44 L74.75,435.98 L75.10,435.81 L75.45,435.95 L75.80,436.39 L76.15,437.06 L76.50,437.86 L76.85,438.66 L77.20,439.33 L77.55,439.75 L77.90,439.85 L78.25,439.60 L78.60,439.03 L78.95,438.22 L79.30,437.29 L79.65,436.38 L80.00,435.63 L80.35,435.16 L80.70,435.05 L81.05,435.31 L81.40,435.92 L81.75,436.77 L82.10,437.74 L82.45,438.66 L82.80,439.39 L83.15,439.80 L83.50,439.81 L83.85,439.42 L84.20,438.67 L84.55,437.66 L84.90,436.55 L85.25,435.52 L85.60,434.71 L85.95,434.26 L86.30,434.25 L86.65,434.67 L87.00,435.47 L87.35,436.52 L87.70,437.66 L88.05,438.70 L88.40,439.47 L88.75,439.84 L89.10,439.73 L89.45,439.16 L89.80,438.19 L90.15,436.97 L90.50,435.69 L90.85,434.53 L91.20,433.69 L91.55,433.29 L91.90,433.41 L92.25,434.03 L92.60,435.05 L92.95,436.32 L93.30,437.63 L93.65,438.78 L94.00,439.57 L94.35,439.86 L94.70,439.60 L95.05,438.80 L95.40,437.59 L95.75,436.15 L96.10,434.68 L96.45,433.42 L96.80,432.57 L97.15,432.26 L97.50,432.51 L97.85,433.33 L98.20,434.60 L98.55,436.10 L98.90,437.61 L99.25,438.86 L99.60,439.66 L99.95,439.84 L100.30,439.36 L100.65,438.27 L101.00,436.71 L101.35,434.92 L101.70,433.16 L102.05,431.72 L102.40,430.80 L102.75,430.58 L103.10,431.09 L103.45,432.26 L103.80,433.90 L104.15,435.77 L104.50,437.55 L104.85,438.96 L105.20,439.75 L105.55,439.77 L105.90,438.99 L106.25,437.51 L106.60,435.53 L106.95,433.36 L107.30,431.32 L107.65,429.73 L108.00,428.84 L108.35,428.81 L108.70,429.64 L109.05,431.21 L109.40,433.29 L109.75,435.53 L110.10,437.58 L110.45,439.10 L110.80,439.82 L111.15,439.60 L111.50,438.45 L111.85,436.52 L112.20,434.08 L112.55,431.51 L112.90,429.20 L113.25,427.51 L113.60,426.71 L113.95,426.90 L114.30,428.08 L114.65,430.11 L115.00,432.65 L115.35,435.31 L115.70,437.65 L116.05,439.26 L116.40,439.86 L116.75,439.30 L117.10,437.62 L117.45,435.04 L117.80,431.94 L118.15,428.77 L118.50,426.03 L118.85,424.15 L119.20,423.43 L119.55,424.00 L119.90,425.79 L120.25,428.53 L120.60,431.78 L120.95,435.03 L121.30,437.74 L121.65,439.44 L122.00,439.82 L122.35,438.77 L122.70,436.40 L123.05,433.03 L123.40,429.17 L123.75,425.39 L124.10,422.29 L124.45,420.35 L124.80,419.89 L125.15,421.00 L125.50,423.53 L125.85,427.08 L126.20,431.10 L126.55,434.93 L126.90,437.95 L127.25,439.65 L127.60,439.72 L127.95,438.07 L128.30,434.91 L128.65,430.71 L129.00,426.08 L129.35,421.75 L129.70,418.39 L130.05,416.56 L130.40,416.52 L130.75,418.34 L131.10,421.76 L131.45,426.26 L131.80,431.14 L132.15,435.60 L132.50,438.92 L132.85,440.50 L133.20,440.05 L133.55,437.56 L133.90,433.37 L134.25,428.09 L134.60,422.52 L134.95,417.52 L135.30,413.89 L135.65,412.20 L136.00,412.77 L136.35,415.52 L136.70,420.06 L137.05,425.67 L137.40,431.47 L137.75,436.52 L138.10,439.99 L138.45,441.27 L138.80,440.11 L139.15,436.60 L139.50,431.26 L139.85,424.88 L140.20,418.43 L140.55,412.92 L140.90,409.22 L141.25,407.94 L141.60,409.23 L141.95,413.01 L142.30,418.70 L142.65,425.42 L143.00,432.09 L143.35,437.63 L143.70,441.10 L144.05,441.89 L144.40,439.78 L144.75,435.02 L145.10,428.29 L145.45,420.60 L145.80,413.12 L146.15,407.03 L146.50,403.29 L146.85,402.49 L147.20,404.76 L147.55,409.86 L147.90,417.00 L148.25,425.07 L148.60,432.76 L148.95,438.81 L149.30,442.19 L149.65,442.24 L150.00,438.87 L150.35,432.48 L150.70,424.00 L151.05,414.70 L151.40,406.00 L151.75,399.28 L152.10,395.61 L152.45,395.16 L152.80,398.26 L153.15,404.77 L153.50,413.71 L153.85,423.64 L154.20,432.90 L154.55,439.86 L154.90,443.18 L155.25,442.08 L155.60,436.44 L155.95,426.90 L156.30,414.75 L156.65,401.74 L157.00,389.86 L157.35,380.95 L157.70,376.48 L158.05,378.31 L158.40,385.26 L158.75,396.09 L159.10,409.09 L159.45,422.23 L159.80,433.44 L160.15,440.96 L160.50,443.60 L160.85,441.52 L161.20,435.42 L161.55,425.62 L161.90,412.70 L162.25,397.38 L162.60,380.54 L162.95,363.13 L163.30,346.15 L163.65,330.56 L164.00,317.25 L164.35,306.97 L164.70,300.31 L165.05,297.64 L165.40,299.13 L165.75,304.68 L166.10,313.97 L166.45,326.49 L166.80,341.52 L167.15,358.20 L167.50,375.58 L167.85,392.68 L168.20,408.53 L168.55,422.22 L168.90,432.97 L169.25,440.18 L169.60,443.43 L169.95,442.98 L170.30,440.15 L170.65,435.45 L171.00,429.63 L171.35,423.59 L171.70,418.29 L172.05,414.55 L172.40,412.97 L172.75,413.34 L173.10,416.00 L173.45,420.65 L173.80,426.57 L174.15,432.81 L174.50,438.32 L174.85,442.16 L175.20,443.60 L175.55,442.29 L175.90,438.32 L176.25,432.18 L176.60,424.75 L176.95,417.15 L177.30,410.53 L177.65,405.94 L178.00,404.25 L178.35,406.70 L178.70,411.80 L179.05,418.72 L179.40,426.37 L179.75,433.58 L180.10,439.31 L180.45,442.76 L180.80,443.53 L181.15,441.65 L181.50,437.57 L181.85,432.04 L182.20,426.04 L182.55,420.57 L182.90,416.51 L183.25,414.48 L183.60,414.60 L183.95,416.69 L184.30,420.69 L184.65,425.97 L185.00,431.71 L185.35,437.01 L185.70,441.08 L186.05,443.29 L186.40,443.36 L186.75,441.30 L187.10,437.48 L187.45,432.55 L187.80,427.29 L188.15,422.55 L188.50,419.08 L188.85,417.41 L189.20,417.80 L189.55,420.17 L189.90,424.14 L190.25,429.07 L190.60,434.20 L190.95,438.75 L191.30,442.01 L191.65,443.53 L192.00,443.09 L192.35,440.81 L192.70,437.09 L193.05,432.55 L193.40,427.93 L193.75,423.95 L194.10,421.24 L194.45,420.23 L194.80,421.14 L195.15,423.73 L195.50,427.58 L195.85,432.08 L196.20,436.52 L196.55,440.25 L196.90,442.72 L197.25,443.60 L197.60,442.82 L197.95,440.55 L198.30,437.23 L198.65,433.40 L199.00,429.72 L199.35,426.75 L199.70,424.98 L200.05,424.64 L200.40,425.67 L200.75,428.02 L201.10,431.30 L201.45,435.01 L201.80,438.57 L202.15,441.43 L202.50,443.18 L202.85,443.56 L203.20,442.55 L203.55,440.34 L203.90,437.31 L204.25,433.94 L204.60,430.79 L204.95,428.35 L205.30,427.00 L205.65,426.98 L206.00,428.30 L206.35,430.69 L206.70,433.76 L207.05,437.03 L207.40,440.00 L207.75,442.24 L208.10,443.44 L208.45,443.46 L208.80,442.36 L209.15,440.35 L209.50,437.80 L209.85,435.13 L210.20,432.79 L210.55,431.15 L210.90,430.45 L211.25,430.74 L211.60,431.97 L211.95,433.98 L212.30,436.46 L212.65,439.01 L213.00,441.24 L213.35,442.84 L213.70,443.57 L214.05,443.34 L214.40,442.24 L214.75,440.46 L215.10,438.30 L215.45,436.12 L215.80,434.28 L216.15,433.05 L216.50,432.64 L216.85,433.09 L217.20,434.32 L217.55,436.13 L217.90,438.24 L218.25,440.32 L218.60,442.05 L218.95,443.20 L219.30,443.60 L219.65,443.23 L220.00,442.17 L220.35,440.62 L220.70,438.85 L221.05,437.15 L221.40,435.80 L221.75,434.99 L222.10,434.86 L222.45,435.36 L222.80,436.47 L223.15,438.00 L223.50,439.71 L223.85,441.33 L224.20,442.63 L224.55,443.42 L224.90,443.58 L225.25,443.12 L225.60,442.14 L225.95,440.79 L226.30,439.32 L226.65,437.95 L227.00,436.91 L227.35,436.36 L227.70,436.37 L228.05,436.92 L228.40,437.95 L228.75,439.28 L229.10,440.71 L229.45,442.01 L229.80,443.00 L230.15,443.53 L230.50,443.54 L230.85,443.03 L231.20,442.11 L231.55,440.94 L231.90,439.71 L232.25,438.61 L232.60,437.83 L232.95,437.48 L233.30,437.60 L233.65,438.18 L234.00,439.12 L234.35,440.28 L234.70,441.47 L235.05,442.51 L235.40,443.25 L235.75,443.59 L236.10,443.48 L236.45,442.96 L236.80,442.12 L237.15,441.12 L237.50,440.10 L237.85,439.24 L238.20,438.67 L238.55,438.49 L238.90,438.70 L239.25,439.28 L239.60,440.12 L239.95,441.11 L240.30,442.08 L240.65,442.89 L241.00,443.42 L241.35,443.60 L241.70,443.42 L242.05,442.93 L242.40,442.20 L242.75,441.38 L243.10,440.58 L243.45,439.95 L243.80,439.58 L244.15,439.52 L244.50,439.75 L244.85,440.27 L245.20,440.98 L245.55,441.78 L245.90,442.54 L246.25,443.15 L246.60,443.52 L246.95,443.59 L247.30,443.37 L247.65,442.90 L248.00,442.26 L248.35,441.55 L248.70,440.90 L249.05,440.40 L249.40,440.13 L249.75,440.13 L250.10,440.40 L250.45,440.90 L250.80,441.54 L251.15,442.22 L251.50,442.85 L251.85,443.32 L252.20,443.57 L252.55,443.57 L252.90,443.32 L253.25,442.88 L253.60,442.32 L253.95,441.74 L254.30,441.22 L254.65,440.85 L255.00,440.68 L255.35,440.75 L255.70,441.03 L256.05,441.49 L256.40,442.04 L256.75,442.60 L257.10,443.09 L257.45,443.44 L257.80,443.59 L258.15,443.54 L258.50,443.30 L258.85,442.91 L259.20,442.44 L259.55,441.98 L259.90,441.59 L260.25,441.34 L260.60,441.26 L260.95,441.37 L261.30,441.64 L261.65,442.03 L262.00,442.48 L262.35,442.92 L262.70,443.28 L263.05,443.52 L263.40,443.60 L263.75,443.52 L264.10,443.30 L264.45,442.98 L264.80,442.62 L265.15,442.29 L265.50,442.02 L265.85,441.87 L266.20,441.85 L266.55,441.95 L266.90,442.17 L267.25,442.47 L267.60,442.81 L267.95,443.14 L268.30,443.41 L268.65,443.56 L269.00,443.60 L269.35,443.50 L269.70,443.29 L270.05,443.00 L270.40,442.68 L270.75,442.39 L271.10,442.16 L271.45,442.03 L271.80,442.03 L272.15,442.15 L272.50,442.37 L272.85,442.66 L273.20,442.97 L273.55,443.25 L273.90,443.47 L274.25,443.59 L274.60,443.58 L274.95,443.47 L275.30,443.26 L275.65,442.99 L276.00,442.71 L276.35,442.45 L276.70,442.27 L277.05,442.19 L277.40,442.21 L277.75,442.34 L278.10,442.56 L278.45,442.83 L278.80,443.11 L279.15,443.35 L279.50,443.52 L279.85,443.60 L280.20,443.57 L280.55,443.44 L280.90,443.24 L281.25,443.00 L281.60,442.75 L281.95,442.54 L282.30,442.40 L282.65,442.35 L283.00,442.40 L283.35,442.54 L283.70,442.74 L284.05,442.98 L284.40,443.22 L284.75,443.42 L285.10,443.56 L285.45,443.60 L285.80,443.55 L286.15,443.42 L286.50,443.24 L286.85,443.02 L287.20,442.81 L287.55,442.64 L287.90,442.54 L288.25,442.52 L288.60,442.58 L288.95,442.72 L289.30,442.91 L289.65,443.12 L290.00,443.32 L290.35,443.48 L290.70,443.58 L291.05,443.60 L291.40,443.54 L291.75,443.41 L292.10,443.24 L292.45,443.06 L292.80,442.89 L293.15,442.76 L293.50,442.69 L293.85,442.69 L294.20,442.77 L294.55,442.90 L294.90,443.07 L295.25,443.24 L295.60,443.41 L295.95,443.53 L296.30,443.59 L296.65,443.59 L297.00,443.53 L297.35,443.41 L297.70,443.27 L298.05,443.12 L298.40,442.98 L298.75,442.89 L299.10,442.85 L299.45,442.87 L299.80,442.94 L300.15,443.06 L300.50,443.20 L300.85,443.35 L301.20,443.47 L301.55,443.56 L301.90,443.60 L302.25,443.58 L302.60,443.52 L302.95,443.42 L303.30,443.31 L303.65,443.19 L304.00,443.09 L304.35,443.03" fill="none" stroke="#cc33ff" stroke-width="2.1" stroke-linejoin="round" stroke-linecap="round" />
<path d="M25.40,438.86 L25.75,438.87 L26.10,438.90 L26.45,438.96 L26.80,439.04 L27.15,439.11 L27.50,439.18 L27.85,439.22 L28.20,439.24 L28.55,439.22 L28.90,439.17 L29.25,439.10 L29.60,439.01 L29.95,438.92 L30.30,438.85 L30.65,438.80 L31.00,438.78 L31.35,438.80 L31.70,438.85 L32.05,438.93 L32.40,439.02 L32.75,439.11 L33.10,439.18 L33.45,439.23 L33.80,439.24 L34.15,439.21 L34.50,439.14 L34.85,439.04 L35.20,438.94 L35.55,438.83 L35.90,438.75 L36.25,438.70 L36.60,438.69 L36.95,438.72 L37.30,438.79 L37.65,438.89 L38.00,439.00 L38.35,439.11 L38.70,439.19 L39.05,439.23 L39.40,439.23 L39.75,439.18 L40.10,439.09 L40.45,438.98 L40.80,438.85 L41.15,438.73 L41.50,438.64 L41.85,438.59 L42.20,438.59 L42.55,438.64 L42.90,438.73 L43.25,438.85 L43.60,438.99 L43.95,439.11 L44.30,439.20 L44.65,439.24 L45.00,439.22 L45.35,439.15 L45.70,439.02 L46.05,438.86 L46.40,438.70 L46.75,438.55 L47.10,438.44 L47.45,438.39 L47.80,438.41 L48.15,438.49 L48.50,438.62 L48.85,438.79 L49.20,438.96 L49.55,439.11 L49.90,439.21 L50.25,439.24 L50.60,439.20 L50.95,439.09 L51.30,438.92 L51.65,438.71 L52.00,438.51 L52.35,438.33 L52.70,438.22 L53.05,438.17 L53.40,438.22 L53.75,438.34 L54.10,438.52 L54.45,438.73 L54.80,438.94 L55.15,439.11 L55.50,439.22 L55.85,439.24 L56.20,439.16 L56.55,439.00 L56.90,438.78 L57.25,438.53 L57.60,438.28 L57.95,438.08 L58.30,437.96 L58.65,437.94 L59.00,438.02 L59.35,438.19 L59.70,438.42 L60.05,438.68 L60.40,438.93 L60.75,439.13 L61.10,439.23 L61.45,439.22 L61.80,439.10 L62.15,438.89 L62.50,438.61 L62.85,438.30 L63.20,438.01 L63.55,437.80 L63.90,437.68 L64.25,437.68 L64.60,437.81 L64.95,438.04 L65.30,438.34 L65.65,438.65 L66.00,438.94 L66.35,439.15 L66.70,439.24 L67.05,439.20 L67.40,439.02 L67.75,438.74 L68.10,438.39 L68.45,438.03 L68.80,437.70 L69.15,437.47 L69.50,437.37 L69.85,437.41 L70.20,437.59 L70.55,437.89 L70.90,438.25 L71.25,438.63 L71.60,438.95 L71.95,439.17 L72.30,439.24 L72.65,439.15 L73.00,438.90 L73.35,438.53 L73.70,438.10 L74.05,437.66 L74.40,437.28 L74.75,437.03 L75.10,436.95 L75.45,437.04 L75.80,437.31 L76.15,437.70 L76.50,438.15 L76.85,438.60 L77.20,438.97 L77.55,439.19 L77.90,439.23 L78.25,439.07 L78.60,438.73 L78.95,438.26 L79.30,437.72 L79.65,437.20 L80.00,436.79 L80.35,436.53 L80.70,436.49 L81.05,436.66 L81.40,437.02 L81.75,437.52 L82.10,438.08 L82.45,438.60 L82.80,439.00 L83.15,439.22 L83.50,439.20 L83.85,438.95 L84.20,438.50 L84.55,437.91 L84.90,437.27 L85.25,436.68 L85.60,436.22 L85.95,435.99 L86.30,436.00 L86.65,436.27 L87.00,436.75 L87.35,437.37 L87.70,438.03 L88.05,438.62 L88.40,439.05 L88.75,439.24 L89.10,439.15 L89.45,438.79 L89.80,438.20 L90.15,437.48 L90.50,436.73 L90.85,436.07 L91.20,435.60 L91.55,435.39 L91.90,435.48 L92.25,435.86 L92.60,436.47 L92.95,437.23 L93.30,438.00 L93.65,438.66 L94.00,439.10 L94.35,439.24 L94.70,439.05 L95.05,438.55 L95.40,437.80 L95.75,436.91 L96.10,436.03 L96.45,435.28 L96.80,434.78 L97.15,434.62 L97.50,434.83 L97.85,435.36 L98.20,436.15 L98.55,437.07 L98.90,437.97 L99.25,438.71 L99.60,439.15 L99.95,439.22 L100.30,438.89 L100.65,438.21 L101.00,437.27 L101.35,436.21 L101.70,435.19 L102.05,434.37 L102.40,433.88 L102.75,433.80 L103.10,434.15 L103.45,434.87 L103.80,435.86 L104.15,436.96 L104.50,437.99 L104.85,438.78 L105.20,439.20 L105.55,439.16 L105.90,438.67 L106.25,437.78 L106.60,436.62 L106.95,435.37 L107.30,434.21 L107.65,433.34 L108.00,432.89 L108.35,432.92 L108.70,433.46 L109.05,434.40 L109.40,435.61 L109.75,436.89 L110.10,438.05 L110.45,438.87 L110.80,439.23 L111.15,439.05 L111.50,438.35 L111.85,437.22 L112.20,435.82 L112.55,434.38 L112.90,433.10 L113.25,432.20 L113.60,431.81 L113.95,431.98 L114.30,432.71 L114.65,433.89 L115.00,435.34 L115.35,436.83 L115.70,438.11 L116.05,438.97 L116.40,439.24 L116.75,438.86 L117.10,437.86 L117.45,436.38 L117.80,434.64 L118.15,432.89 L118.50,431.40 L118.85,430.41 L119.20,430.09 L119.55,430.48 L119.90,431.54 L120.25,433.11 L120.60,434.94 L120.95,436.73 L121.30,438.18 L121.65,439.06 L122.00,439.20 L122.35,438.54 L122.70,437.16 L123.05,435.25 L123.40,433.11 L123.75,431.04 L124.10,429.38 L124.45,428.39 L124.80,428.22 L125.15,428.92 L125.50,430.39 L125.85,432.40 L126.20,434.62 L126.55,436.71 L126.90,438.31 L127.25,439.16 L127.60,439.08 L127.95,438.05 L128.30,436.22 L128.65,433.84 L129.00,431.27 L129.35,428.90 L129.70,427.10 L130.05,426.16 L130.40,426.19 L130.75,427.24 L131.10,429.15 L131.45,431.65 L131.80,434.32 L132.15,436.73 L132.50,438.47 L132.85,439.22 L133.20,438.83 L133.55,437.29 L133.90,434.81 L134.25,431.74 L134.60,428.54 L134.95,425.69 L135.30,423.64 L135.65,422.73 L136.00,423.11 L136.35,424.75 L136.70,427.38 L137.05,430.62 L137.40,433.92 L137.75,436.76 L138.10,438.65 L138.45,439.23 L138.80,438.38 L139.15,436.16 L139.50,432.87 L139.85,429.00 L140.20,425.12 L140.55,421.84 L140.90,419.67 L141.25,418.97 L141.60,419.87 L141.95,422.23 L142.30,425.72 L142.65,429.76 L143.00,433.72 L143.35,436.93 L143.70,438.87 L144.05,439.20 L144.40,437.77 L144.75,434.77 L145.10,430.60 L145.45,425.91 L145.80,421.41 L146.15,417.80 L146.50,415.68 L146.85,415.38 L147.20,416.97 L147.55,420.26 L147.90,424.74 L148.25,429.72 L148.60,434.39 L148.95,437.99 L149.30,439.89 L149.65,439.74 L150.00,437.49 L150.35,433.44 L150.70,428.17 L151.05,422.48 L151.40,417.25 L151.75,413.30 L152.10,411.28 L152.45,411.53 L152.80,414.05 L153.15,418.46 L153.50,424.09 L153.85,430.04 L154.20,435.37 L154.55,439.19 L154.90,440.85 L155.25,440.03 L155.60,436.78 L155.95,431.56 L156.30,425.15 L156.65,418.52 L157.00,412.70 L157.35,408.63 L157.70,406.96 L158.05,407.90 L158.40,411.42 L158.75,417.01 L159.10,423.78 L159.45,430.67 L159.80,436.56 L160.15,440.46 L160.50,441.68 L160.85,439.95 L161.20,435.46 L161.55,428.83 L161.90,421.06 L162.25,413.33 L162.60,406.85 L162.95,402.65 L163.30,401.40 L163.65,403.27 L164.00,408.10 L164.35,415.16 L164.70,423.34 L165.05,431.34 L165.40,437.83 L165.75,441.72 L166.10,442.29 L166.45,439.34 L166.80,433.22 L167.15,424.80 L167.50,415.35 L167.85,406.31 L168.20,399.09 L168.55,394.86 L168.90,393.96 L169.25,396.58 L169.60,402.78 L169.95,411.63 L170.30,421.73 L170.65,431.38 L171.00,438.92 L171.35,442.91 L171.70,442.46 L172.05,437.36 L172.40,428.13 L172.75,416.01 L173.10,402.75 L173.45,390.35 L173.80,380.73 L174.15,375.45 L174.50,376.36 L174.85,382.78 L175.20,393.36 L175.55,406.44 L175.90,419.96 L176.25,431.79 L176.60,440.09 L176.95,443.54 L177.30,442.11 L177.65,436.68 L178.00,427.60 L178.35,415.36 L178.70,400.68 L179.05,384.37 L179.40,367.38 L179.75,350.67 L180.10,335.18 L180.45,321.80 L180.80,311.29 L181.15,304.24 L181.50,301.07 L181.85,301.94 L182.20,306.81 L182.55,315.40 L182.90,327.22 L183.25,341.61 L183.60,357.73 L183.95,374.69 L184.30,391.50 L184.65,407.22 L185.00,420.95 L185.35,431.91 L185.70,439.48 L186.05,443.23 L186.40,443.21 L186.75,440.75 L187.10,436.38 L187.45,430.79 L187.80,424.86 L188.15,419.52 L188.50,415.61 L188.85,413.74 L189.20,413.84 L189.55,416.12 L189.90,420.43 L190.25,426.09 L190.60,432.20 L190.95,437.75 L191.30,441.78 L191.65,443.56 L192.00,442.67 L192.35,439.14 L192.70,433.39 L193.05,426.25 L193.40,418.77 L193.75,412.10 L194.10,407.28 L194.45,405.10 L194.80,407.02 L195.15,411.68 L195.50,418.24 L195.85,425.69 L196.20,432.87 L196.55,438.73 L196.90,442.46 L197.25,443.59 L197.60,442.11 L197.95,438.38 L198.30,433.12 L198.65,427.26 L199.00,421.78 L199.35,417.57 L199.70,415.28 L200.05,415.14 L200.40,416.88 L200.75,420.55 L201.10,425.59 L201.45,431.18 L201.80,436.48 L202.15,440.67 L202.50,443.12 L202.85,443.48 L203.20,441.75 L203.55,438.24 L203.90,433.53 L204.25,428.38 L204.60,423.63 L204.95,420.02 L205.30,418.12 L205.65,418.21 L206.00,420.26 L206.35,423.95 L206.70,428.68 L207.05,433.72 L207.40,438.29 L207.75,441.69 L208.10,443.43 L208.45,443.28 L208.80,441.29 L209.15,437.83 L209.50,433.46 L209.85,428.90 L210.20,424.88 L210.55,422.03 L210.90,420.79 L211.25,421.41 L211.60,423.73 L211.95,427.35 L212.30,431.70 L212.65,436.09 L213.00,439.87 L213.35,442.49 L213.70,443.58 L214.05,443.04 L214.40,441.01 L214.75,437.88 L215.10,434.18 L215.45,430.51 L215.80,427.49 L216.15,425.56 L216.50,425.04 L216.85,425.85 L217.20,427.97 L217.55,431.08 L217.90,434.68 L218.25,438.21 L218.60,441.14 L218.95,443.02 L219.30,443.59 L219.65,442.80 L220.00,440.79 L220.35,437.91 L220.70,434.63 L221.05,431.49 L221.40,428.97 L221.75,427.49 L222.10,427.27 L222.45,428.39 L222.80,430.60 L223.15,433.53 L223.50,436.72 L223.85,439.70 L224.20,442.01 L224.55,443.35 L224.90,443.53 L225.25,442.60 L225.60,440.74 L225.95,438.30 L226.30,435.69 L226.65,433.33 L227.00,431.61 L227.35,430.78 L227.70,430.93 L228.05,432.01 L228.40,433.88 L228.75,436.26 L229.10,438.77 L229.45,441.02 L229.80,442.68 L230.15,443.52 L230.50,443.44 L230.85,442.47 L231.20,440.81 L231.55,438.73 L231.90,436.58 L232.25,434.71 L232.60,433.42 L232.95,432.89 L233.30,433.21 L233.65,434.32 L234.00,436.02 L234.35,438.06 L234.70,440.11 L235.05,441.88 L235.40,443.09 L235.75,443.59 L236.10,443.33 L236.45,442.38 L236.80,440.93 L237.15,439.21 L237.50,437.52 L237.85,436.13 L238.20,435.26 L238.55,435.03 L238.90,435.44 L239.25,436.45 L239.60,437.90 L239.95,439.56 L240.30,441.17 L240.65,442.50 L241.00,443.35 L241.35,443.60 L241.70,443.23 L242.05,442.33 L242.40,441.06 L242.75,439.62 L243.10,438.26 L243.45,437.18 L243.80,436.57 L244.15,436.50 L244.50,436.97 L244.85,437.91 L245.20,439.18 L245.55,440.58 L245.90,441.88 L246.25,442.90 L246.60,443.49 L246.95,443.57 L247.30,443.14 L247.65,442.29 L248.00,441.17 L248.35,439.96 L248.70,438.86 L249.05,438.04 L249.40,437.63 L249.75,437.69 L250.10,438.20 L250.45,439.08 L250.80,440.19 L251.15,441.36 L251.50,442.40 L251.85,443.18 L252.20,443.57 L252.55,443.52 L252.90,443.07 L253.25,442.29 L253.60,441.32 L253.95,440.32 L254.30,439.45 L254.65,438.84 L255.00,438.60 L255.35,438.76 L255.70,439.27 L256.05,440.07 L256.40,441.02 L256.75,441.98 L257.10,442.80 L257.45,443.37 L257.80,443.60 L258.15,443.47 L258.50,443.03 L258.85,442.34 L259.20,441.54 L259.55,440.76 L259.90,440.11 L260.25,439.70 L260.60,439.60 L260.95,439.79 L261.30,440.26 L261.65,440.93 L262.00,441.71 L262.35,442.47 L262.70,443.09 L263.05,443.48 L263.40,443.60 L263.75,443.42 L264.10,442.99 L264.45,442.38 L264.80,441.70 L265.15,441.04 L265.50,440.53 L265.85,440.23 L266.20,440.19 L266.55,440.42 L266.90,440.88 L267.25,441.49 L267.60,442.16 L267.95,442.78 L268.30,443.27 L268.65,443.55 L269.00,443.58 L269.35,443.38 L269.70,442.97 L270.05,442.43 L270.40,441.86 L270.75,441.33 L271.10,440.95 L271.45,440.76 L271.80,440.79 L272.15,441.04 L272.50,441.46 L272.85,441.99 L273.20,442.55 L273.55,443.04 L273.90,443.40 L274.25,443.58 L274.60,443.56 L274.95,443.35 L275.30,442.99 L275.65,442.54 L276.00,442.08 L276.35,441.68 L276.70,441.42 L277.05,441.31 L277.40,441.39 L277.75,441.64 L278.10,442.01 L278.45,442.44 L278.80,442.88 L279.15,443.25 L279.50,443.50 L279.85,443.60 L280.20,443.54 L280.55,443.34 L280.90,443.05 L281.25,442.70 L281.60,442.36 L281.95,442.09 L282.30,441.92 L282.65,441.89 L283.00,441.96 L283.35,442.16 L283.70,442.45 L284.05,442.78 L284.40,443.11 L284.75,443.38 L285.10,443.55 L285.45,443.60 L285.80,443.52 L286.15,443.33 L286.50,443.06 L286.85,442.75 L287.20,442.45 L287.55,442.22 L287.90,442.08 L288.25,442.06 L288.60,442.16 L288.95,442.36 L289.30,442.64 L289.65,442.94 L290.00,443.23 L290.35,443.45 L290.70,443.58 L291.05,443.59 L291.40,443.49 L291.75,443.30 L292.10,443.04 L292.45,442.77 L292.80,442.51 L293.15,442.32 L293.50,442.22 L293.85,442.23 L294.20,442.35 L294.55,442.55 L294.90,442.81 L295.25,443.08 L295.60,443.32 L295.95,443.50 L296.30,443.59 L296.65,443.58 L297.00,443.47 L297.35,443.28 L297.70,443.05 L298.05,442.80 L298.40,442.59 L298.75,442.44 L299.10,442.38 L299.45,442.41 L299.80,442.54 L300.15,442.73 L300.50,442.96 L300.85,443.20 L301.20,443.40 L301.55,443.54 L301.90,443.60 L302.25,443.57 L302.60,443.45 L302.95,443.27 L303.30,443.06 L303.65,442.85 L304.00,442.68 L304.35,442.57" fill="none" stroke="#e619ff" stroke-width="2.1" stroke-linejoin="round" stroke-linecap="round" />
<path d="M25.40,438.44 L25.75,438.42 L26.10,438.43 L26.45,438.45 L26.80,438.47 L27.15,438.51 L27.50,438.54 L27.85,438.57 L28.20,438.59 L28.55,438.60 L28.90,438.59 L29.25,438.57 L29.60,438.54 L29.95,438.50 L30.30,438.46 L30.65,438.43 L31.00,438.41 L31.35,438.40 L31.70,438.40 L32.05,438.43 L32.40,438.46 L32.75,438.50 L33.10,438.54 L33.45,438.57 L33.80,438.59 L34.15,438.60 L34.50,438.59 L34.85,438.56 L35.20,438.51 L35.55,438.46 L35.90,438.41 L36.25,438.37 L36.60,438.35 L36.95,438.34 L37.30,438.35 L37.65,438.39 L38.00,438.43 L38.35,438.49 L38.70,438.54 L39.05,438.58 L39.40,438.60 L39.75,438.60 L40.10,438.57 L40.45,438.53 L40.80,438.47 L41.15,438.41 L41.50,438.35 L41.85,438.30 L42.20,438.28 L42.55,438.28 L42.90,438.30 L43.25,438.35 L43.60,438.41 L43.95,438.47 L44.30,438.53 L44.65,438.58 L45.00,438.60 L45.35,438.59 L45.70,438.56 L46.05,438.50 L46.40,438.43 L46.75,438.35 L47.10,438.28 L47.45,438.23 L47.80,438.20 L48.15,438.21 L48.50,438.25 L48.85,438.31 L49.20,438.39 L49.55,438.47 L49.90,438.54 L50.25,438.58 L50.60,438.60 L50.95,438.58 L51.30,438.53 L51.65,438.46 L52.00,438.36 L52.35,438.27 L52.70,438.19 L53.05,438.14 L53.40,438.12 L53.75,438.14 L54.10,438.19 L54.45,438.27 L54.80,438.37 L55.15,438.46 L55.50,438.54 L55.85,438.59 L56.20,438.60 L56.55,438.57 L56.90,438.50 L57.25,438.40 L57.60,438.29 L57.95,438.18 L58.30,438.09 L58.65,438.04 L59.00,438.03 L59.35,438.06 L59.70,438.13 L60.05,438.23 L60.40,438.35 L60.75,438.46 L61.10,438.54 L61.45,438.59 L61.80,438.59 L62.15,438.54 L62.50,438.44 L62.85,438.31 L63.20,438.17 L63.55,438.03 L63.90,437.92 L64.25,437.86 L64.60,437.86 L64.95,437.91 L65.30,438.02 L65.65,438.16 L66.00,438.31 L66.35,438.45 L66.70,438.55 L67.05,438.60 L67.40,438.58 L67.75,438.50 L68.10,438.36 L68.45,438.19 L68.80,438.00 L69.15,437.84 L69.50,437.72 L69.85,437.66 L70.20,437.67 L70.55,437.76 L70.90,437.91 L71.25,438.09 L71.60,438.28 L71.95,438.45 L72.30,438.56 L72.65,438.60 L73.00,438.56 L73.35,438.44 L73.70,438.25 L74.05,438.03 L74.40,437.80 L74.75,437.61 L75.10,437.48 L75.45,437.43 L75.80,437.48 L76.15,437.61 L76.50,437.80 L76.85,438.04 L77.20,438.27 L77.55,438.46 L77.90,438.57 L78.25,438.60 L78.60,438.52 L78.95,438.35 L79.30,438.11 L79.65,437.83 L80.00,437.57 L80.35,437.35 L80.70,437.22 L81.05,437.19 L81.40,437.27 L81.75,437.45 L82.10,437.71 L82.45,437.99 L82.80,438.26 L83.15,438.47 L83.50,438.59 L83.85,438.58 L84.20,438.46 L84.55,438.23 L84.90,437.93 L85.25,437.60 L85.60,437.29 L85.95,437.05 L86.30,436.92 L86.65,436.92 L87.00,437.05 L87.35,437.29 L87.70,437.61 L88.05,437.95 L88.40,438.26 L88.75,438.49 L89.10,438.60 L89.45,438.56 L89.80,438.37 L90.15,438.06 L90.50,437.68 L90.85,437.27 L91.20,436.91 L91.55,436.64 L91.90,436.52 L92.25,436.56 L92.60,436.75 L92.95,437.08 L93.30,437.49 L93.65,437.91 L94.00,438.27 L94.35,438.51 L94.70,438.60 L95.05,438.50 L95.40,438.24 L95.75,437.83 L96.10,437.35 L96.45,436.86 L96.80,436.45 L97.15,436.17 L97.50,436.07 L97.85,436.17 L98.20,436.45 L98.55,436.88 L98.90,437.38 L99.25,437.88 L99.60,438.29 L99.95,438.54 L100.30,438.59 L100.65,438.42 L101.00,438.05 L101.35,437.54 L101.70,436.95 L102.05,436.38 L102.40,435.92 L102.75,435.64 L103.10,435.58 L103.45,435.76 L103.80,436.15 L104.15,436.70 L104.50,437.31 L104.85,437.88 L105.20,438.33 L105.55,438.57 L105.90,438.56 L106.25,438.30 L106.60,437.81 L106.95,437.17 L107.30,436.47 L107.65,435.82 L108.00,435.32 L108.35,435.05 L108.70,435.05 L109.05,435.33 L109.40,435.84 L109.75,436.52 L110.10,437.24 L110.45,437.90 L110.80,438.37 L111.15,438.59 L111.50,438.50 L111.85,438.11 L112.20,437.47 L112.55,436.67 L112.90,435.83 L113.25,435.07 L113.60,434.53 L113.95,434.28 L114.30,434.37 L114.65,434.79 L115.00,435.47 L115.35,436.31 L115.70,437.18 L116.05,437.92 L116.40,438.43 L116.75,438.60 L117.10,438.40 L117.45,437.85 L117.80,437.02 L118.15,436.03 L118.50,435.04 L118.85,434.20 L119.20,433.64 L119.55,433.45 L119.90,433.66 L120.25,434.25 L120.60,435.12 L120.95,436.15 L121.30,437.16 L121.65,437.98 L122.00,438.49 L122.35,438.58 L122.70,438.23 L123.05,437.49 L123.40,436.45 L123.75,435.26 L124.10,434.12 L124.45,433.20 L124.80,432.64 L125.15,432.54 L125.50,432.91 L125.85,433.71 L126.20,434.80 L126.55,436.02 L126.90,437.17 L127.25,438.06 L127.60,438.54 L127.95,438.52 L128.30,437.99 L128.65,437.01 L129.00,435.73 L129.35,434.34 L129.70,433.05 L130.05,432.07 L130.40,431.55 L130.75,431.55 L131.10,432.10 L131.45,433.12 L131.80,434.45 L132.15,435.89 L132.50,437.20 L132.85,438.16 L133.20,438.59 L133.55,438.40 L133.90,437.60 L134.25,436.30 L134.60,434.67 L134.95,432.95 L135.30,431.42 L135.65,430.31 L136.00,429.80 L136.35,429.98 L136.70,430.83 L137.05,432.22 L137.40,433.93 L137.75,435.70 L138.10,437.23 L138.45,438.25 L138.80,438.60 L139.15,438.18 L139.50,437.03 L139.85,435.31 L140.20,433.26 L140.55,431.20 L140.90,429.45 L141.25,428.27 L141.60,427.87 L141.95,428.31 L142.30,429.54 L142.65,431.36 L143.00,433.49 L143.35,435.60 L143.70,437.32 L144.05,438.37 L144.40,438.56 L144.75,437.82 L145.10,436.24 L145.45,434.03 L145.80,431.54 L146.15,429.13 L146.50,427.17 L146.85,425.99 L147.20,425.74 L147.55,426.48 L147.90,428.13 L148.25,430.44 L148.60,433.04 L148.95,435.52 L149.30,437.45 L149.65,438.48 L150.00,438.42 L150.35,437.23 L150.70,435.03 L151.05,432.13 L151.40,428.97 L151.75,426.02 L152.10,423.74 L152.45,422.49 L152.80,422.49 L153.15,423.76 L153.50,426.10 L153.85,429.16 L154.20,432.45 L154.55,435.43 L154.90,437.60 L155.25,438.57 L155.60,438.13 L155.95,436.30 L156.30,433.31 L156.65,429.59 L157.00,425.69 L157.35,422.21 L157.70,419.70 L158.05,418.56 L158.40,418.99 L158.75,420.94 L159.10,424.11 L159.45,428.03 L159.80,432.04 L160.15,435.51 L160.50,437.83 L160.85,438.66 L161.20,437.74 L161.55,435.17 L161.90,431.30 L162.25,426.71 L162.60,422.10 L162.95,418.19 L163.30,415.60 L163.65,414.76 L164.00,415.82 L164.35,418.66 L164.70,422.87 L165.05,427.78 L165.40,432.62 L165.75,436.59 L166.10,439.03 L166.45,439.49 L166.80,437.84 L167.15,434.27 L167.50,429.29 L167.85,423.66 L168.20,418.23 L168.55,413.85 L168.90,411.25 L169.25,410.84 L169.60,412.73 L169.95,416.66 L170.30,422.02 L170.65,427.97 L171.00,433.57 L171.35,437.90 L171.70,440.22 L172.05,440.13 L172.40,437.55 L172.75,432.85 L173.10,426.71 L173.45,420.06 L173.80,413.93 L174.15,409.30 L174.50,406.91 L174.85,407.10 L175.20,409.92 L175.55,414.99 L175.90,421.52 L176.25,428.48 L176.60,434.76 L176.95,439.31 L177.30,441.35 L177.65,440.47 L178.00,436.74 L178.35,430.66 L178.70,423.12 L179.05,415.28 L179.40,408.35 L179.75,403.43 L180.10,401.33 L180.45,402.30 L180.80,406.33 L181.15,412.85 L181.50,420.82 L181.85,429.00 L182.20,436.04 L182.55,440.76 L182.90,442.33 L183.25,440.38 L183.60,435.12 L183.95,427.27 L184.30,418.00 L184.65,408.72 L185.00,400.88 L185.35,395.72 L185.70,393.95 L186.05,395.46 L186.40,400.70 L186.75,408.91 L187.10,418.80 L187.45,428.74 L187.80,437.03 L188.15,442.15 L188.50,443.03 L188.85,439.25 L189.20,431.13 L189.55,419.71 L189.90,406.62 L190.25,393.80 L190.60,383.24 L190.95,376.61 L191.30,375.62 L191.65,380.62 L192.00,390.13 L192.35,402.66 L192.70,416.24 L193.05,428.74 L193.40,438.18 L193.75,443.10 L194.10,442.96 L194.45,438.84 L194.80,431.10 L195.15,420.19 L195.50,406.72 L195.85,391.47 L196.20,375.30 L196.55,359.13 L196.90,343.88 L197.25,330.41 L197.60,319.50 L197.95,311.76 L198.30,307.64 L198.65,307.36 L199.00,310.94 L199.35,318.19 L199.70,328.68 L200.05,341.83 L200.40,356.87 L200.75,372.97 L201.10,389.20 L201.45,404.63 L201.80,418.40 L202.15,429.72 L202.50,437.95 L202.85,442.61 L203.20,443.51 L203.55,441.75 L203.90,438.04 L204.25,432.94 L204.60,427.27 L204.95,421.90 L205.30,417.70 L205.65,415.31 L206.00,414.89 L206.35,416.45 L206.70,420.07 L207.05,425.20 L207.40,431.03 L207.75,436.59 L208.10,440.95 L208.45,443.32 L208.80,443.22 L209.15,440.53 L209.50,435.58 L209.85,429.03 L210.20,421.85 L210.55,415.13 L210.90,409.92 L211.25,407.06 L211.60,407.76 L211.95,411.54 L212.30,417.40 L212.65,424.39 L213.00,431.45 L213.35,437.52 L213.70,441.73 L214.05,443.54 L214.40,442.82 L214.75,439.81 L215.10,435.11 L215.45,429.57 L215.80,424.13 L216.15,419.67 L216.50,416.91 L216.85,416.24 L217.20,417.34 L217.55,420.37 L217.90,424.89 L218.25,430.18 L218.60,435.41 L218.95,439.79 L219.30,442.66 L219.65,443.60 L220.00,442.50 L220.35,439.58 L220.70,435.32 L221.05,430.44 L221.40,425.70 L221.75,421.87 L222.10,419.54 L222.45,419.07 L222.80,420.52 L223.15,423.65 L223.50,427.96 L223.85,432.78 L224.20,437.35 L224.55,440.99 L224.90,443.14 L225.25,443.52 L225.60,442.10 L225.95,439.14 L226.30,435.14 L226.65,430.75 L227.00,426.69 L227.35,423.59 L227.70,421.93 L228.05,422.01 L228.40,423.80 L228.75,426.96 L229.10,430.98 L229.45,435.24 L229.80,439.09 L230.15,441.96 L230.50,443.44 L230.85,443.37 L231.20,441.81 L231.55,439.06 L231.90,435.61 L232.25,432.04 L232.60,428.91 L232.95,426.73 L233.30,425.83 L233.65,426.25 L234.00,427.95 L234.35,430.70 L234.70,434.06 L235.05,437.52 L235.40,440.53 L235.75,442.65 L236.10,443.57 L236.45,443.18 L236.80,441.56 L237.15,439.00 L237.50,435.92 L237.85,432.82 L238.20,430.20 L238.55,428.47 L238.90,427.88 L239.25,428.62 L239.60,430.46 L239.95,433.11 L240.30,436.15 L240.65,439.10 L241.00,441.53 L241.35,443.10 L241.70,443.60 L242.05,443.00 L242.40,441.45 L242.75,439.23 L243.10,436.73 L243.45,434.36 L243.80,432.51 L244.15,431.46 L244.50,431.35 L244.85,432.12 L245.20,433.72 L245.55,435.89 L245.90,438.30 L246.25,440.56 L246.60,442.34 L246.95,443.38 L247.30,443.56 L247.65,442.86 L248.00,441.44 L248.35,439.53 L248.70,437.46 L249.05,435.56 L249.40,434.14 L249.75,433.41 L250.10,433.49 L250.45,434.34 L250.80,435.83 L251.15,437.72 L251.50,439.72 L251.85,441.51 L252.20,442.84 L252.55,443.53 L252.90,443.49 L253.25,442.75 L253.60,441.48 L253.95,439.88 L254.30,438.23 L254.65,436.79 L255.00,435.79 L255.35,435.40 L255.70,435.61 L256.05,436.43 L256.40,437.71 L256.75,439.27 L257.10,440.85 L257.45,442.22 L257.80,443.18 L258.15,443.59 L258.50,443.41 L258.85,442.68 L259.20,441.54 L259.55,440.19 L259.90,438.84 L260.25,437.71 L260.60,436.98 L260.95,436.77 L261.30,437.07 L261.65,437.86 L262.00,439.00 L262.35,440.32 L262.70,441.62 L263.05,442.69 L263.40,443.38 L263.75,443.60 L264.10,443.32 L264.45,442.62 L264.80,441.60 L265.15,440.45 L265.50,439.34 L265.85,438.47 L266.20,437.96 L266.55,437.88 L266.90,438.25 L267.25,439.00 L267.60,440.02 L267.95,441.14 L268.30,442.19 L268.65,443.02 L269.00,443.50 L269.35,443.58 L269.70,443.25 L270.05,442.58 L270.40,441.69 L270.75,440.72 L271.10,439.84 L271.45,439.18 L271.80,438.84 L272.15,438.88 L272.50,439.29 L272.85,439.98 L273.20,440.87 L273.55,441.80 L273.90,442.63 L274.25,443.25 L274.60,443.57 L274.95,443.54 L275.30,443.20 L275.65,442.60 L276.00,441.85 L276.35,441.08 L276.70,440.42 L277.05,439.95 L277.40,439.77 L277.75,439.87 L278.10,440.25 L278.45,440.85 L278.80,441.57 L279.15,442.32 L279.50,442.96 L279.85,443.41 L280.20,443.60 L280.55,443.51 L280.90,443.16 L281.25,442.62 L281.60,441.97 L281.95,441.32 L282.30,440.78 L282.65,440.43 L283.00,440.32 L283.35,440.47 L283.70,440.85 L284.05,441.40 L284.40,442.04 L284.75,442.66 L285.10,443.17 L285.45,443.50 L285.80,443.60 L286.15,443.47 L286.50,443.13 L286.85,442.64 L287.20,442.09 L287.55,441.56 L287.90,441.15 L288.25,440.91 L288.60,440.88 L288.95,441.06 L289.30,441.42 L289.65,441.91 L290.00,442.44 L290.35,442.94 L290.70,443.33 L291.05,443.56 L291.40,443.59 L291.75,443.43 L292.10,443.12 L292.45,442.71 L292.80,442.27 L293.15,441.86 L293.50,441.57 L293.85,441.42 L294.20,441.45 L294.55,441.64 L294.90,441.96 L295.25,442.37 L295.60,442.79 L295.95,443.17 L296.30,443.45 L296.65,443.59 L297.00,443.57 L297.35,443.42 L297.70,443.16 L298.05,442.83 L298.40,442.50 L298.75,442.22 L299.10,442.03 L299.45,441.96 L299.80,442.00 L300.15,442.16 L300.50,442.41 L300.85,442.73 L301.20,443.04 L301.55,443.32 L301.90,443.52 L302.25,443.60 L302.60,443.56 L302.95,443.40 L303.30,443.16 L303.65,442.87 L304.00,442.58 L304.35,442.33" fill="none" stroke="#ff00ff" stroke-width="2.1" stroke-linejoin="round" stroke-linecap="round" />
<text x="36.30" y="291.10" font-size="12" fill="#00ffff" text-anchor="start" >0 <tspan font-family="Liberation Serif, serif">&#956;</tspan>m</text>
<text x="37.80" y="312.40" font-size="12" fill="#1ae6ff" text-anchor="start" >10 <tspan font-family="Liberation Serif, serif">&#956;</tspan>m</text>
<text x="37.80" y="333.70" font-size="12" fill="#33ccff" text-anchor="start" >20 <tspan font-family="Liberation Serif, serif">&#956;</tspan>m</text>
<text x="37.80" y="355.10" font-size="12" fill="#4cb2ff" text-anchor="start" >30 <tspan font-family="Liberation Serif, serif">&#956;</tspan>m</text>
<text x="37.80" y="376.90" font-size="12" fill="#6699ff" text-anchor="start" >40 <tspan font-family="Liberation Serif, serif">&#956;</tspan>m</text>
<text x="238.20" y="299.10" font-size="12" fill="#8080ff" text-anchor="start" >50 <tspan font-family="Liberation Serif, serif">&#956;</tspan>m</text>
<text x="238.20" y="320.50" font-size="12" fill="#9966ff" text-anchor="start" >60 <tspan font-family="Liberation Serif, serif">&#956;</tspan>m</text>
<text x="238.20" y="342.30" font-size="12" fill="#b24dff" text-anchor="start" >70 <tspan font-family="Liberation Serif, serif">&#956;</tspan>m</text>
<text x="238.20" y="364.00" font-size="12" fill="#cc33ff" text-anchor="start" >80 <tspan font-family="Liberation Serif, serif">&#956;</tspan>m</text>
<text x="238.20" y="385.40" font-size="12" fill="#e619ff" text-anchor="start" >90 <tspan font-family="Liberation Serif, serif">&#956;</tspan>m</text>
<text x="235.60" y="407.20" font-size="12" fill="#ff00ff" text-anchor="start" >100 <tspan font-family="Liberation Serif, serif">&#956;</tspan>m</text>
<rect x="25.40" y="265.50" width="279.20" height="183.60" fill="none" stroke="#262626" stroke-width="1"/>
<line x1="25.40" y1="449.10" x2="25.40" y2="446.10" stroke="#262626" stroke-width="1" />
<line x1="25.40" y1="265.50" x2="25.40" y2="268.50" stroke="#262626" stroke-width="1" />
<text x="25.10" y="466.30" font-size="14" fill="#000" text-anchor="middle" >&#8211;50</text>
<line x1="95.20" y1="449.10" x2="95.20" y2="446.10" stroke="#262626" stroke-width="1" />
<line x1="95.20" y1="265.50" x2="95.20" y2="268.50" stroke="#262626" stroke-width="1" />
<text x="95.20" y="466.30" font-size="14" fill="#000" text-anchor="middle" >0</text>
<line x1="165.00" y1="449.10" x2="165.00" y2="446.10" stroke="#262626" stroke-width="1" />
<line x1="165.00" y1="265.50" x2="165.00" y2="268.50" stroke="#262626" stroke-width="1" />
<text x="165.00" y="466.30" font-size="14" fill="#000" text-anchor="middle" >50</text>
<line x1="234.80" y1="449.10" x2="234.80" y2="446.10" stroke="#262626" stroke-width="1" />
<line x1="234.80" y1="265.50" x2="234.80" y2="268.50" stroke="#262626" stroke-width="1" />
<text x="234.80" y="466.30" font-size="14" fill="#000" text-anchor="middle" >100</text>
<line x1="304.60" y1="449.10" x2="304.60" y2="446.10" stroke="#262626" stroke-width="1" />
<line x1="304.60" y1="265.50" x2="304.60" y2="268.50" stroke="#262626" stroke-width="1" />
<text x="304.60" y="466.30" font-size="14" fill="#000" text-anchor="middle" >150</text>
<line x1="25.40" y1="387.90" x2="28.40" y2="387.90" stroke="#262626" stroke-width="1" />
<line x1="304.60" y1="387.90" x2="301.60" y2="387.90" stroke="#262626" stroke-width="1" />
<line x1="25.40" y1="326.70" x2="28.40" y2="326.70" stroke="#262626" stroke-width="1" />
<line x1="304.60" y1="326.70" x2="301.60" y2="326.70" stroke="#262626" stroke-width="1" />
<text x="166.00" y="487.00" font-size="14" fill="#000" text-anchor="middle" ><tspan font-style="italic">Y</tspan> (<tspan font-family="Liberation Serif, serif">&#956;</tspan>m)</text>
<text x="0.00" y="0.00" font-size="14" fill="#000" text-anchor="middle" transform="translate(11.6,356.9) rotate(-90)" textLength="90.6" lengthAdjust="spacingAndGlyphs">Intensity (a.u.)</text>
<text x="-1.30" y="272.70" font-size="21" fill="#000" text-anchor="start" font-weight="bold">c</text>
</svg>
</body></html>
